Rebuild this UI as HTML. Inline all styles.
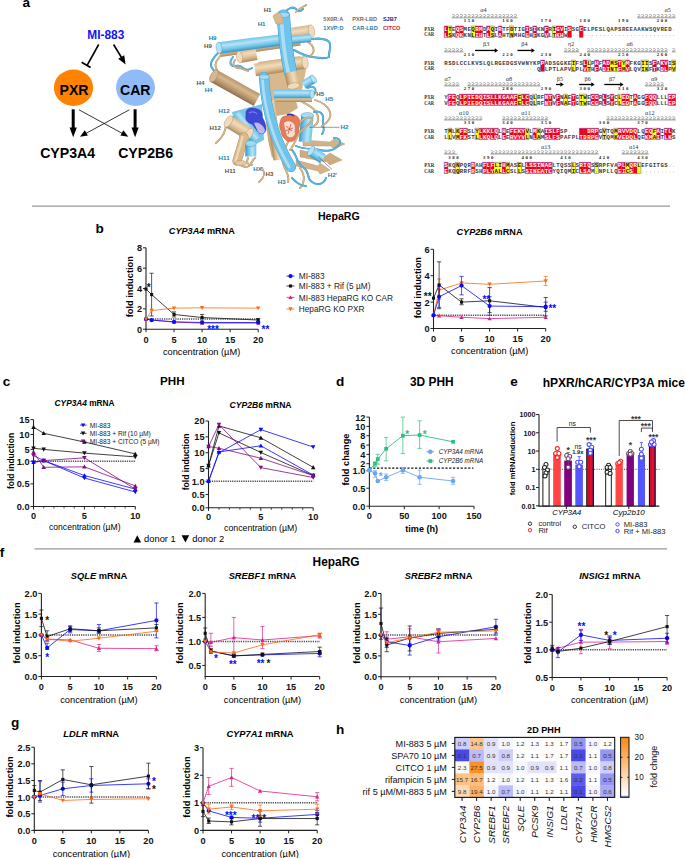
<!DOCTYPE html>
<html><head><meta charset="utf-8"><style>
html,body{margin:0;padding:0;background:#fff;}
body{width:685px;height:858px;overflow:hidden;}
svg{display:block;font-family:"Liberation Sans",sans-serif;}
</style></head><body>
<svg width="685" height="858" viewBox="0 0 685 858">
<rect width="685" height="858" fill="#fff"/>
<text x="22.60" y="7.00" font-size="13.6" font-weight="bold" text-anchor="start" fill="#000">a</text>
<text x="105.80" y="38.76" font-size="11.9" font-weight="bold" text-anchor="middle" fill="#1414f5">MI-883</text>
<ellipse cx="73.5" cy="87.7" rx="19.6" ry="18.2" fill="#ff8200"/>
<ellipse cx="135.5" cy="87.7" rx="19.5" ry="18.2" fill="#8fbcf7"/>
<text x="74.00" y="94.99" font-size="14.1" font-weight="bold" text-anchor="middle" fill="#000">PXR</text>
<text x="135.30" y="94.99" font-size="14.1" font-weight="bold" text-anchor="middle" fill="#000">CAR</text>
<line x1="98.70" y1="44.50" x2="87.20" y2="65.20" stroke="#000" stroke-width="1.6"/>
<line x1="81.60" y1="62.20" x2="90.60" y2="67.60" stroke="#000" stroke-width="1.7"/>
<line x1="113.60" y1="44.50" x2="121.50" y2="57.50" stroke="#000" stroke-width="1.6"/>
<polygon points="125.6,64.5 118.2,58.8 124.2,55.2" fill="#000"/>
<line x1="73.20" y1="109.30" x2="73.20" y2="128.50" stroke="#000" stroke-width="3.0"/>
<polygon points="73.2,137.2 69.6,127.5 76.8,127.5" fill="#000"/>
<line x1="135.10" y1="109.30" x2="135.10" y2="128.50" stroke="#000" stroke-width="3.0"/>
<polygon points="135.1,137.2 131.5,127.5 138.7,127.5" fill="#000"/>
<line x1="79.00" y1="109.80" x2="122.50" y2="133.50" stroke="#000" stroke-width="0.8"/>
<polygon points="128.3,136.8 120.4,135.6 123.4,130.3" fill="#000"/>
<line x1="129.30" y1="109.80" x2="85.80" y2="133.50" stroke="#000" stroke-width="0.8"/>
<polygon points="80.0,136.8 84.8,130.3 87.9,135.6" fill="#000"/>
<text x="67.60" y="158.19" font-size="14.1" font-weight="bold" text-anchor="middle" fill="#000">CYP3A4</text>
<text x="145.60" y="158.19" font-size="14.1" font-weight="bold" text-anchor="middle" fill="#000">CYP2B6</text>
<line x1="32.00" y1="206.20" x2="670.00" y2="206.20" stroke="#9a9a9a" stroke-width="1.2"/>
<line x1="34.50" y1="548.90" x2="667.00" y2="548.90" stroke="#9a9a9a" stroke-width="1.2"/>
<text x="338.80" y="219.97" font-size="10.6" font-weight="bold" text-anchor="middle" fill="#000">HepaRG</text>
<text x="95.60" y="233.00" font-size="13.6" font-weight="bold" text-anchor="start" fill="#000">b</text>
<text x="201.80" y="233.83" font-size="9.15" font-weight="bold" text-anchor="middle"><tspan font-style="italic">CYP3A4</tspan> mRNA</text>
<line x1="146.00" y1="247.80" x2="146.00" y2="329.70" stroke="#222" stroke-width="1.1"/>
<line x1="145.50" y1="329.20" x2="258.20" y2="329.20" stroke="#222" stroke-width="1.1"/>
<line x1="143.00" y1="329.20" x2="146.00" y2="329.20" stroke="#222" stroke-width="1"/>
<text x="142.00" y="332.65" font-size="9.2" font-weight="bold" text-anchor="end" fill="#111">0</text>
<line x1="143.00" y1="308.85" x2="146.00" y2="308.85" stroke="#222" stroke-width="1"/>
<text x="142.00" y="312.30" font-size="9.2" font-weight="bold" text-anchor="end" fill="#111">2</text>
<line x1="143.00" y1="288.50" x2="146.00" y2="288.50" stroke="#222" stroke-width="1"/>
<text x="142.00" y="291.95" font-size="9.2" font-weight="bold" text-anchor="end" fill="#111">4</text>
<line x1="143.00" y1="268.15" x2="146.00" y2="268.15" stroke="#222" stroke-width="1"/>
<text x="142.00" y="271.60" font-size="9.2" font-weight="bold" text-anchor="end" fill="#111">6</text>
<line x1="143.00" y1="247.80" x2="146.00" y2="247.80" stroke="#222" stroke-width="1"/>
<text x="142.00" y="251.25" font-size="9.2" font-weight="bold" text-anchor="end" fill="#111">8</text>
<line x1="146.00" y1="329.20" x2="146.00" y2="332.20" stroke="#222" stroke-width="1"/>
<text x="146.00" y="343.05" font-size="9.2" font-weight="bold" text-anchor="middle" fill="#111">0</text>
<line x1="174.05" y1="329.20" x2="174.05" y2="332.20" stroke="#222" stroke-width="1"/>
<text x="174.05" y="343.05" font-size="9.2" font-weight="bold" text-anchor="middle" fill="#111">5</text>
<line x1="202.10" y1="329.20" x2="202.10" y2="332.20" stroke="#222" stroke-width="1"/>
<text x="202.10" y="343.05" font-size="9.2" font-weight="bold" text-anchor="middle" fill="#111">10</text>
<line x1="230.15" y1="329.20" x2="230.15" y2="332.20" stroke="#222" stroke-width="1"/>
<text x="230.15" y="343.05" font-size="9.2" font-weight="bold" text-anchor="middle" fill="#111">15</text>
<line x1="258.20" y1="329.20" x2="258.20" y2="332.20" stroke="#222" stroke-width="1"/>
<text x="258.20" y="343.05" font-size="9.2" font-weight="bold" text-anchor="middle" fill="#111">20</text>
<text x="129.40" y="290.18" font-size="9.28" font-weight="bold" text-anchor="middle" fill="#000" transform="rotate(-90 129.40 286.70)">fold induction</text>
<text x="201.60" y="354.97" font-size="9.26" text-anchor="middle" fill="#000">concentration (µM)</text>
<line x1="146.00" y1="319.02" x2="258.20" y2="319.02" stroke="#222" stroke-width="1.5" stroke-dasharray="0.8,1.0"/>
<polyline points="146.00,319.02 151.61,320.04 174.05,322.08 202.10,323.09 258.20,323.09" fill="none" stroke="#e0208a" stroke-width="0.8"/>
<polygon points="146.00,316.88 148.15,320.75 143.85,320.75" fill="#e0208a"/>
<polygon points="151.61,317.89 153.76,321.76 149.46,321.76" fill="#e0208a"/>
<polygon points="174.05,319.93 176.20,323.80 171.90,323.80" fill="#e0208a"/>
<polygon points="202.10,320.94 204.25,324.81 199.95,324.81" fill="#e0208a"/>
<polygon points="258.20,320.94 260.35,324.81 256.05,324.81" fill="#e0208a"/>
<line x1="151.61" y1="315.97" x2="151.61" y2="273.24" stroke="#111" stroke-width="0.7"/>
<line x1="149.51" y1="273.24" x2="153.71" y2="273.24" stroke="#111" stroke-width="0.7"/>
<line x1="149.51" y1="315.97" x2="153.71" y2="315.97" stroke="#111" stroke-width="0.7"/>
<line x1="174.05" y1="316.99" x2="174.05" y2="311.90" stroke="#111" stroke-width="0.7"/>
<line x1="171.95" y1="311.90" x2="176.15" y2="311.90" stroke="#111" stroke-width="0.7"/>
<line x1="171.95" y1="316.99" x2="176.15" y2="316.99" stroke="#111" stroke-width="0.7"/>
<line x1="202.10" y1="321.06" x2="202.10" y2="314.45" stroke="#111" stroke-width="0.7"/>
<line x1="200.00" y1="314.45" x2="204.20" y2="314.45" stroke="#111" stroke-width="0.7"/>
<line x1="200.00" y1="321.06" x2="204.20" y2="321.06" stroke="#111" stroke-width="0.7"/>
<line x1="258.20" y1="321.57" x2="258.20" y2="318.52" stroke="#111" stroke-width="0.7"/>
<line x1="256.10" y1="318.52" x2="260.30" y2="318.52" stroke="#111" stroke-width="0.7"/>
<line x1="256.10" y1="321.57" x2="260.30" y2="321.57" stroke="#111" stroke-width="0.7"/>
<polyline points="146.00,289.01 151.61,294.61 174.05,314.45 202.10,317.50 258.20,320.04" fill="none" stroke="#111" stroke-width="0.8"/>
<rect x="144.45" y="287.46" width="3.10" height="3.10" fill="#111"/>
<rect x="150.06" y="293.06" width="3.10" height="3.10" fill="#111"/>
<rect x="172.50" y="312.90" width="3.10" height="3.10" fill="#111"/>
<rect x="200.55" y="315.95" width="3.10" height="3.10" fill="#111"/>
<rect x="256.65" y="318.49" width="3.10" height="3.10" fill="#111"/>
<polyline points="146.00,319.02 151.61,320.04 174.05,321.87 202.10,322.48 258.20,322.48" fill="none" stroke="#0a0aff" stroke-width="0.8"/>
<circle cx="146.00" cy="319.02" r="2.10" fill="#0a0aff"/>
<circle cx="151.61" cy="320.04" r="2.10" fill="#0a0aff"/>
<circle cx="174.05" cy="321.87" r="2.10" fill="#0a0aff"/>
<circle cx="202.10" cy="322.48" r="2.10" fill="#0a0aff"/>
<circle cx="258.20" cy="322.48" r="2.10" fill="#0a0aff"/>
<polyline points="146.00,319.02 151.61,310.58 174.05,308.14 202.10,307.83 258.20,308.14" fill="none" stroke="#ff6a10" stroke-width="0.8"/>
<polygon points="146.00,321.17 148.15,317.30 143.85,317.30" fill="#ff6a10"/>
<polygon points="151.61,312.73 153.76,308.86 149.46,308.86" fill="#ff6a10"/>
<polygon points="174.05,310.29 176.20,306.42 171.90,306.42" fill="#ff6a10"/>
<polygon points="202.10,309.98 204.25,306.11 199.95,306.11" fill="#ff6a10"/>
<polygon points="258.20,310.29 260.35,306.42 256.05,306.42" fill="#ff6a10"/>
<text x="148.70" y="290.85" font-size="10" font-weight="bold" text-anchor="middle" fill="#111">*</text>
<text x="213.00" y="332.55" font-size="10" font-weight="bold" text-anchor="middle" fill="#0a0aff">***</text>
<text x="265.50" y="332.55" font-size="10" font-weight="bold" text-anchor="middle" fill="#0a0aff">**</text>
<line x1="286.50" y1="276.10" x2="294.50" y2="276.10" stroke="#0a0aff" stroke-width="0.8"/>
<circle cx="290.50" cy="276.10" r="2.10" fill="#0a0aff"/>
<text x="298.80" y="279.20" font-size="8.27" text-anchor="start" fill="#222">MI-883</text>
<line x1="286.50" y1="286.00" x2="294.50" y2="286.00" stroke="#111" stroke-width="0.8"/>
<rect x="288.95" y="284.45" width="3.10" height="3.10" fill="#111"/>
<text x="298.80" y="289.10" font-size="8.27" text-anchor="start" fill="#222">MI-883 + Rif (5 µM)</text>
<line x1="286.50" y1="297.40" x2="294.50" y2="297.40" stroke="#e0208a" stroke-width="0.8"/>
<polygon points="290.50,295.25 292.65,299.12 288.35,299.12" fill="#e0208a"/>
<text x="298.80" y="300.50" font-size="8.27" text-anchor="start" fill="#222">MI-883 HepaRG KO CAR</text>
<line x1="286.50" y1="309.00" x2="294.50" y2="309.00" stroke="#ff6a10" stroke-width="0.8"/>
<polygon points="290.50,311.15 292.65,307.28 288.35,307.28" fill="#ff6a10"/>
<text x="298.80" y="312.10" font-size="8.27" text-anchor="start" fill="#222">HepaRG KO PXR</text>
<text x="489.50" y="234.63" font-size="9.15" font-weight="bold" text-anchor="middle"><tspan font-style="italic">CYP2B6</tspan> mRNA</text>
<line x1="433.50" y1="249.30" x2="433.50" y2="329.00" stroke="#222" stroke-width="1.1"/>
<line x1="433.00" y1="328.50" x2="545.70" y2="328.50" stroke="#222" stroke-width="1.1"/>
<line x1="430.50" y1="328.50" x2="433.50" y2="328.50" stroke="#222" stroke-width="1"/>
<text x="429.50" y="331.95" font-size="9.2" font-weight="bold" text-anchor="end" fill="#111">0</text>
<line x1="430.50" y1="302.10" x2="433.50" y2="302.10" stroke="#222" stroke-width="1"/>
<text x="429.50" y="305.55" font-size="9.2" font-weight="bold" text-anchor="end" fill="#111">2</text>
<line x1="430.50" y1="275.70" x2="433.50" y2="275.70" stroke="#222" stroke-width="1"/>
<text x="429.50" y="279.15" font-size="9.2" font-weight="bold" text-anchor="end" fill="#111">4</text>
<line x1="430.50" y1="249.30" x2="433.50" y2="249.30" stroke="#222" stroke-width="1"/>
<text x="429.50" y="252.75" font-size="9.2" font-weight="bold" text-anchor="end" fill="#111">6</text>
<line x1="433.50" y1="328.50" x2="433.50" y2="331.50" stroke="#222" stroke-width="1"/>
<text x="433.50" y="342.05" font-size="9.2" font-weight="bold" text-anchor="middle" fill="#111">0</text>
<line x1="461.55" y1="328.50" x2="461.55" y2="331.50" stroke="#222" stroke-width="1"/>
<text x="461.55" y="342.05" font-size="9.2" font-weight="bold" text-anchor="middle" fill="#111">5</text>
<line x1="489.60" y1="328.50" x2="489.60" y2="331.50" stroke="#222" stroke-width="1"/>
<text x="489.60" y="342.05" font-size="9.2" font-weight="bold" text-anchor="middle" fill="#111">10</text>
<line x1="517.65" y1="328.50" x2="517.65" y2="331.50" stroke="#222" stroke-width="1"/>
<text x="517.65" y="342.05" font-size="9.2" font-weight="bold" text-anchor="middle" fill="#111">15</text>
<line x1="545.70" y1="328.50" x2="545.70" y2="331.50" stroke="#222" stroke-width="1"/>
<text x="545.70" y="342.05" font-size="9.2" font-weight="bold" text-anchor="middle" fill="#111">20</text>
<text x="417.40" y="291.08" font-size="9.28" font-weight="bold" text-anchor="middle" fill="#000" transform="rotate(-90 417.40 287.60)">fold induction</text>
<text x="489.70" y="353.77" font-size="9.26" text-anchor="middle" fill="#000">concentration (µM)</text>
<line x1="433.50" y1="315.30" x2="545.70" y2="315.30" stroke="#222" stroke-width="1.5" stroke-dasharray="0.8,1.0"/>
<polyline points="433.50,315.30 439.11,315.70 461.55,317.28 489.60,318.60 545.70,317.28" fill="none" stroke="#e0208a" stroke-width="0.8"/>
<polygon points="433.50,313.15 435.65,317.02 431.35,317.02" fill="#e0208a"/>
<polygon points="439.11,313.55 441.26,317.42 436.96,317.42" fill="#e0208a"/>
<polygon points="461.55,315.13 463.70,319.00 459.40,319.00" fill="#e0208a"/>
<polygon points="489.60,316.45 491.75,320.32 487.45,320.32" fill="#e0208a"/>
<polygon points="545.70,315.13 547.85,319.00 543.55,319.00" fill="#e0208a"/>
<line x1="439.11" y1="299.46" x2="439.11" y2="279.00" stroke="#ff6a10" stroke-width="0.7"/>
<line x1="437.01" y1="279.00" x2="441.21" y2="279.00" stroke="#ff6a10" stroke-width="0.7"/>
<line x1="437.01" y1="299.46" x2="441.21" y2="299.46" stroke="#ff6a10" stroke-width="0.7"/>
<line x1="545.70" y1="285.60" x2="545.70" y2="276.36" stroke="#ff6a10" stroke-width="0.7"/>
<line x1="543.60" y1="276.36" x2="547.80" y2="276.36" stroke="#ff6a10" stroke-width="0.7"/>
<line x1="543.60" y1="285.60" x2="547.80" y2="285.60" stroke="#ff6a10" stroke-width="0.7"/>
<polyline points="433.50,315.30 439.11,290.22 461.55,282.96 489.60,284.28 545.70,280.98" fill="none" stroke="#ff6a10" stroke-width="0.8"/>
<polygon points="433.50,317.45 435.65,313.58 431.35,313.58" fill="#ff6a10"/>
<polygon points="439.11,292.37 441.26,288.50 436.96,288.50" fill="#ff6a10"/>
<polygon points="461.55,285.11 463.70,281.24 459.40,281.24" fill="#ff6a10"/>
<polygon points="489.60,286.43 491.75,282.56 487.45,282.56" fill="#ff6a10"/>
<polygon points="545.70,283.13 547.85,279.26 543.55,279.26" fill="#ff6a10"/>
<line x1="439.11" y1="308.70" x2="439.11" y2="261.84" stroke="#111" stroke-width="0.7"/>
<line x1="437.01" y1="261.84" x2="441.21" y2="261.84" stroke="#111" stroke-width="0.7"/>
<line x1="437.01" y1="308.70" x2="441.21" y2="308.70" stroke="#111" stroke-width="0.7"/>
<line x1="461.55" y1="304.74" x2="461.55" y2="298.80" stroke="#111" stroke-width="0.7"/>
<line x1="459.45" y1="298.80" x2="463.65" y2="298.80" stroke="#111" stroke-width="0.7"/>
<line x1="459.45" y1="304.74" x2="463.65" y2="304.74" stroke="#111" stroke-width="0.7"/>
<line x1="489.60" y1="312.66" x2="489.60" y2="287.58" stroke="#111" stroke-width="0.7"/>
<line x1="487.50" y1="287.58" x2="491.70" y2="287.58" stroke="#111" stroke-width="0.7"/>
<line x1="487.50" y1="312.66" x2="491.70" y2="312.66" stroke="#111" stroke-width="0.7"/>
<line x1="545.70" y1="315.96" x2="545.70" y2="297.48" stroke="#111" stroke-width="0.7"/>
<line x1="543.60" y1="297.48" x2="547.80" y2="297.48" stroke="#111" stroke-width="0.7"/>
<line x1="543.60" y1="315.96" x2="547.80" y2="315.96" stroke="#111" stroke-width="0.7"/>
<polyline points="433.50,298.14 439.11,284.94 461.55,302.10 489.60,300.78 545.70,307.38" fill="none" stroke="#111" stroke-width="0.8"/>
<rect x="431.95" y="296.59" width="3.10" height="3.10" fill="#111"/>
<rect x="437.56" y="283.39" width="3.10" height="3.10" fill="#111"/>
<rect x="460.00" y="300.55" width="3.10" height="3.10" fill="#111"/>
<rect x="488.05" y="299.23" width="3.10" height="3.10" fill="#111"/>
<rect x="544.15" y="305.83" width="3.10" height="3.10" fill="#111"/>
<line x1="439.11" y1="307.38" x2="439.11" y2="286.26" stroke="#0a0aff" stroke-width="0.7"/>
<line x1="437.01" y1="286.26" x2="441.21" y2="286.26" stroke="#0a0aff" stroke-width="0.7"/>
<line x1="437.01" y1="307.38" x2="441.21" y2="307.38" stroke="#0a0aff" stroke-width="0.7"/>
<line x1="461.55" y1="294.84" x2="461.55" y2="276.36" stroke="#0a0aff" stroke-width="0.7"/>
<line x1="459.45" y1="276.36" x2="463.65" y2="276.36" stroke="#0a0aff" stroke-width="0.7"/>
<line x1="459.45" y1="294.84" x2="463.65" y2="294.84" stroke="#0a0aff" stroke-width="0.7"/>
<line x1="489.60" y1="315.30" x2="489.60" y2="296.82" stroke="#0a0aff" stroke-width="0.7"/>
<line x1="487.50" y1="296.82" x2="491.70" y2="296.82" stroke="#0a0aff" stroke-width="0.7"/>
<line x1="487.50" y1="315.30" x2="491.70" y2="315.30" stroke="#0a0aff" stroke-width="0.7"/>
<line x1="545.70" y1="311.34" x2="545.70" y2="302.10" stroke="#0a0aff" stroke-width="0.7"/>
<line x1="543.60" y1="302.10" x2="547.80" y2="302.10" stroke="#0a0aff" stroke-width="0.7"/>
<line x1="543.60" y1="311.34" x2="547.80" y2="311.34" stroke="#0a0aff" stroke-width="0.7"/>
<polyline points="433.50,315.30 439.11,296.82 461.55,285.60 489.60,306.06 545.70,306.72" fill="none" stroke="#0a0aff" stroke-width="0.8"/>
<circle cx="433.50" cy="315.30" r="2.10" fill="#0a0aff"/>
<circle cx="439.11" cy="296.82" r="2.10" fill="#0a0aff"/>
<circle cx="461.55" cy="285.60" r="2.10" fill="#0a0aff"/>
<circle cx="489.60" cy="306.06" r="2.10" fill="#0a0aff"/>
<circle cx="545.70" cy="306.72" r="2.10" fill="#0a0aff"/>
<text x="427.70" y="300.35" font-size="10" font-weight="bold" text-anchor="middle" fill="#111">**</text>
<text x="486.30" y="303.35" font-size="10" font-weight="bold" text-anchor="middle" fill="#0a0aff">**</text>
<text x="552.30" y="312.35" font-size="10" font-weight="bold" text-anchor="middle" fill="#0a0aff">**</text>
<text x="2.80" y="386.10" font-size="13.6" font-weight="bold" text-anchor="start" fill="#000">c</text>
<text x="172.30" y="384.75" font-size="11.6" font-weight="bold" text-anchor="middle" fill="#000">PHH</text>
<text x="84.60" y="406.11" font-size="8.3" font-weight="bold" text-anchor="middle"><tspan font-style="italic">CYP3A4</tspan> mRNA</text>
<line x1="33.50" y1="419.60" x2="33.50" y2="507.00" stroke="#222" stroke-width="1.1"/>
<line x1="33.00" y1="506.50" x2="135.30" y2="506.50" stroke="#222" stroke-width="1.1"/>
<line x1="30.50" y1="506.50" x2="33.50" y2="506.50" stroke="#222" stroke-width="1"/>
<text x="29.50" y="509.95" font-size="9.2" font-weight="bold" text-anchor="end" fill="#111">0.0</text>
<line x1="30.50" y1="483.90" x2="33.50" y2="483.90" stroke="#222" stroke-width="1"/>
<text x="29.50" y="487.35" font-size="9.2" font-weight="bold" text-anchor="end" fill="#111">0.5</text>
<line x1="30.50" y1="461.30" x2="33.50" y2="461.30" stroke="#222" stroke-width="1"/>
<text x="29.50" y="464.75" font-size="9.2" font-weight="bold" text-anchor="end" fill="#111">1.0</text>
<line x1="30.50" y1="449.39" x2="33.50" y2="449.39" stroke="#222" stroke-width="1"/>
<text x="29.50" y="452.84" font-size="9.2" font-weight="bold" text-anchor="end" fill="#111">5</text>
<line x1="30.50" y1="434.49" x2="33.50" y2="434.49" stroke="#222" stroke-width="1"/>
<text x="29.50" y="437.94" font-size="9.2" font-weight="bold" text-anchor="end" fill="#111">10</text>
<line x1="30.50" y1="419.60" x2="33.50" y2="419.60" stroke="#222" stroke-width="1"/>
<text x="29.50" y="423.05" font-size="9.2" font-weight="bold" text-anchor="end" fill="#111">15</text>
<line x1="33.50" y1="506.50" x2="33.50" y2="509.50" stroke="#222" stroke-width="1"/>
<text x="33.50" y="518.65" font-size="9.2" font-weight="bold" text-anchor="middle" fill="#111">0</text>
<line x1="84.40" y1="506.50" x2="84.40" y2="509.50" stroke="#222" stroke-width="1"/>
<text x="84.40" y="518.65" font-size="9.2" font-weight="bold" text-anchor="middle" fill="#111">5</text>
<line x1="135.30" y1="506.50" x2="135.30" y2="509.50" stroke="#222" stroke-width="1"/>
<text x="135.30" y="518.65" font-size="9.2" font-weight="bold" text-anchor="middle" fill="#111">10</text>
<line x1="43.68" y1="506.50" x2="43.68" y2="508.50" stroke="#222" stroke-width="0.8"/>
<line x1="53.86" y1="506.50" x2="53.86" y2="508.50" stroke="#222" stroke-width="0.8"/>
<line x1="64.04" y1="506.50" x2="64.04" y2="508.50" stroke="#222" stroke-width="0.8"/>
<line x1="74.22" y1="506.50" x2="74.22" y2="508.50" stroke="#222" stroke-width="0.8"/>
<line x1="94.58" y1="506.50" x2="94.58" y2="508.50" stroke="#222" stroke-width="0.8"/>
<line x1="104.76" y1="506.50" x2="104.76" y2="508.50" stroke="#222" stroke-width="0.8"/>
<line x1="114.94" y1="506.50" x2="114.94" y2="508.50" stroke="#222" stroke-width="0.8"/>
<line x1="125.12" y1="506.50" x2="125.12" y2="508.50" stroke="#222" stroke-width="0.8"/>
<text x="11.20" y="464.19" font-size="8.5" font-weight="bold" text-anchor="middle" fill="#000" transform="rotate(-90 11.20 461.00)">fold induction</text>
<text x="84.80" y="529.61" font-size="8.55" text-anchor="middle" fill="#000">concentration (µM)</text>
<line x1="33.50" y1="461.30" x2="135.30" y2="461.30" stroke="#222" stroke-width="1.5" stroke-dasharray="0.8,1.0"/>
<polyline points="33.50,427.10 43.68,433.30 84.40,442.00 135.30,453.90" fill="none" stroke="#111" stroke-width="0.8"/>
<polygon points="33.50,424.84 35.76,428.91 31.24,428.91" fill="#111"/>
<polygon points="43.68,431.04 45.94,435.11 41.42,435.11" fill="#111"/>
<polygon points="84.40,439.74 86.66,443.81 82.14,443.81" fill="#111"/>
<polygon points="135.30,451.64 137.56,455.71 133.04,455.71" fill="#111"/>
<polyline points="33.50,448.20 43.68,449.40 84.40,453.10 135.30,456.90" fill="none" stroke="#111" stroke-width="0.8"/>
<polygon points="33.50,450.46 35.76,446.39 31.24,446.39" fill="#111"/>
<polygon points="43.68,451.66 45.94,447.59 41.42,447.59" fill="#111"/>
<polygon points="84.40,455.36 86.66,451.29 82.14,451.29" fill="#111"/>
<polygon points="135.30,459.16 137.56,455.09 133.04,455.09" fill="#111"/>
<polyline points="33.50,462.30 43.68,460.60 84.40,475.50 135.30,489.10" fill="none" stroke="#0a0aff" stroke-width="0.8"/>
<polygon points="33.50,460.04 35.76,464.11 31.24,464.11" fill="#0a0aff"/>
<polygon points="43.68,458.34 45.94,462.41 41.42,462.41" fill="#0a0aff"/>
<polygon points="84.40,473.24 86.66,477.31 82.14,477.31" fill="#0a0aff"/>
<polygon points="135.30,486.84 137.56,490.91 133.04,490.91" fill="#0a0aff"/>
<polyline points="33.50,462.30 43.68,460.60 84.40,478.00 135.30,492.00" fill="none" stroke="#0a0aff" stroke-width="0.8"/>
<polygon points="33.50,464.56 35.76,460.49 31.24,460.49" fill="#0a0aff"/>
<polygon points="43.68,462.86 45.94,458.79 41.42,458.79" fill="#0a0aff"/>
<polygon points="84.40,480.26 86.66,476.19 82.14,476.19" fill="#0a0aff"/>
<polygon points="135.30,494.26 137.56,490.19 133.04,490.19" fill="#0a0aff"/>
<polyline points="33.50,452.00 43.68,467.30 84.40,466.80 135.30,485.90" fill="none" stroke="#840a84" stroke-width="0.8"/>
<polygon points="33.50,449.74 35.76,453.81 31.24,453.81" fill="#840a84"/>
<polygon points="43.68,465.04 45.94,469.11 41.42,469.11" fill="#840a84"/>
<polygon points="84.40,464.54 86.66,468.61 82.14,468.61" fill="#840a84"/>
<polygon points="135.30,483.64 137.56,487.71 133.04,487.71" fill="#840a84"/>
<polyline points="33.50,455.60 43.68,460.60 84.40,457.80 135.30,489.10" fill="none" stroke="#840a84" stroke-width="0.8"/>
<polygon points="33.50,457.86 35.76,453.79 31.24,453.79" fill="#840a84"/>
<polygon points="43.68,462.86 45.94,458.79 41.42,458.79" fill="#840a84"/>
<polygon points="84.40,460.06 86.66,455.99 82.14,455.99" fill="#840a84"/>
<polygon points="135.30,491.36 137.56,487.29 133.04,487.29" fill="#840a84"/>
<line x1="80.00" y1="425.10" x2="86.50" y2="425.10" stroke="#0a0aff" stroke-width="0.8"/>
<polygon points="83.10,427.25 85.25,423.38 80.95,423.38" fill="#0a0aff"/>
<text x="89.80" y="427.58" font-size="6.62" text-anchor="start" fill="#222">MI-883</text>
<line x1="80.00" y1="433.30" x2="86.50" y2="433.30" stroke="#111" stroke-width="0.8"/>
<polygon points="83.10,435.45 85.25,431.58 80.95,431.58" fill="#111"/>
<text x="89.80" y="435.78" font-size="6.62" text-anchor="start" fill="#222">MI-883 + Rif (10 µM)</text>
<line x1="80.00" y1="441.20" x2="86.50" y2="441.20" stroke="#840a84" stroke-width="0.8"/>
<polygon points="83.10,443.35 85.25,439.48 80.95,439.48" fill="#840a84"/>
<text x="89.80" y="443.68" font-size="6.62" text-anchor="start" fill="#222">MI-883 + CITCO (5 µM)</text>
<text x="260.60" y="407.52" font-size="8.58" font-weight="bold" text-anchor="middle"><tspan font-style="italic">CYP2B6</tspan> mRNA</text>
<line x1="208.50" y1="421.00" x2="208.50" y2="508.30" stroke="#222" stroke-width="1.1"/>
<line x1="208.00" y1="507.80" x2="313.20" y2="507.80" stroke="#222" stroke-width="1.1"/>
<line x1="205.50" y1="507.80" x2="208.50" y2="507.80" stroke="#222" stroke-width="1"/>
<text x="204.50" y="511.25" font-size="9.2" font-weight="bold" text-anchor="end" fill="#111">0.0</text>
<line x1="205.50" y1="494.55" x2="208.50" y2="494.55" stroke="#222" stroke-width="1"/>
<text x="204.50" y="498.00" font-size="9.2" font-weight="bold" text-anchor="end" fill="#111">0.5</text>
<line x1="205.50" y1="481.30" x2="208.50" y2="481.30" stroke="#222" stroke-width="1"/>
<text x="204.50" y="484.75" font-size="9.2" font-weight="bold" text-anchor="end" fill="#111">1.0</text>
<line x1="205.50" y1="468.61" x2="208.50" y2="468.61" stroke="#222" stroke-width="1"/>
<text x="204.50" y="472.06" font-size="9.2" font-weight="bold" text-anchor="end" fill="#111">5</text>
<line x1="205.50" y1="452.74" x2="208.50" y2="452.74" stroke="#222" stroke-width="1"/>
<text x="204.50" y="456.19" font-size="9.2" font-weight="bold" text-anchor="end" fill="#111">10</text>
<line x1="205.50" y1="436.87" x2="208.50" y2="436.87" stroke="#222" stroke-width="1"/>
<text x="204.50" y="440.32" font-size="9.2" font-weight="bold" text-anchor="end" fill="#111">15</text>
<line x1="205.50" y1="421.00" x2="208.50" y2="421.00" stroke="#222" stroke-width="1"/>
<text x="204.50" y="424.45" font-size="9.2" font-weight="bold" text-anchor="end" fill="#111">20</text>
<line x1="208.50" y1="507.80" x2="208.50" y2="510.80" stroke="#222" stroke-width="1"/>
<text x="208.50" y="519.95" font-size="9.2" font-weight="bold" text-anchor="middle" fill="#111">0</text>
<line x1="260.85" y1="507.80" x2="260.85" y2="510.80" stroke="#222" stroke-width="1"/>
<text x="260.85" y="519.95" font-size="9.2" font-weight="bold" text-anchor="middle" fill="#111">5</text>
<line x1="313.20" y1="507.80" x2="313.20" y2="510.80" stroke="#222" stroke-width="1"/>
<text x="313.20" y="519.95" font-size="9.2" font-weight="bold" text-anchor="middle" fill="#111">10</text>
<line x1="218.97" y1="507.80" x2="218.97" y2="509.80" stroke="#222" stroke-width="0.8"/>
<line x1="229.44" y1="507.80" x2="229.44" y2="509.80" stroke="#222" stroke-width="0.8"/>
<line x1="239.91" y1="507.80" x2="239.91" y2="509.80" stroke="#222" stroke-width="0.8"/>
<line x1="250.38" y1="507.80" x2="250.38" y2="509.80" stroke="#222" stroke-width="0.8"/>
<line x1="271.32" y1="507.80" x2="271.32" y2="509.80" stroke="#222" stroke-width="0.8"/>
<line x1="281.79" y1="507.80" x2="281.79" y2="509.80" stroke="#222" stroke-width="0.8"/>
<line x1="292.26" y1="507.80" x2="292.26" y2="509.80" stroke="#222" stroke-width="0.8"/>
<line x1="302.73" y1="507.80" x2="302.73" y2="509.80" stroke="#222" stroke-width="0.8"/>
<text x="185.40" y="465.12" font-size="8.6" font-weight="bold" text-anchor="middle" fill="#000" transform="rotate(-90 185.40 461.90)">fold induction</text>
<text x="260.60" y="530.98" font-size="8.75" text-anchor="middle" fill="#000">concentration (µM)</text>
<line x1="208.50" y1="481.30" x2="313.20" y2="481.30" stroke="#222" stroke-width="1.5" stroke-dasharray="0.8,1.0"/>
<polyline points="208.50,465.63 218.97,425.92 260.85,437.83 313.20,467.37" fill="none" stroke="#111" stroke-width="0.8"/>
<polygon points="208.50,463.37 210.76,467.44 206.24,467.44" fill="#111"/>
<polygon points="218.97,423.66 221.23,427.72 216.71,427.72" fill="#111"/>
<polygon points="260.85,435.57 263.11,439.64 258.59,439.64" fill="#111"/>
<polygon points="313.20,465.11 315.46,469.17 310.94,469.17" fill="#111"/>
<polyline points="208.50,465.63 218.97,432.87 260.85,452.47 313.20,475.56" fill="none" stroke="#111" stroke-width="0.8"/>
<polygon points="208.50,467.89 210.76,463.82 206.24,463.82" fill="#111"/>
<polygon points="218.97,435.12 221.23,431.06 216.71,431.06" fill="#111"/>
<polygon points="260.85,454.73 263.11,450.67 258.59,450.67" fill="#111"/>
<polygon points="313.20,477.81 315.46,473.75 310.94,473.75" fill="#111"/>
<polyline points="208.50,481.27 218.97,452.72 260.85,429.64 313.20,447.01" fill="none" stroke="#0a0aff" stroke-width="0.8"/>
<polygon points="208.50,483.52 210.76,479.46 206.24,479.46" fill="#0a0aff"/>
<polygon points="218.97,454.98 221.23,450.92 216.71,450.92" fill="#0a0aff"/>
<polygon points="260.85,431.90 263.11,427.83 258.59,427.83" fill="#0a0aff"/>
<polygon points="313.20,449.27 315.46,445.21 310.94,445.21" fill="#0a0aff"/>
<polyline points="208.50,481.27 218.97,451.98 260.85,445.77 313.20,475.06" fill="none" stroke="#0a0aff" stroke-width="0.8"/>
<polygon points="208.50,479.01 210.76,483.07 206.24,483.07" fill="#0a0aff"/>
<polygon points="218.97,449.72 221.23,453.78 216.71,453.78" fill="#0a0aff"/>
<polygon points="260.85,443.52 263.11,447.58 258.59,447.58" fill="#0a0aff"/>
<polygon points="313.20,472.80 315.46,476.87 310.94,476.87" fill="#0a0aff"/>
<polyline points="208.50,446.52 218.97,424.68 260.85,467.61 313.20,477.54" fill="none" stroke="#840a84" stroke-width="0.8"/>
<polygon points="208.50,448.78 210.76,444.71 206.24,444.71" fill="#840a84"/>
<polygon points="218.97,426.93 221.23,422.87 216.71,422.87" fill="#840a84"/>
<polygon points="260.85,469.87 263.11,465.81 258.59,465.81" fill="#840a84"/>
<polygon points="313.20,479.80 315.46,475.74 310.94,475.74" fill="#840a84"/>
<polyline points="208.50,446.52 218.97,448.26 260.85,458.18 313.20,475.56" fill="none" stroke="#840a84" stroke-width="0.8"/>
<polygon points="208.50,444.26 210.76,448.32 206.24,448.32" fill="#840a84"/>
<polygon points="218.97,446.00 221.23,450.06 216.71,450.06" fill="#840a84"/>
<polygon points="260.85,455.93 263.11,459.99 258.59,459.99" fill="#840a84"/>
<polygon points="313.20,473.30 315.46,477.36 310.94,477.36" fill="#840a84"/>
<polygon points="133.5,542.4 137.3,535.2 141.1,542.4" fill="#000"/>
<text x="144.00" y="542.12" font-size="9.4" text-anchor="start" fill="#000">donor 1</text>
<polygon points="181.6,535.2 189.2,535.2 185.4,542.4" fill="#000"/>
<text x="192.30" y="542.12" font-size="9.4" text-anchor="start" fill="#000">donor 2</text>
<text x="335.90" y="385.80" font-size="13.6" font-weight="bold" text-anchor="start" fill="#000">d</text>
<text x="431.80" y="385.66" font-size="11.9" font-weight="bold" text-anchor="middle" fill="#000">3D PHH</text>
<line x1="369.40" y1="417.10" x2="369.40" y2="506.70" stroke="#222" stroke-width="1.1"/>
<line x1="368.90" y1="506.20" x2="474.00" y2="506.20" stroke="#222" stroke-width="1.1"/>
<line x1="366.40" y1="506.20" x2="369.40" y2="506.20" stroke="#222" stroke-width="1"/>
<text x="365.40" y="509.65" font-size="9.2" font-weight="bold" text-anchor="end" fill="#111">0.0</text>
<line x1="366.40" y1="488.20" x2="369.40" y2="488.20" stroke="#222" stroke-width="1"/>
<text x="365.40" y="491.65" font-size="9.2" font-weight="bold" text-anchor="end" fill="#111">0.5</text>
<line x1="366.40" y1="470.70" x2="369.40" y2="470.70" stroke="#222" stroke-width="1"/>
<text x="365.40" y="474.15" font-size="9.2" font-weight="bold" text-anchor="end" fill="#111">1.0</text>
<line x1="366.40" y1="463.70" x2="369.40" y2="463.70" stroke="#222" stroke-width="1"/>
<text x="365.40" y="467.15" font-size="9.2" font-weight="bold" text-anchor="end" fill="#111">2</text>
<line x1="366.40" y1="454.38" x2="369.40" y2="454.38" stroke="#222" stroke-width="1"/>
<text x="365.40" y="457.83" font-size="9.2" font-weight="bold" text-anchor="end" fill="#111">4</text>
<line x1="366.40" y1="445.06" x2="369.40" y2="445.06" stroke="#222" stroke-width="1"/>
<text x="365.40" y="448.51" font-size="9.2" font-weight="bold" text-anchor="end" fill="#111">6</text>
<line x1="366.40" y1="435.74" x2="369.40" y2="435.74" stroke="#222" stroke-width="1"/>
<text x="365.40" y="439.19" font-size="9.2" font-weight="bold" text-anchor="end" fill="#111">8</text>
<line x1="366.40" y1="426.42" x2="369.40" y2="426.42" stroke="#222" stroke-width="1"/>
<text x="365.40" y="429.87" font-size="9.2" font-weight="bold" text-anchor="end" fill="#111">10</text>
<line x1="366.40" y1="417.10" x2="369.40" y2="417.10" stroke="#222" stroke-width="1"/>
<text x="365.40" y="420.55" font-size="9.2" font-weight="bold" text-anchor="end" fill="#111">12</text>
<line x1="369.40" y1="506.20" x2="369.40" y2="509.20" stroke="#222" stroke-width="1"/>
<text x="369.40" y="519.25" font-size="9.2" font-weight="bold" text-anchor="middle" fill="#111">0</text>
<line x1="404.27" y1="506.20" x2="404.27" y2="509.20" stroke="#222" stroke-width="1"/>
<text x="404.27" y="519.25" font-size="9.2" font-weight="bold" text-anchor="middle" fill="#111">50</text>
<line x1="439.13" y1="506.20" x2="439.13" y2="509.20" stroke="#222" stroke-width="1"/>
<text x="439.13" y="519.25" font-size="9.2" font-weight="bold" text-anchor="middle" fill="#111">100</text>
<line x1="474.00" y1="506.20" x2="474.00" y2="509.20" stroke="#222" stroke-width="1"/>
<text x="474.00" y="519.25" font-size="9.2" font-weight="bold" text-anchor="middle" fill="#111">150</text>
<text x="345.30" y="462.98" font-size="9.27" font-weight="bold" text-anchor="middle" fill="#000" transform="rotate(-90 345.30 459.50)">fold change</text>
<text x="421.70" y="532.20" font-size="9.08" font-weight="bold" text-anchor="middle" fill="#000">time (h)</text>
<line x1="369.40" y1="468.10" x2="473.40" y2="468.10" stroke="#111" stroke-width="1.2" stroke-dasharray="2.2,1.6"/>
<line x1="374.98" y1="466.34" x2="374.98" y2="461.96" stroke="#2dbf7f" stroke-width="0.7"/>
<line x1="372.78" y1="466.34" x2="377.18" y2="466.34" stroke="#2dbf7f" stroke-width="0.7"/>
<line x1="372.78" y1="461.96" x2="377.18" y2="461.96" stroke="#2dbf7f" stroke-width="0.7"/>
<line x1="377.77" y1="464.15" x2="377.77" y2="454.30" stroke="#2dbf7f" stroke-width="0.7"/>
<line x1="375.57" y1="464.15" x2="379.97" y2="464.15" stroke="#2dbf7f" stroke-width="0.7"/>
<line x1="375.57" y1="454.30" x2="379.97" y2="454.30" stroke="#2dbf7f" stroke-width="0.7"/>
<line x1="386.14" y1="460.87" x2="386.14" y2="437.44" stroke="#2dbf7f" stroke-width="0.7"/>
<line x1="383.94" y1="460.87" x2="388.34" y2="460.87" stroke="#2dbf7f" stroke-width="0.7"/>
<line x1="383.94" y1="437.44" x2="388.34" y2="437.44" stroke="#2dbf7f" stroke-width="0.7"/>
<line x1="402.87" y1="453.64" x2="402.87" y2="417.08" stroke="#2dbf7f" stroke-width="0.7"/>
<line x1="400.67" y1="453.64" x2="405.07" y2="453.64" stroke="#2dbf7f" stroke-width="0.7"/>
<line x1="400.67" y1="417.08" x2="405.07" y2="417.08" stroke="#2dbf7f" stroke-width="0.7"/>
<line x1="419.61" y1="448.39" x2="419.61" y2="420.80" stroke="#2dbf7f" stroke-width="0.7"/>
<line x1="417.41" y1="448.39" x2="421.81" y2="448.39" stroke="#2dbf7f" stroke-width="0.7"/>
<line x1="417.41" y1="420.80" x2="421.81" y2="420.80" stroke="#2dbf7f" stroke-width="0.7"/>
<polyline points="369.40,470.28 374.98,463.72 377.77,459.12 386.14,448.83 402.87,435.69 419.61,435.03 453.08,441.82" fill="none" stroke="#2dbf7f" stroke-width="0.9"/>
<rect x="367.54" y="468.42" width="3.72" height="3.72" fill="#2dbf7f"/>
<rect x="373.12" y="461.86" width="3.72" height="3.72" fill="#2dbf7f"/>
<rect x="375.91" y="457.26" width="3.72" height="3.72" fill="#2dbf7f"/>
<rect x="384.28" y="446.97" width="3.72" height="3.72" fill="#2dbf7f"/>
<rect x="401.01" y="433.83" width="3.72" height="3.72" fill="#2dbf7f"/>
<rect x="417.75" y="433.17" width="3.72" height="3.72" fill="#2dbf7f"/>
<rect x="451.22" y="439.96" width="3.72" height="3.72" fill="#2dbf7f"/>
<line x1="374.98" y1="477.29" x2="374.98" y2="470.72" stroke="#69a7f0" stroke-width="0.7"/>
<line x1="372.78" y1="477.29" x2="377.18" y2="477.29" stroke="#69a7f0" stroke-width="0.7"/>
<line x1="372.78" y1="470.72" x2="377.18" y2="470.72" stroke="#69a7f0" stroke-width="0.7"/>
<line x1="386.14" y1="480.58" x2="386.14" y2="474.01" stroke="#69a7f0" stroke-width="0.7"/>
<line x1="383.94" y1="480.58" x2="388.34" y2="480.58" stroke="#69a7f0" stroke-width="0.7"/>
<line x1="383.94" y1="474.01" x2="388.34" y2="474.01" stroke="#69a7f0" stroke-width="0.7"/>
<line x1="402.87" y1="473.35" x2="402.87" y2="467.44" stroke="#69a7f0" stroke-width="0.7"/>
<line x1="400.67" y1="473.35" x2="405.07" y2="473.35" stroke="#69a7f0" stroke-width="0.7"/>
<line x1="400.67" y1="467.44" x2="405.07" y2="467.44" stroke="#69a7f0" stroke-width="0.7"/>
<line x1="419.61" y1="484.30" x2="419.61" y2="470.28" stroke="#69a7f0" stroke-width="0.7"/>
<line x1="417.41" y1="484.30" x2="421.81" y2="484.30" stroke="#69a7f0" stroke-width="0.7"/>
<line x1="417.41" y1="470.28" x2="421.81" y2="470.28" stroke="#69a7f0" stroke-width="0.7"/>
<line x1="453.08" y1="484.30" x2="453.08" y2="477.29" stroke="#69a7f0" stroke-width="0.7"/>
<line x1="450.88" y1="484.30" x2="455.28" y2="484.30" stroke="#69a7f0" stroke-width="0.7"/>
<line x1="450.88" y1="477.29" x2="455.28" y2="477.29" stroke="#69a7f0" stroke-width="0.7"/>
<polyline points="369.40,470.28 374.98,473.35 377.77,481.01 386.14,477.29 402.87,470.28 419.61,477.29 453.08,481.01" fill="none" stroke="#69a7f0" stroke-width="0.9"/>
<circle cx="369.40" cy="470.28" r="2.31" fill="#69a7f0"/>
<circle cx="374.98" cy="473.35" r="2.31" fill="#69a7f0"/>
<circle cx="377.77" cy="481.01" r="2.31" fill="#69a7f0"/>
<circle cx="386.14" cy="477.29" r="2.31" fill="#69a7f0"/>
<circle cx="402.87" cy="470.28" r="2.31" fill="#69a7f0"/>
<circle cx="419.61" cy="477.29" r="2.31" fill="#69a7f0"/>
<circle cx="453.08" cy="481.01" r="2.31" fill="#69a7f0"/>
<text x="407.10" y="438.35" font-size="10" font-weight="bold" text-anchor="middle" fill="#2dbf7f">*</text>
<text x="424.80" y="438.35" font-size="10" font-weight="bold" text-anchor="middle" fill="#2dbf7f">*</text>
<text x="380.80" y="479.95" font-size="10" font-weight="bold" text-anchor="middle" fill="#69a7f0">*</text>
<line x1="426.40" y1="451.70" x2="434.00" y2="451.70" stroke="#69a7f0" stroke-width="0.9"/>
<circle cx="430.30" cy="451.70" r="2.31" fill="#69a7f0"/>
<line x1="426.40" y1="461.00" x2="434.00" y2="461.00" stroke="#2dbf7f" stroke-width="0.9"/>
<rect x="428.44" y="459.14" width="3.72" height="3.72" fill="#2dbf7f"/>
<text x="438.70" y="454.06" font-size="6.3" font-style="italic" text-anchor="start" fill="#222">CYP3A4 mRNA</text>
<text x="438.70" y="463.36" font-size="6.3" font-style="italic" text-anchor="start" fill="#222">CYP2B6 mRNA</text>
<text x="510.30" y="385.70" font-size="13.6" font-weight="bold" text-anchor="start" fill="#000">e</text>
<text x="542.70" y="387.00" font-size="12" font-weight="bold" text-anchor="start" fill="#000">hPXR/hCAR/CYP3A mice</text>
<line x1="536.00" y1="414.55" x2="539.00" y2="414.55" stroke="#222" stroke-width="1"/>
<text x="535.40" y="417.25" font-size="7.2" font-weight="bold" text-anchor="end" fill="#111">1000</text>
<line x1="536.00" y1="432.80" x2="539.00" y2="432.80" stroke="#222" stroke-width="1"/>
<text x="535.40" y="435.50" font-size="7.2" font-weight="bold" text-anchor="end" fill="#111">100</text>
<line x1="536.00" y1="451.05" x2="539.00" y2="451.05" stroke="#222" stroke-width="1"/>
<text x="535.40" y="453.75" font-size="7.2" font-weight="bold" text-anchor="end" fill="#111">10</text>
<line x1="536.00" y1="469.30" x2="539.00" y2="469.30" stroke="#222" stroke-width="1"/>
<text x="535.40" y="472.00" font-size="7.2" font-weight="bold" text-anchor="end" fill="#111">1</text>
<line x1="536.00" y1="487.55" x2="539.00" y2="487.55" stroke="#222" stroke-width="1"/>
<text x="535.40" y="490.25" font-size="7.2" font-weight="bold" text-anchor="end" fill="#111">0.1</text>
<line x1="536.00" y1="505.80" x2="539.00" y2="505.80" stroke="#222" stroke-width="1"/>
<text x="535.40" y="508.50" font-size="7.2" font-weight="bold" text-anchor="end" fill="#111">0.01</text>
<text x="512.30" y="461.36" font-size="7.63" font-weight="bold" text-anchor="middle" fill="#000" transform="rotate(-90 512.30 458.50)">fold mRNAinduction</text>
<line x1="539.00" y1="469.30" x2="659.40" y2="469.30" stroke="#222" stroke-width="0.9" stroke-dasharray="0.9,1.4"/>
<rect x="542.90" y="468.91" width="6.20" height="37.19" fill="#fff" stroke="#000" stroke-width="0.9"/>
<rect x="553.20" y="452.53" width="7.60" height="53.57" fill="#ff4444"/>
<rect x="564.20" y="460.59" width="7.70" height="45.51" fill="#800080"/>
<rect x="575.30" y="464.82" width="7.60" height="41.28" fill="#5555ff"/>
<rect x="586.80" y="449.03" width="6.60" height="57.07" fill="#a0145a" stroke="#000" stroke-width="1"/>
<rect x="589.90" y="449.53" width="1.8" height="56.07" fill="#ee1020"/>
<rect x="587.50" y="449.53" width="1.4" height="56.07" fill="#d01030"/>
<rect x="605.70" y="468.91" width="5.60" height="37.19" fill="#fff" stroke="#000" stroke-width="0.9"/>
<rect x="615.50" y="463.05" width="7.30" height="43.05" fill="#ff4444"/>
<rect x="626.60" y="453.12" width="7.30" height="52.98" fill="#800080"/>
<rect x="637.90" y="454.97" width="7.10" height="51.13" fill="#5555ff"/>
<rect x="649.40" y="445.48" width="5.80" height="60.62" fill="#a0145a" stroke="#000" stroke-width="1"/>
<rect x="652.10" y="445.98" width="1.8" height="59.62" fill="#ee1020"/>
<rect x="650.10" y="445.98" width="1.4" height="59.62" fill="#d01030"/>
<line x1="539.00" y1="414.55" x2="539.00" y2="506.60" stroke="#222" stroke-width="1.1"/>
<line x1="538.50" y1="506.10" x2="659.40" y2="506.10" stroke="#222" stroke-width="1.1"/>
<line x1="566.40" y1="506.10" x2="566.40" y2="509.10" stroke="#222" stroke-width="1"/>
<line x1="628.80" y1="506.10" x2="628.80" y2="509.10" stroke="#222" stroke-width="1"/>
<circle cx="546.00" cy="464.50" r="2.0" fill="#fff" stroke="#222" stroke-width="1.05"/>
<circle cx="544.50" cy="467.50" r="2.0" fill="#fff" stroke="#222" stroke-width="1.05"/>
<circle cx="547.50" cy="470.00" r="2.0" fill="#fff" stroke="#222" stroke-width="1.05"/>
<circle cx="546.00" cy="473.00" r="2.0" fill="#fff" stroke="#222" stroke-width="1.05"/>
<circle cx="545.00" cy="476.00" r="2.0" fill="#fff" stroke="#222" stroke-width="1.05"/>
<circle cx="557.30" cy="448.60" r="2.0" fill="#fff" stroke="#ff2020" stroke-width="1.05"/>
<circle cx="555.70" cy="453.40" r="2.0" fill="#fff" stroke="#ff2020" stroke-width="1.05"/>
<circle cx="558.90" cy="453.40" r="2.0" fill="#fff" stroke="#ff2020" stroke-width="1.05"/>
<circle cx="557.30" cy="457.60" r="2.0" fill="#fff" stroke="#ff2020" stroke-width="1.05"/>
<line x1="568.20" y1="452.50" x2="568.20" y2="467.30" stroke="#6a4a6a" stroke-width="0.8"/>
<line x1="566.60" y1="452.50" x2="569.80" y2="452.50" stroke="#6a4a6a" stroke-width="0.8"/>
<circle cx="566.70" cy="455.50" r="2.0" fill="#fff" stroke="#6a4a6a" stroke-width="1.05"/>
<circle cx="569.70" cy="456.50" r="2.0" fill="#fff" stroke="#6a4a6a" stroke-width="1.05"/>
<circle cx="568.20" cy="458.80" r="2.0" fill="#fff" stroke="#6a4a6a" stroke-width="1.05"/>
<circle cx="568.20" cy="467.30" r="2.0" fill="#fff" stroke="#6a4a6a" stroke-width="1.05"/>
<line x1="579.20" y1="456.60" x2="579.20" y2="466.80" stroke="#4a4aff" stroke-width="0.8"/>
<line x1="577.60" y1="456.60" x2="580.80" y2="456.60" stroke="#4a4aff" stroke-width="0.8"/>
<circle cx="577.70" cy="462.30" r="2.0" fill="#fff" stroke="#4a4aff" stroke-width="1.05"/>
<circle cx="580.70" cy="462.30" r="2.0" fill="#fff" stroke="#4a4aff" stroke-width="1.05"/>
<circle cx="579.20" cy="466.80" r="2.0" fill="#fff" stroke="#4a4aff" stroke-width="1.05"/>
<line x1="590.30" y1="443.50" x2="590.30" y2="453.30" stroke="#4a4aff" stroke-width="0.8"/>
<line x1="588.70" y1="443.50" x2="591.90" y2="443.50" stroke="#4a4aff" stroke-width="0.8"/>
<circle cx="589.10" cy="444.60" r="2.0" fill="#fff" stroke="#4a4aff" stroke-width="1.05"/>
<circle cx="591.70" cy="447.20" r="2.0" fill="#fff" stroke="#4a4aff" stroke-width="1.05"/>
<circle cx="590.30" cy="450.20" r="2.0" fill="#fff" stroke="#4a4aff" stroke-width="1.05"/>
<circle cx="590.30" cy="453.30" r="2.0" fill="#fff" stroke="#4a4aff" stroke-width="1.05"/>
<circle cx="608.60" cy="465.30" r="2.0" fill="#fff" stroke="#222" stroke-width="1.05"/>
<circle cx="607.10" cy="467.50" r="2.0" fill="#fff" stroke="#222" stroke-width="1.05"/>
<circle cx="610.10" cy="467.50" r="2.0" fill="#fff" stroke="#222" stroke-width="1.05"/>
<circle cx="607.10" cy="472.30" r="2.0" fill="#fff" stroke="#222" stroke-width="1.05"/>
<circle cx="610.10" cy="473.50" r="2.0" fill="#fff" stroke="#222" stroke-width="1.05"/>
<circle cx="617.80" cy="463.40" r="2.0" fill="#fff" stroke="#ff2020" stroke-width="1.05"/>
<circle cx="620.60" cy="461.20" r="2.0" fill="#fff" stroke="#ff2020" stroke-width="1.05"/>
<circle cx="619.20" cy="462.60" r="2.0" fill="#fff" stroke="#ff2020" stroke-width="1.05"/>
<circle cx="628.70" cy="453.40" r="2.0" fill="#fff" stroke="#6a4a6a" stroke-width="1.05"/>
<circle cx="630.30" cy="451.40" r="2.0" fill="#fff" stroke="#6a4a6a" stroke-width="1.05"/>
<circle cx="631.90" cy="453.40" r="2.0" fill="#fff" stroke="#6a4a6a" stroke-width="1.05"/>
<circle cx="630.30" cy="454.20" r="2.0" fill="#fff" stroke="#6a4a6a" stroke-width="1.05"/>
<line x1="641.40" y1="442.60" x2="641.40" y2="458.30" stroke="#4a4aff" stroke-width="0.8"/>
<line x1="639.80" y1="442.60" x2="643.00" y2="442.60" stroke="#4a4aff" stroke-width="0.8"/>
<circle cx="641.40" cy="449.30" r="2.0" fill="#fff" stroke="#4a4aff" stroke-width="1.05"/>
<circle cx="641.40" cy="454.30" r="2.0" fill="#fff" stroke="#4a4aff" stroke-width="1.05"/>
<circle cx="641.40" cy="458.30" r="2.0" fill="#fff" stroke="#4a4aff" stroke-width="1.05"/>
<circle cx="650.50" cy="444.40" r="2.0" fill="#fff" stroke="#4a4aff" stroke-width="1.05"/>
<circle cx="652.50" cy="443.20" r="2.0" fill="#fff" stroke="#4a4aff" stroke-width="1.05"/>
<circle cx="654.10" cy="444.40" r="2.0" fill="#fff" stroke="#4a4aff" stroke-width="1.05"/>
<circle cx="653.50" cy="440.60" r="2.0" fill="#fff" stroke="#4a4aff" stroke-width="1.05"/>
<circle cx="651.50" cy="442.00" r="2.0" fill="#fff" stroke="#4a4aff" stroke-width="1.05"/>
<polyline points="557.1,441.5 557.1,427.5 590.4,427.5 590.4,432.7" fill="none" stroke="#222" stroke-width="0.8"/>
<text x="572.30" y="425.75" font-size="6.8" text-anchor="middle" fill="#222">ns</text>
<polyline points="619.2,456 619.2,420.5 652.5,420.5 652.5,429.2" fill="none" stroke="#222" stroke-width="0.8"/>
<polyline points="641.4,432.1 641.4,428.1 652.5,428.1 652.5,432.1" fill="none" stroke="#222" stroke-width="0.8"/>
<text x="635.90" y="422.42" font-size="8.6" font-weight="bold" text-anchor="middle" fill="#3a3a3a">***</text>
<text x="645.80" y="429.42" font-size="8.6" font-weight="bold" text-anchor="middle" fill="#3a3a3a">***</text>
<text x="591.00" y="442.52" font-size="8.6" font-weight="bold" text-anchor="middle" fill="#3a3a3a">***</text>
<text x="653.40" y="439.82" font-size="8.6" font-weight="bold" text-anchor="middle" fill="#3a3a3a">***</text>
<text x="568.20" y="452.72" font-size="8.6" font-weight="bold" text-anchor="middle" fill="#3a3a3a">*</text>
<text x="630.40" y="448.42" font-size="8.6" font-weight="bold" text-anchor="middle" fill="#3a3a3a">*</text>
<text x="578.10" y="448.65" font-size="6.8" text-anchor="middle" fill="#222">ns</text>
<text x="577.80" y="453.88" font-size="5.8" font-weight="bold" text-anchor="middle" fill="#222">1.9x</text>
<text x="566.80" y="515.15" font-size="7.6" font-style="italic" text-anchor="middle" fill="#000">CYP3A4</text>
<text x="628.80" y="515.30" font-size="8.0" font-style="italic" text-anchor="middle" fill="#000">Cyp2b10</text>
<circle cx="530" cy="523.7" r="1.7" fill="none" stroke="#333" stroke-width="1"/>
<text x="538.40" y="526.05" font-size="7.6" text-anchor="start" fill="#222">control</text>
<circle cx="530" cy="530.2" r="1.7" fill="none" stroke="#ff2020" stroke-width="1"/>
<text x="538.40" y="533.15" font-size="7.6" text-anchor="start" fill="#222">Rif</text>
<circle cx="574.8" cy="526.8" r="1.7" fill="none" stroke="#333" stroke-width="1"/>
<text x="581.70" y="529.45" font-size="7.6" text-anchor="start" fill="#222">CITCO</text>
<circle cx="617.5" cy="524.4" r="1.7" fill="none" stroke="#4a4aff" stroke-width="1"/>
<text x="623.80" y="527.05" font-size="7.6" text-anchor="start" fill="#222">MI-883</text>
<circle cx="617.5" cy="531" r="1.7" fill="none" stroke="#4a4aff" stroke-width="1"/>
<text x="623.80" y="533.65" font-size="7.6" text-anchor="start" fill="#222">Rif + MI-883</text>
<text x="-0.30" y="556.90" font-size="13.6" font-weight="bold" text-anchor="start" fill="#000">f</text>
<text x="312.60" y="566.10" font-size="11.9" font-weight="bold" text-anchor="start" fill="#000">HepaRG</text>
<text x="99.00" y="578.99" font-size="9.3" font-weight="bold" text-anchor="middle"><tspan font-style="italic">SQLE</tspan> mRNA</text>
<line x1="41.40" y1="593.40" x2="41.40" y2="677.00" stroke="#222" stroke-width="1.1"/>
<line x1="40.90" y1="676.50" x2="156.40" y2="676.50" stroke="#222" stroke-width="1.1"/>
<line x1="38.40" y1="676.50" x2="41.40" y2="676.50" stroke="#222" stroke-width="1"/>
<text x="37.40" y="679.95" font-size="9.2" font-weight="bold" text-anchor="end" fill="#111">0.0</text>
<line x1="38.40" y1="655.73" x2="41.40" y2="655.73" stroke="#222" stroke-width="1"/>
<text x="37.40" y="659.18" font-size="9.2" font-weight="bold" text-anchor="end" fill="#111">0.5</text>
<line x1="38.40" y1="634.95" x2="41.40" y2="634.95" stroke="#222" stroke-width="1"/>
<text x="37.40" y="638.40" font-size="9.2" font-weight="bold" text-anchor="end" fill="#111">1.0</text>
<line x1="38.40" y1="614.17" x2="41.40" y2="614.17" stroke="#222" stroke-width="1"/>
<text x="37.40" y="617.62" font-size="9.2" font-weight="bold" text-anchor="end" fill="#111">1.5</text>
<line x1="38.40" y1="593.40" x2="41.40" y2="593.40" stroke="#222" stroke-width="1"/>
<text x="37.40" y="596.85" font-size="9.2" font-weight="bold" text-anchor="end" fill="#111">2.0</text>
<line x1="41.40" y1="676.50" x2="41.40" y2="679.50" stroke="#222" stroke-width="1"/>
<text x="41.40" y="690.35" font-size="9.2" font-weight="bold" text-anchor="middle" fill="#111">0</text>
<line x1="70.15" y1="676.50" x2="70.15" y2="679.50" stroke="#222" stroke-width="1"/>
<text x="70.15" y="690.35" font-size="9.2" font-weight="bold" text-anchor="middle" fill="#111">5</text>
<line x1="98.90" y1="676.50" x2="98.90" y2="679.50" stroke="#222" stroke-width="1"/>
<text x="98.90" y="690.35" font-size="9.2" font-weight="bold" text-anchor="middle" fill="#111">10</text>
<line x1="127.65" y1="676.50" x2="127.65" y2="679.50" stroke="#222" stroke-width="1"/>
<text x="127.65" y="690.35" font-size="9.2" font-weight="bold" text-anchor="middle" fill="#111">15</text>
<line x1="156.40" y1="676.50" x2="156.40" y2="679.50" stroke="#222" stroke-width="1"/>
<text x="156.40" y="690.35" font-size="9.2" font-weight="bold" text-anchor="middle" fill="#111">20</text>
<text x="16.90" y="636.48" font-size="9.28" font-weight="bold" text-anchor="middle" fill="#000" transform="rotate(-90 16.90 633.00)">fold induction</text>
<text x="98.90" y="703.07" font-size="9.26" text-anchor="middle" fill="#000">concentration (µM)</text>
<line x1="41.40" y1="634.95" x2="156.40" y2="634.95" stroke="#222" stroke-width="1.5" stroke-dasharray="0.8,1.0"/>
<line x1="98.90" y1="651.57" x2="98.90" y2="644.51" stroke="#e0208a" stroke-width="0.7"/>
<line x1="96.80" y1="644.51" x2="101.00" y2="644.51" stroke="#e0208a" stroke-width="0.7"/>
<line x1="96.80" y1="651.57" x2="101.00" y2="651.57" stroke="#e0208a" stroke-width="0.7"/>
<line x1="156.40" y1="650.74" x2="156.40" y2="645.75" stroke="#e0208a" stroke-width="0.7"/>
<line x1="154.30" y1="645.75" x2="158.50" y2="645.75" stroke="#e0208a" stroke-width="0.7"/>
<line x1="154.30" y1="650.74" x2="158.50" y2="650.74" stroke="#e0208a" stroke-width="0.7"/>
<polyline points="41.40,634.95 47.15,639.11 70.15,639.94 98.90,648.25 156.40,648.66" fill="none" stroke="#e0208a" stroke-width="0.8"/>
<polygon points="41.40,632.80 43.55,636.67 39.25,636.67" fill="#e0208a"/>
<polygon points="47.15,636.96 49.30,640.83 45.00,640.83" fill="#e0208a"/>
<polygon points="70.15,637.79 72.30,641.66 68.00,641.66" fill="#e0208a"/>
<polygon points="98.90,646.10 101.05,649.97 96.75,649.97" fill="#e0208a"/>
<polygon points="156.40,646.51 158.55,650.38 154.25,650.38" fill="#e0208a"/>
<line x1="47.15" y1="649.49" x2="47.15" y2="643.26" stroke="#0a0aff" stroke-width="0.7"/>
<line x1="45.05" y1="643.26" x2="49.25" y2="643.26" stroke="#0a0aff" stroke-width="0.7"/>
<line x1="45.05" y1="649.49" x2="49.25" y2="649.49" stroke="#0a0aff" stroke-width="0.7"/>
<line x1="70.15" y1="632.87" x2="70.15" y2="626.64" stroke="#0a0aff" stroke-width="0.7"/>
<line x1="68.05" y1="626.64" x2="72.25" y2="626.64" stroke="#0a0aff" stroke-width="0.7"/>
<line x1="68.05" y1="632.87" x2="72.25" y2="632.87" stroke="#0a0aff" stroke-width="0.7"/>
<line x1="98.90" y1="632.87" x2="98.90" y2="624.56" stroke="#0a0aff" stroke-width="0.7"/>
<line x1="96.80" y1="624.56" x2="101.00" y2="624.56" stroke="#0a0aff" stroke-width="0.7"/>
<line x1="96.80" y1="632.87" x2="101.00" y2="632.87" stroke="#0a0aff" stroke-width="0.7"/>
<line x1="156.40" y1="637.86" x2="156.40" y2="602.96" stroke="#0a0aff" stroke-width="0.7"/>
<line x1="154.30" y1="602.96" x2="158.50" y2="602.96" stroke="#0a0aff" stroke-width="0.7"/>
<line x1="154.30" y1="637.86" x2="158.50" y2="637.86" stroke="#0a0aff" stroke-width="0.7"/>
<polyline points="41.40,634.95 47.15,647.83 70.15,629.55 98.90,630.79 156.40,620.41" fill="none" stroke="#0a0aff" stroke-width="0.8"/>
<circle cx="41.40" cy="634.95" r="2.10" fill="#0a0aff"/>
<circle cx="47.15" cy="647.83" r="2.10" fill="#0a0aff"/>
<circle cx="70.15" cy="629.55" r="2.10" fill="#0a0aff"/>
<circle cx="98.90" cy="630.79" r="2.10" fill="#0a0aff"/>
<circle cx="156.40" cy="620.41" r="2.10" fill="#0a0aff"/>
<line x1="41.40" y1="626.64" x2="41.40" y2="610.02" stroke="#111" stroke-width="0.7"/>
<line x1="39.30" y1="610.02" x2="43.50" y2="610.02" stroke="#111" stroke-width="0.7"/>
<line x1="39.30" y1="626.64" x2="43.50" y2="626.64" stroke="#111" stroke-width="0.7"/>
<line x1="47.15" y1="641.18" x2="47.15" y2="630.79" stroke="#111" stroke-width="0.7"/>
<line x1="45.05" y1="630.79" x2="49.25" y2="630.79" stroke="#111" stroke-width="0.7"/>
<line x1="45.05" y1="641.18" x2="49.25" y2="641.18" stroke="#111" stroke-width="0.7"/>
<line x1="70.15" y1="631.63" x2="70.15" y2="625.81" stroke="#111" stroke-width="0.7"/>
<line x1="68.05" y1="625.81" x2="72.25" y2="625.81" stroke="#111" stroke-width="0.7"/>
<line x1="68.05" y1="631.63" x2="72.25" y2="631.63" stroke="#111" stroke-width="0.7"/>
<line x1="98.90" y1="633.29" x2="98.90" y2="627.89" stroke="#111" stroke-width="0.7"/>
<line x1="96.80" y1="627.89" x2="101.00" y2="627.89" stroke="#111" stroke-width="0.7"/>
<line x1="96.80" y1="633.29" x2="101.00" y2="633.29" stroke="#111" stroke-width="0.7"/>
<line x1="156.40" y1="631.21" x2="156.40" y2="624.56" stroke="#111" stroke-width="0.7"/>
<line x1="154.30" y1="624.56" x2="158.50" y2="624.56" stroke="#111" stroke-width="0.7"/>
<line x1="154.30" y1="631.21" x2="158.50" y2="631.21" stroke="#111" stroke-width="0.7"/>
<polyline points="41.40,618.33 47.15,636.61 70.15,628.72 98.90,630.79 156.40,627.89" fill="none" stroke="#111" stroke-width="0.8"/>
<rect x="39.85" y="616.78" width="3.10" height="3.10" fill="#111"/>
<rect x="45.60" y="635.06" width="3.10" height="3.10" fill="#111"/>
<rect x="68.60" y="627.17" width="3.10" height="3.10" fill="#111"/>
<rect x="97.35" y="629.25" width="3.10" height="3.10" fill="#111"/>
<rect x="154.85" y="626.34" width="3.10" height="3.10" fill="#111"/>
<polyline points="41.40,634.95 47.15,639.11 70.15,641.18 98.90,638.27 156.40,631.21" fill="none" stroke="#ff6a10" stroke-width="0.8"/>
<polygon points="41.40,637.10 43.55,633.23 39.25,633.23" fill="#ff6a10"/>
<polygon points="47.15,641.25 49.30,637.38 45.00,637.38" fill="#ff6a10"/>
<polygon points="70.15,643.33 72.30,639.46 68.00,639.46" fill="#ff6a10"/>
<polygon points="98.90,640.42 101.05,636.55 96.75,636.55" fill="#ff6a10"/>
<polygon points="156.40,633.36 158.55,629.49 154.25,629.49" fill="#ff6a10"/>
<text x="47.20" y="623.75" font-size="10" font-weight="bold" text-anchor="middle" fill="#111">*</text>
<text x="47.20" y="660.55" font-size="10" font-weight="bold" text-anchor="middle" fill="#0a0aff">*</text>
<text x="262.50" y="578.99" font-size="9.3" font-weight="bold" text-anchor="middle"><tspan font-style="italic">SREBF1</tspan> mRNA</text>
<line x1="205.20" y1="593.40" x2="205.20" y2="677.00" stroke="#222" stroke-width="1.1"/>
<line x1="204.70" y1="676.50" x2="319.70" y2="676.50" stroke="#222" stroke-width="1.1"/>
<line x1="202.20" y1="665.45" x2="205.20" y2="665.45" stroke="#222" stroke-width="1"/>
<text x="201.20" y="668.90" font-size="9.2" font-weight="bold" text-anchor="end" fill="#111">0.5</text>
<line x1="202.20" y1="641.43" x2="205.20" y2="641.43" stroke="#222" stroke-width="1"/>
<text x="201.20" y="644.88" font-size="9.2" font-weight="bold" text-anchor="end" fill="#111">1.0</text>
<line x1="202.20" y1="617.42" x2="205.20" y2="617.42" stroke="#222" stroke-width="1"/>
<text x="201.20" y="620.87" font-size="9.2" font-weight="bold" text-anchor="end" fill="#111">1.5</text>
<line x1="202.20" y1="593.40" x2="205.20" y2="593.40" stroke="#222" stroke-width="1"/>
<text x="201.20" y="596.85" font-size="9.2" font-weight="bold" text-anchor="end" fill="#111">2.0</text>
<line x1="205.20" y1="676.50" x2="205.20" y2="679.50" stroke="#222" stroke-width="1"/>
<text x="205.20" y="690.35" font-size="9.2" font-weight="bold" text-anchor="middle" fill="#111">0</text>
<line x1="233.82" y1="676.50" x2="233.82" y2="679.50" stroke="#222" stroke-width="1"/>
<text x="233.82" y="690.35" font-size="9.2" font-weight="bold" text-anchor="middle" fill="#111">5</text>
<line x1="262.45" y1="676.50" x2="262.45" y2="679.50" stroke="#222" stroke-width="1"/>
<text x="262.45" y="690.35" font-size="9.2" font-weight="bold" text-anchor="middle" fill="#111">10</text>
<line x1="291.07" y1="676.50" x2="291.07" y2="679.50" stroke="#222" stroke-width="1"/>
<text x="291.07" y="690.35" font-size="9.2" font-weight="bold" text-anchor="middle" fill="#111">15</text>
<line x1="319.70" y1="676.50" x2="319.70" y2="679.50" stroke="#222" stroke-width="1"/>
<text x="319.70" y="690.35" font-size="9.2" font-weight="bold" text-anchor="middle" fill="#111">20</text>
<text x="179.90" y="636.48" font-size="9.28" font-weight="bold" text-anchor="middle" fill="#000" transform="rotate(-90 179.90 633.00)">fold induction</text>
<text x="262.45" y="703.07" font-size="9.26" text-anchor="middle" fill="#000">concentration (µM)</text>
<line x1="205.20" y1="641.43" x2="319.70" y2="641.43" stroke="#222" stroke-width="1.5" stroke-dasharray="0.8,1.0"/>
<line x1="210.92" y1="646.24" x2="210.92" y2="633.27" stroke="#e0208a" stroke-width="0.7"/>
<line x1="208.82" y1="633.27" x2="213.02" y2="633.27" stroke="#e0208a" stroke-width="0.7"/>
<line x1="208.82" y1="646.24" x2="213.02" y2="646.24" stroke="#e0208a" stroke-width="0.7"/>
<line x1="233.82" y1="653.44" x2="233.82" y2="617.42" stroke="#e0208a" stroke-width="0.7"/>
<line x1="231.72" y1="617.42" x2="235.92" y2="617.42" stroke="#e0208a" stroke-width="0.7"/>
<line x1="231.72" y1="653.44" x2="235.92" y2="653.44" stroke="#e0208a" stroke-width="0.7"/>
<line x1="262.45" y1="648.64" x2="262.45" y2="626.54" stroke="#e0208a" stroke-width="0.7"/>
<line x1="260.35" y1="626.54" x2="264.55" y2="626.54" stroke="#e0208a" stroke-width="0.7"/>
<line x1="260.35" y1="648.64" x2="264.55" y2="648.64" stroke="#e0208a" stroke-width="0.7"/>
<line x1="319.70" y1="638.07" x2="319.70" y2="633.27" stroke="#e0208a" stroke-width="0.7"/>
<line x1="317.60" y1="633.27" x2="321.80" y2="633.27" stroke="#e0208a" stroke-width="0.7"/>
<line x1="317.60" y1="638.07" x2="321.80" y2="638.07" stroke="#e0208a" stroke-width="0.7"/>
<polyline points="205.20,641.43 210.92,642.40 233.82,637.59 262.45,639.99 319.70,635.67" fill="none" stroke="#e0208a" stroke-width="0.8"/>
<polygon points="205.20,639.28 207.35,643.15 203.05,643.15" fill="#e0208a"/>
<polygon points="210.92,640.25 213.07,644.12 208.77,644.12" fill="#e0208a"/>
<polygon points="233.82,635.44 235.97,639.31 231.67,639.31" fill="#e0208a"/>
<polygon points="262.45,637.84 264.60,641.71 260.30,641.71" fill="#e0208a"/>
<polygon points="319.70,633.52 321.85,637.39 317.55,637.39" fill="#e0208a"/>
<line x1="319.70" y1="656.81" x2="319.70" y2="651.04" stroke="#0a0aff" stroke-width="0.7"/>
<line x1="317.60" y1="651.04" x2="321.80" y2="651.04" stroke="#0a0aff" stroke-width="0.7"/>
<line x1="317.60" y1="656.81" x2="321.80" y2="656.81" stroke="#0a0aff" stroke-width="0.7"/>
<polyline points="205.20,641.43 210.92,651.04 233.82,655.85 262.45,654.88 319.70,653.44" fill="none" stroke="#0a0aff" stroke-width="0.8"/>
<circle cx="205.20" cy="641.43" r="2.10" fill="#0a0aff"/>
<circle cx="210.92" cy="651.04" r="2.10" fill="#0a0aff"/>
<circle cx="233.82" cy="655.85" r="2.10" fill="#0a0aff"/>
<circle cx="262.45" cy="654.88" r="2.10" fill="#0a0aff"/>
<circle cx="319.70" cy="653.44" r="2.10" fill="#0a0aff"/>
<line x1="205.20" y1="639.03" x2="205.20" y2="627.98" stroke="#111" stroke-width="0.7"/>
<line x1="203.10" y1="627.98" x2="207.30" y2="627.98" stroke="#111" stroke-width="0.7"/>
<line x1="203.10" y1="639.03" x2="207.30" y2="639.03" stroke="#111" stroke-width="0.7"/>
<line x1="210.92" y1="653.44" x2="210.92" y2="648.64" stroke="#111" stroke-width="0.7"/>
<line x1="208.82" y1="648.64" x2="213.02" y2="648.64" stroke="#111" stroke-width="0.7"/>
<line x1="208.82" y1="653.44" x2="213.02" y2="653.44" stroke="#111" stroke-width="0.7"/>
<line x1="233.82" y1="657.29" x2="233.82" y2="654.40" stroke="#111" stroke-width="0.7"/>
<line x1="231.72" y1="654.40" x2="235.92" y2="654.40" stroke="#111" stroke-width="0.7"/>
<line x1="231.72" y1="657.29" x2="235.92" y2="657.29" stroke="#111" stroke-width="0.7"/>
<line x1="262.45" y1="655.85" x2="262.45" y2="652.96" stroke="#111" stroke-width="0.7"/>
<line x1="260.35" y1="652.96" x2="264.55" y2="652.96" stroke="#111" stroke-width="0.7"/>
<line x1="260.35" y1="655.85" x2="264.55" y2="655.85" stroke="#111" stroke-width="0.7"/>
<line x1="319.70" y1="653.92" x2="319.70" y2="647.20" stroke="#111" stroke-width="0.7"/>
<line x1="317.60" y1="647.20" x2="321.80" y2="647.20" stroke="#111" stroke-width="0.7"/>
<line x1="317.60" y1="653.92" x2="321.80" y2="653.92" stroke="#111" stroke-width="0.7"/>
<polyline points="205.20,633.27 210.92,651.04 233.82,655.85 262.45,654.40 319.70,651.52" fill="none" stroke="#111" stroke-width="0.8"/>
<rect x="203.65" y="631.72" width="3.10" height="3.10" fill="#111"/>
<rect x="209.37" y="649.49" width="3.10" height="3.10" fill="#111"/>
<rect x="232.27" y="654.30" width="3.10" height="3.10" fill="#111"/>
<rect x="260.90" y="652.85" width="3.10" height="3.10" fill="#111"/>
<rect x="318.15" y="649.97" width="3.10" height="3.10" fill="#111"/>
<line x1="319.70" y1="636.63" x2="319.70" y2="633.27" stroke="#ff6a10" stroke-width="0.7"/>
<line x1="317.60" y1="633.27" x2="321.80" y2="633.27" stroke="#ff6a10" stroke-width="0.7"/>
<line x1="317.60" y1="636.63" x2="321.80" y2="636.63" stroke="#ff6a10" stroke-width="0.7"/>
<polyline points="205.20,641.43 210.92,652.00 233.82,652.96 262.45,644.80 319.70,634.71" fill="none" stroke="#ff6a10" stroke-width="0.8"/>
<polygon points="205.20,643.58 207.35,639.71 203.05,639.71" fill="#ff6a10"/>
<polygon points="210.92,654.15 213.07,650.28 208.77,650.28" fill="#ff6a10"/>
<polygon points="233.82,655.11 235.97,651.24 231.67,651.24" fill="#ff6a10"/>
<polygon points="262.45,646.95 264.60,643.08 260.30,643.08" fill="#ff6a10"/>
<polygon points="319.70,636.86 321.85,632.99 317.55,632.99" fill="#ff6a10"/>
<text x="215.90" y="661.75" font-size="10" font-weight="bold" text-anchor="middle" fill="#0a0aff">*</text>
<text x="232.80" y="667.95" font-size="10" font-weight="bold" text-anchor="middle" fill="#0a0aff">**</text>
<text x="260.60" y="667.45" font-size="10" font-weight="bold" text-anchor="middle" fill="#0a0aff">**</text>
<text x="268.50" y="667.45" font-size="10" font-weight="bold" text-anchor="middle" fill="#111">*</text>
<text x="438.60" y="578.99" font-size="9.3" font-weight="bold" text-anchor="middle"><tspan font-style="italic">SREBF2</tspan> mRNA</text>
<line x1="381.00" y1="593.50" x2="381.00" y2="677.20" stroke="#222" stroke-width="1.1"/>
<line x1="380.50" y1="676.70" x2="495.90" y2="676.70" stroke="#222" stroke-width="1.1"/>
<line x1="378.00" y1="676.70" x2="381.00" y2="676.70" stroke="#222" stroke-width="1"/>
<text x="377.00" y="680.15" font-size="9.2" font-weight="bold" text-anchor="end" fill="#111">0.0</text>
<line x1="378.00" y1="655.90" x2="381.00" y2="655.90" stroke="#222" stroke-width="1"/>
<text x="377.00" y="659.35" font-size="9.2" font-weight="bold" text-anchor="end" fill="#111">0.5</text>
<line x1="378.00" y1="635.10" x2="381.00" y2="635.10" stroke="#222" stroke-width="1"/>
<text x="377.00" y="638.55" font-size="9.2" font-weight="bold" text-anchor="end" fill="#111">1.0</text>
<line x1="378.00" y1="614.30" x2="381.00" y2="614.30" stroke="#222" stroke-width="1"/>
<text x="377.00" y="617.75" font-size="9.2" font-weight="bold" text-anchor="end" fill="#111">1.5</text>
<line x1="378.00" y1="593.50" x2="381.00" y2="593.50" stroke="#222" stroke-width="1"/>
<text x="377.00" y="596.95" font-size="9.2" font-weight="bold" text-anchor="end" fill="#111">2.0</text>
<line x1="381.00" y1="676.70" x2="381.00" y2="679.70" stroke="#222" stroke-width="1"/>
<text x="381.00" y="690.05" font-size="9.2" font-weight="bold" text-anchor="middle" fill="#111">0</text>
<line x1="409.73" y1="676.70" x2="409.73" y2="679.70" stroke="#222" stroke-width="1"/>
<text x="409.73" y="690.05" font-size="9.2" font-weight="bold" text-anchor="middle" fill="#111">5</text>
<line x1="438.45" y1="676.70" x2="438.45" y2="679.70" stroke="#222" stroke-width="1"/>
<text x="438.45" y="690.05" font-size="9.2" font-weight="bold" text-anchor="middle" fill="#111">10</text>
<line x1="467.17" y1="676.70" x2="467.17" y2="679.70" stroke="#222" stroke-width="1"/>
<text x="467.17" y="690.05" font-size="9.2" font-weight="bold" text-anchor="middle" fill="#111">15</text>
<line x1="495.90" y1="676.70" x2="495.90" y2="679.70" stroke="#222" stroke-width="1"/>
<text x="495.90" y="690.05" font-size="9.2" font-weight="bold" text-anchor="middle" fill="#111">20</text>
<text x="356.10" y="636.48" font-size="9.28" font-weight="bold" text-anchor="middle" fill="#000" transform="rotate(-90 356.10 633.00)">fold induction</text>
<text x="438.45" y="703.07" font-size="9.26" text-anchor="middle" fill="#000">concentration (µM)</text>
<line x1="381.00" y1="635.10" x2="495.90" y2="635.10" stroke="#222" stroke-width="1.5" stroke-dasharray="0.8,1.0"/>
<line x1="386.75" y1="644.25" x2="386.75" y2="631.77" stroke="#e0208a" stroke-width="0.7"/>
<line x1="384.64" y1="631.77" x2="388.85" y2="631.77" stroke="#e0208a" stroke-width="0.7"/>
<line x1="384.64" y1="644.25" x2="388.85" y2="644.25" stroke="#e0208a" stroke-width="0.7"/>
<line x1="409.73" y1="643.42" x2="409.73" y2="628.86" stroke="#e0208a" stroke-width="0.7"/>
<line x1="407.62" y1="628.86" x2="411.83" y2="628.86" stroke="#e0208a" stroke-width="0.7"/>
<line x1="407.62" y1="643.42" x2="411.83" y2="643.42" stroke="#e0208a" stroke-width="0.7"/>
<line x1="438.45" y1="652.99" x2="438.45" y2="630.52" stroke="#e0208a" stroke-width="0.7"/>
<line x1="436.35" y1="630.52" x2="440.55" y2="630.52" stroke="#e0208a" stroke-width="0.7"/>
<line x1="436.35" y1="652.99" x2="440.55" y2="652.99" stroke="#e0208a" stroke-width="0.7"/>
<polyline points="381.00,635.10 386.75,639.26 409.73,636.76 438.45,641.76 495.90,638.43" fill="none" stroke="#e0208a" stroke-width="0.8"/>
<polygon points="381.00,632.95 383.15,636.82 378.85,636.82" fill="#e0208a"/>
<polygon points="386.75,637.11 388.89,640.98 384.60,640.98" fill="#e0208a"/>
<polygon points="409.73,634.61 411.88,638.48 407.58,638.48" fill="#e0208a"/>
<polygon points="438.45,639.61 440.60,643.48 436.30,643.48" fill="#e0208a"/>
<polygon points="495.90,636.28 498.05,640.15 493.75,640.15" fill="#e0208a"/>
<line x1="386.75" y1="647.58" x2="386.75" y2="637.18" stroke="#0a0aff" stroke-width="0.7"/>
<line x1="384.64" y1="637.18" x2="388.85" y2="637.18" stroke="#0a0aff" stroke-width="0.7"/>
<line x1="384.64" y1="647.58" x2="388.85" y2="647.58" stroke="#0a0aff" stroke-width="0.7"/>
<line x1="409.73" y1="655.07" x2="409.73" y2="635.93" stroke="#0a0aff" stroke-width="0.7"/>
<line x1="407.62" y1="635.93" x2="411.83" y2="635.93" stroke="#0a0aff" stroke-width="0.7"/>
<line x1="407.62" y1="655.07" x2="411.83" y2="655.07" stroke="#0a0aff" stroke-width="0.7"/>
<line x1="438.45" y1="640.09" x2="438.45" y2="628.86" stroke="#0a0aff" stroke-width="0.7"/>
<line x1="436.35" y1="628.86" x2="440.55" y2="628.86" stroke="#0a0aff" stroke-width="0.7"/>
<line x1="436.35" y1="640.09" x2="440.55" y2="640.09" stroke="#0a0aff" stroke-width="0.7"/>
<line x1="495.90" y1="635.10" x2="495.90" y2="619.29" stroke="#0a0aff" stroke-width="0.7"/>
<line x1="493.80" y1="619.29" x2="498.00" y2="619.29" stroke="#0a0aff" stroke-width="0.7"/>
<line x1="493.80" y1="635.10" x2="498.00" y2="635.10" stroke="#0a0aff" stroke-width="0.7"/>
<polyline points="381.00,635.10 386.75,641.76 409.73,645.50 438.45,636.76 495.90,626.78" fill="none" stroke="#0a0aff" stroke-width="0.8"/>
<circle cx="381.00" cy="635.10" r="2.10" fill="#0a0aff"/>
<circle cx="386.75" cy="641.76" r="2.10" fill="#0a0aff"/>
<circle cx="409.73" cy="645.50" r="2.10" fill="#0a0aff"/>
<circle cx="438.45" cy="636.76" r="2.10" fill="#0a0aff"/>
<circle cx="495.90" cy="626.78" r="2.10" fill="#0a0aff"/>
<line x1="381.00" y1="639.26" x2="381.00" y2="608.06" stroke="#111" stroke-width="0.7"/>
<line x1="378.90" y1="608.06" x2="383.10" y2="608.06" stroke="#111" stroke-width="0.7"/>
<line x1="378.90" y1="639.26" x2="383.10" y2="639.26" stroke="#111" stroke-width="0.7"/>
<line x1="386.75" y1="651.74" x2="386.75" y2="638.43" stroke="#111" stroke-width="0.7"/>
<line x1="384.64" y1="638.43" x2="388.85" y2="638.43" stroke="#111" stroke-width="0.7"/>
<line x1="384.64" y1="651.74" x2="388.85" y2="651.74" stroke="#111" stroke-width="0.7"/>
<line x1="409.73" y1="650.91" x2="409.73" y2="625.95" stroke="#111" stroke-width="0.7"/>
<line x1="407.62" y1="625.95" x2="411.83" y2="625.95" stroke="#111" stroke-width="0.7"/>
<line x1="407.62" y1="650.91" x2="411.83" y2="650.91" stroke="#111" stroke-width="0.7"/>
<line x1="438.45" y1="637.18" x2="438.45" y2="629.28" stroke="#111" stroke-width="0.7"/>
<line x1="436.35" y1="629.28" x2="440.55" y2="629.28" stroke="#111" stroke-width="0.7"/>
<line x1="436.35" y1="637.18" x2="440.55" y2="637.18" stroke="#111" stroke-width="0.7"/>
<line x1="495.90" y1="633.02" x2="495.90" y2="626.78" stroke="#111" stroke-width="0.7"/>
<line x1="493.80" y1="626.78" x2="498.00" y2="626.78" stroke="#111" stroke-width="0.7"/>
<line x1="493.80" y1="633.02" x2="498.00" y2="633.02" stroke="#111" stroke-width="0.7"/>
<polyline points="381.00,623.45 386.75,645.08 409.73,638.01 438.45,633.44 495.90,629.28" fill="none" stroke="#111" stroke-width="0.8"/>
<rect x="379.45" y="621.90" width="3.10" height="3.10" fill="#111"/>
<rect x="385.19" y="643.53" width="3.10" height="3.10" fill="#111"/>
<rect x="408.18" y="636.46" width="3.10" height="3.10" fill="#111"/>
<rect x="436.90" y="631.89" width="3.10" height="3.10" fill="#111"/>
<rect x="494.35" y="627.73" width="3.10" height="3.10" fill="#111"/>
<line x1="438.45" y1="635.10" x2="438.45" y2="629.28" stroke="#ff6a10" stroke-width="0.7"/>
<line x1="436.35" y1="629.28" x2="440.55" y2="629.28" stroke="#ff6a10" stroke-width="0.7"/>
<line x1="436.35" y1="635.10" x2="440.55" y2="635.10" stroke="#ff6a10" stroke-width="0.7"/>
<polyline points="381.00,634.68 386.75,642.59 409.73,638.01 438.45,632.19 495.90,630.94" fill="none" stroke="#ff6a10" stroke-width="0.8"/>
<polygon points="381.00,636.83 383.15,632.96 378.85,632.96" fill="#ff6a10"/>
<polygon points="386.75,644.74 388.89,640.87 384.60,640.87" fill="#ff6a10"/>
<polygon points="409.73,640.16 411.88,636.29 407.58,636.29" fill="#ff6a10"/>
<polygon points="438.45,634.34 440.60,630.47 436.30,630.47" fill="#ff6a10"/>
<polygon points="495.90,633.09 498.05,629.22 493.75,629.22" fill="#ff6a10"/>
<text x="609.90" y="578.99" font-size="9.3" font-weight="bold" text-anchor="middle"><tspan font-style="italic">INSIG1</tspan> mRNA</text>
<line x1="552.20" y1="594.50" x2="552.20" y2="678.00" stroke="#222" stroke-width="1.1"/>
<line x1="551.70" y1="677.50" x2="667.10" y2="677.50" stroke="#222" stroke-width="1.1"/>
<line x1="549.20" y1="677.50" x2="552.20" y2="677.50" stroke="#222" stroke-width="1"/>
<text x="548.20" y="680.95" font-size="9.2" font-weight="bold" text-anchor="end" fill="#111">0.5</text>
<line x1="549.20" y1="649.83" x2="552.20" y2="649.83" stroke="#222" stroke-width="1"/>
<text x="548.20" y="653.28" font-size="9.2" font-weight="bold" text-anchor="end" fill="#111">1.0</text>
<line x1="549.20" y1="622.17" x2="552.20" y2="622.17" stroke="#222" stroke-width="1"/>
<text x="548.20" y="625.62" font-size="9.2" font-weight="bold" text-anchor="end" fill="#111">1.5</text>
<line x1="549.20" y1="594.50" x2="552.20" y2="594.50" stroke="#222" stroke-width="1"/>
<text x="548.20" y="597.95" font-size="9.2" font-weight="bold" text-anchor="end" fill="#111">2.0</text>
<line x1="552.20" y1="677.50" x2="552.20" y2="680.50" stroke="#222" stroke-width="1"/>
<text x="552.20" y="690.65" font-size="9.2" font-weight="bold" text-anchor="middle" fill="#111">0</text>
<line x1="580.93" y1="677.50" x2="580.93" y2="680.50" stroke="#222" stroke-width="1"/>
<text x="580.93" y="690.65" font-size="9.2" font-weight="bold" text-anchor="middle" fill="#111">5</text>
<line x1="609.65" y1="677.50" x2="609.65" y2="680.50" stroke="#222" stroke-width="1"/>
<text x="609.65" y="690.65" font-size="9.2" font-weight="bold" text-anchor="middle" fill="#111">10</text>
<line x1="638.38" y1="677.50" x2="638.38" y2="680.50" stroke="#222" stroke-width="1"/>
<text x="638.38" y="690.65" font-size="9.2" font-weight="bold" text-anchor="middle" fill="#111">15</text>
<line x1="667.10" y1="677.50" x2="667.10" y2="680.50" stroke="#222" stroke-width="1"/>
<text x="667.10" y="690.65" font-size="9.2" font-weight="bold" text-anchor="middle" fill="#111">20</text>
<text x="527.40" y="636.48" font-size="9.28" font-weight="bold" text-anchor="middle" fill="#000" transform="rotate(-90 527.40 633.00)">fold induction</text>
<text x="609.65" y="703.07" font-size="9.26" text-anchor="middle" fill="#000">concentration (µM)</text>
<line x1="552.20" y1="649.83" x2="667.10" y2="649.83" stroke="#222" stroke-width="1.5" stroke-dasharray="0.8,1.0"/>
<line x1="580.93" y1="653.71" x2="580.93" y2="630.47" stroke="#e0208a" stroke-width="0.7"/>
<line x1="578.83" y1="630.47" x2="583.03" y2="630.47" stroke="#e0208a" stroke-width="0.7"/>
<line x1="578.83" y1="653.71" x2="583.03" y2="653.71" stroke="#e0208a" stroke-width="0.7"/>
<line x1="609.65" y1="648.73" x2="609.65" y2="636.00" stroke="#e0208a" stroke-width="0.7"/>
<line x1="607.55" y1="636.00" x2="611.75" y2="636.00" stroke="#e0208a" stroke-width="0.7"/>
<line x1="607.55" y1="648.73" x2="611.75" y2="648.73" stroke="#e0208a" stroke-width="0.7"/>
<line x1="667.10" y1="644.30" x2="667.10" y2="638.77" stroke="#e0208a" stroke-width="0.7"/>
<line x1="665.00" y1="638.77" x2="669.20" y2="638.77" stroke="#e0208a" stroke-width="0.7"/>
<line x1="665.00" y1="644.30" x2="669.20" y2="644.30" stroke="#e0208a" stroke-width="0.7"/>
<polyline points="552.20,649.83 557.95,648.17 580.93,642.09 609.65,642.09 667.10,641.53" fill="none" stroke="#e0208a" stroke-width="0.8"/>
<polygon points="552.20,647.68 554.35,651.55 550.05,651.55" fill="#e0208a"/>
<polygon points="557.95,646.02 560.10,649.89 555.80,649.89" fill="#e0208a"/>
<polygon points="580.93,639.94 583.08,643.81 578.78,643.81" fill="#e0208a"/>
<polygon points="609.65,639.94 611.80,643.81 607.50,643.81" fill="#e0208a"/>
<polygon points="667.10,639.38 669.25,643.25 664.95,643.25" fill="#e0208a"/>
<line x1="557.95" y1="657.58" x2="557.95" y2="647.62" stroke="#0a0aff" stroke-width="0.7"/>
<line x1="555.85" y1="647.62" x2="560.05" y2="647.62" stroke="#0a0aff" stroke-width="0.7"/>
<line x1="555.85" y1="657.58" x2="560.05" y2="657.58" stroke="#0a0aff" stroke-width="0.7"/>
<line x1="580.93" y1="640.43" x2="580.93" y2="629.36" stroke="#0a0aff" stroke-width="0.7"/>
<line x1="578.83" y1="629.36" x2="583.03" y2="629.36" stroke="#0a0aff" stroke-width="0.7"/>
<line x1="578.83" y1="640.43" x2="583.03" y2="640.43" stroke="#0a0aff" stroke-width="0.7"/>
<line x1="609.65" y1="644.30" x2="609.65" y2="636.00" stroke="#0a0aff" stroke-width="0.7"/>
<line x1="607.55" y1="636.00" x2="611.75" y2="636.00" stroke="#0a0aff" stroke-width="0.7"/>
<line x1="607.55" y1="644.30" x2="611.75" y2="644.30" stroke="#0a0aff" stroke-width="0.7"/>
<line x1="667.10" y1="643.19" x2="667.10" y2="633.23" stroke="#0a0aff" stroke-width="0.7"/>
<line x1="665.00" y1="633.23" x2="669.20" y2="633.23" stroke="#0a0aff" stroke-width="0.7"/>
<line x1="665.00" y1="643.19" x2="669.20" y2="643.19" stroke="#0a0aff" stroke-width="0.7"/>
<polyline points="552.20,649.83 557.95,652.05 580.93,634.89 609.65,640.43 667.10,638.21" fill="none" stroke="#0a0aff" stroke-width="0.8"/>
<circle cx="552.20" cy="649.83" r="2.10" fill="#0a0aff"/>
<circle cx="557.95" cy="652.05" r="2.10" fill="#0a0aff"/>
<circle cx="580.93" cy="634.89" r="2.10" fill="#0a0aff"/>
<circle cx="609.65" cy="640.43" r="2.10" fill="#0a0aff"/>
<circle cx="667.10" cy="638.21" r="2.10" fill="#0a0aff"/>
<line x1="552.20" y1="650.94" x2="552.20" y2="645.41" stroke="#111" stroke-width="0.7"/>
<line x1="550.10" y1="645.41" x2="554.30" y2="645.41" stroke="#111" stroke-width="0.7"/>
<line x1="550.10" y1="650.94" x2="554.30" y2="650.94" stroke="#111" stroke-width="0.7"/>
<line x1="609.65" y1="644.30" x2="609.65" y2="637.66" stroke="#111" stroke-width="0.7"/>
<line x1="607.55" y1="637.66" x2="611.75" y2="637.66" stroke="#111" stroke-width="0.7"/>
<line x1="607.55" y1="644.30" x2="611.75" y2="644.30" stroke="#111" stroke-width="0.7"/>
<line x1="667.10" y1="637.66" x2="667.10" y2="615.53" stroke="#111" stroke-width="0.7"/>
<line x1="665.00" y1="615.53" x2="669.20" y2="615.53" stroke="#111" stroke-width="0.7"/>
<line x1="665.00" y1="637.66" x2="669.20" y2="637.66" stroke="#111" stroke-width="0.7"/>
<polyline points="552.20,648.17 557.95,651.49 580.93,648.17 609.65,641.53 667.10,626.59" fill="none" stroke="#111" stroke-width="0.8"/>
<rect x="550.65" y="646.62" width="3.10" height="3.10" fill="#111"/>
<rect x="556.40" y="649.94" width="3.10" height="3.10" fill="#111"/>
<rect x="579.38" y="646.62" width="3.10" height="3.10" fill="#111"/>
<rect x="608.10" y="639.98" width="3.10" height="3.10" fill="#111"/>
<rect x="665.55" y="625.04" width="3.10" height="3.10" fill="#111"/>
<text x="581.50" y="630.25" font-size="10" font-weight="bold" text-anchor="middle" fill="#0a0aff">**</text>
<text x="606.30" y="639.15" font-size="10" font-weight="bold" text-anchor="middle" fill="#111">*</text>
<text x="614.80" y="639.15" font-size="10" font-weight="bold" text-anchor="middle" fill="#0a0aff">*</text>
<text x="11.00" y="727.20" font-size="13.6" font-weight="bold" text-anchor="start" fill="#000">g</text>
<text x="91.20" y="736.69" font-size="9.3" font-weight="bold" text-anchor="middle"><tspan font-style="italic">LDLR</tspan> mRNA</text>
<line x1="34.30" y1="747.20" x2="34.30" y2="830.90" stroke="#222" stroke-width="1.1"/>
<line x1="33.80" y1="830.40" x2="148.40" y2="830.40" stroke="#222" stroke-width="1.1"/>
<line x1="31.30" y1="830.40" x2="34.30" y2="830.40" stroke="#222" stroke-width="1"/>
<text x="30.30" y="833.85" font-size="9.2" font-weight="bold" text-anchor="end" fill="#111">0.0</text>
<line x1="31.30" y1="813.76" x2="34.30" y2="813.76" stroke="#222" stroke-width="1"/>
<text x="30.30" y="817.21" font-size="9.2" font-weight="bold" text-anchor="end" fill="#111">0.5</text>
<line x1="31.30" y1="797.12" x2="34.30" y2="797.12" stroke="#222" stroke-width="1"/>
<text x="30.30" y="800.57" font-size="9.2" font-weight="bold" text-anchor="end" fill="#111">1.0</text>
<line x1="31.30" y1="780.48" x2="34.30" y2="780.48" stroke="#222" stroke-width="1"/>
<text x="30.30" y="783.93" font-size="9.2" font-weight="bold" text-anchor="end" fill="#111">1.5</text>
<line x1="31.30" y1="763.84" x2="34.30" y2="763.84" stroke="#222" stroke-width="1"/>
<text x="30.30" y="767.29" font-size="9.2" font-weight="bold" text-anchor="end" fill="#111">2.0</text>
<line x1="31.30" y1="747.20" x2="34.30" y2="747.20" stroke="#222" stroke-width="1"/>
<text x="30.30" y="750.65" font-size="9.2" font-weight="bold" text-anchor="end" fill="#111">2.5</text>
<line x1="34.30" y1="830.40" x2="34.30" y2="833.40" stroke="#222" stroke-width="1"/>
<text x="34.30" y="843.75" font-size="9.2" font-weight="bold" text-anchor="middle" fill="#111">0</text>
<line x1="62.82" y1="830.40" x2="62.82" y2="833.40" stroke="#222" stroke-width="1"/>
<text x="62.82" y="843.75" font-size="9.2" font-weight="bold" text-anchor="middle" fill="#111">5</text>
<line x1="91.35" y1="830.40" x2="91.35" y2="833.40" stroke="#222" stroke-width="1"/>
<text x="91.35" y="843.75" font-size="9.2" font-weight="bold" text-anchor="middle" fill="#111">10</text>
<line x1="119.88" y1="830.40" x2="119.88" y2="833.40" stroke="#222" stroke-width="1"/>
<text x="119.88" y="843.75" font-size="9.2" font-weight="bold" text-anchor="middle" fill="#111">15</text>
<line x1="148.40" y1="830.40" x2="148.40" y2="833.40" stroke="#222" stroke-width="1"/>
<text x="148.40" y="843.75" font-size="9.2" font-weight="bold" text-anchor="middle" fill="#111">20</text>
<text x="9.90" y="790.48" font-size="9.28" font-weight="bold" text-anchor="middle" fill="#000" transform="rotate(-90 9.90 787.00)">fold induction</text>
<text x="91.35" y="856.67" font-size="9.26" text-anchor="middle" fill="#000">concentration (µM)</text>
<line x1="34.30" y1="797.12" x2="148.40" y2="797.12" stroke="#222" stroke-width="1.5" stroke-dasharray="0.8,1.0"/>
<line x1="40.00" y1="802.11" x2="40.00" y2="780.48" stroke="#0a0aff" stroke-width="0.7"/>
<line x1="37.90" y1="780.48" x2="42.10" y2="780.48" stroke="#0a0aff" stroke-width="0.7"/>
<line x1="37.90" y1="802.11" x2="42.10" y2="802.11" stroke="#0a0aff" stroke-width="0.7"/>
<line x1="62.82" y1="795.46" x2="62.82" y2="782.14" stroke="#0a0aff" stroke-width="0.7"/>
<line x1="60.72" y1="782.14" x2="64.92" y2="782.14" stroke="#0a0aff" stroke-width="0.7"/>
<line x1="60.72" y1="795.46" x2="64.92" y2="795.46" stroke="#0a0aff" stroke-width="0.7"/>
<line x1="91.35" y1="792.13" x2="91.35" y2="778.82" stroke="#0a0aff" stroke-width="0.7"/>
<line x1="89.25" y1="778.82" x2="93.45" y2="778.82" stroke="#0a0aff" stroke-width="0.7"/>
<line x1="89.25" y1="792.13" x2="93.45" y2="792.13" stroke="#0a0aff" stroke-width="0.7"/>
<line x1="148.40" y1="788.80" x2="148.40" y2="778.82" stroke="#0a0aff" stroke-width="0.7"/>
<line x1="146.30" y1="778.82" x2="150.50" y2="778.82" stroke="#0a0aff" stroke-width="0.7"/>
<line x1="146.30" y1="788.80" x2="150.50" y2="788.80" stroke="#0a0aff" stroke-width="0.7"/>
<polyline points="34.30,797.12 40.00,795.46 62.82,788.80 91.35,785.47 148.40,783.81" fill="none" stroke="#0a0aff" stroke-width="0.8"/>
<circle cx="34.30" cy="797.12" r="2.10" fill="#0a0aff"/>
<circle cx="40.00" cy="795.46" r="2.10" fill="#0a0aff"/>
<circle cx="62.82" cy="788.80" r="2.10" fill="#0a0aff"/>
<circle cx="91.35" cy="785.47" r="2.10" fill="#0a0aff"/>
<circle cx="148.40" cy="783.81" r="2.10" fill="#0a0aff"/>
<line x1="34.30" y1="795.46" x2="34.30" y2="785.47" stroke="#111" stroke-width="0.7"/>
<line x1="32.20" y1="785.47" x2="36.40" y2="785.47" stroke="#111" stroke-width="0.7"/>
<line x1="32.20" y1="795.46" x2="36.40" y2="795.46" stroke="#111" stroke-width="0.7"/>
<line x1="40.00" y1="800.45" x2="40.00" y2="781.15" stroke="#111" stroke-width="0.7"/>
<line x1="37.90" y1="781.15" x2="42.10" y2="781.15" stroke="#111" stroke-width="0.7"/>
<line x1="37.90" y1="800.45" x2="42.10" y2="800.45" stroke="#111" stroke-width="0.7"/>
<line x1="62.82" y1="788.80" x2="62.82" y2="769.83" stroke="#111" stroke-width="0.7"/>
<line x1="60.72" y1="769.83" x2="64.92" y2="769.83" stroke="#111" stroke-width="0.7"/>
<line x1="60.72" y1="788.80" x2="64.92" y2="788.80" stroke="#111" stroke-width="0.7"/>
<line x1="91.35" y1="803.11" x2="91.35" y2="766.50" stroke="#111" stroke-width="0.7"/>
<line x1="89.25" y1="766.50" x2="93.45" y2="766.50" stroke="#111" stroke-width="0.7"/>
<line x1="89.25" y1="803.11" x2="93.45" y2="803.11" stroke="#111" stroke-width="0.7"/>
<line x1="148.40" y1="788.80" x2="148.40" y2="763.17" stroke="#111" stroke-width="0.7"/>
<line x1="146.30" y1="763.17" x2="150.50" y2="763.17" stroke="#111" stroke-width="0.7"/>
<line x1="146.30" y1="788.80" x2="150.50" y2="788.80" stroke="#111" stroke-width="0.7"/>
<polyline points="34.30,790.46 40.00,792.13 62.82,779.48 91.35,784.81 148.40,776.15" fill="none" stroke="#111" stroke-width="0.8"/>
<rect x="32.75" y="788.91" width="3.10" height="3.10" fill="#111"/>
<rect x="38.45" y="790.58" width="3.10" height="3.10" fill="#111"/>
<rect x="61.27" y="777.93" width="3.10" height="3.10" fill="#111"/>
<rect x="89.80" y="783.26" width="3.10" height="3.10" fill="#111"/>
<rect x="146.85" y="774.60" width="3.10" height="3.10" fill="#111"/>
<polyline points="34.30,797.12 40.00,793.79 62.82,800.45 91.35,799.45 148.40,798.78" fill="none" stroke="#ff6a10" stroke-width="0.8"/>
<polygon points="34.30,799.27 36.45,795.40 32.15,795.40" fill="#ff6a10"/>
<polygon points="40.00,795.94 42.15,792.07 37.85,792.07" fill="#ff6a10"/>
<polygon points="62.82,802.60 64.97,798.73 60.67,798.73" fill="#ff6a10"/>
<polygon points="91.35,801.60 93.50,797.73 89.20,797.73" fill="#ff6a10"/>
<polygon points="148.40,800.93 150.55,797.06 146.25,797.06" fill="#ff6a10"/>
<text x="153.90" y="784.65" font-size="10" font-weight="bold" text-anchor="middle" fill="#0a0aff">*</text>
<text x="153.90" y="792.55" font-size="10" font-weight="bold" text-anchor="middle" fill="#111">*</text>
<text x="260.00" y="736.69" font-size="9.3" font-weight="bold" text-anchor="middle"><tspan font-style="italic">CYP7A1</tspan> mRNA</text>
<line x1="203.00" y1="747.70" x2="203.00" y2="830.90" stroke="#222" stroke-width="1.1"/>
<line x1="202.50" y1="830.40" x2="317.20" y2="830.40" stroke="#222" stroke-width="1.1"/>
<line x1="200.00" y1="830.40" x2="203.00" y2="830.40" stroke="#222" stroke-width="1"/>
<text x="199.00" y="833.85" font-size="9.2" font-weight="bold" text-anchor="end" fill="#111">0</text>
<line x1="200.00" y1="802.83" x2="203.00" y2="802.83" stroke="#222" stroke-width="1"/>
<text x="199.00" y="806.28" font-size="9.2" font-weight="bold" text-anchor="end" fill="#111">1</text>
<line x1="200.00" y1="775.27" x2="203.00" y2="775.27" stroke="#222" stroke-width="1"/>
<text x="199.00" y="778.72" font-size="9.2" font-weight="bold" text-anchor="end" fill="#111">2</text>
<line x1="200.00" y1="747.70" x2="203.00" y2="747.70" stroke="#222" stroke-width="1"/>
<text x="199.00" y="751.15" font-size="9.2" font-weight="bold" text-anchor="end" fill="#111">3</text>
<line x1="203.00" y1="830.40" x2="203.00" y2="833.40" stroke="#222" stroke-width="1"/>
<text x="203.00" y="843.75" font-size="9.2" font-weight="bold" text-anchor="middle" fill="#111">0</text>
<line x1="231.55" y1="830.40" x2="231.55" y2="833.40" stroke="#222" stroke-width="1"/>
<text x="231.55" y="843.75" font-size="9.2" font-weight="bold" text-anchor="middle" fill="#111">5</text>
<line x1="260.10" y1="830.40" x2="260.10" y2="833.40" stroke="#222" stroke-width="1"/>
<text x="260.10" y="843.75" font-size="9.2" font-weight="bold" text-anchor="middle" fill="#111">10</text>
<line x1="288.65" y1="830.40" x2="288.65" y2="833.40" stroke="#222" stroke-width="1"/>
<text x="288.65" y="843.75" font-size="9.2" font-weight="bold" text-anchor="middle" fill="#111">15</text>
<line x1="317.20" y1="830.40" x2="317.20" y2="833.40" stroke="#222" stroke-width="1"/>
<text x="317.20" y="843.75" font-size="9.2" font-weight="bold" text-anchor="middle" fill="#111">20</text>
<text x="186.90" y="790.48" font-size="9.28" font-weight="bold" text-anchor="middle" fill="#000" transform="rotate(-90 186.90 787.00)">fold induction</text>
<text x="260.10" y="856.67" font-size="9.26" text-anchor="middle" fill="#000">concentration (µM)</text>
<line x1="203.00" y1="802.83" x2="317.20" y2="802.83" stroke="#222" stroke-width="1.5" stroke-dasharray="0.8,1.0"/>
<line x1="208.71" y1="794.56" x2="208.71" y2="777.47" stroke="#e0208a" stroke-width="0.7"/>
<line x1="206.61" y1="777.47" x2="210.81" y2="777.47" stroke="#e0208a" stroke-width="0.7"/>
<line x1="206.61" y1="794.56" x2="210.81" y2="794.56" stroke="#e0208a" stroke-width="0.7"/>
<line x1="231.55" y1="786.29" x2="231.55" y2="768.38" stroke="#e0208a" stroke-width="0.7"/>
<line x1="229.45" y1="768.38" x2="233.65" y2="768.38" stroke="#e0208a" stroke-width="0.7"/>
<line x1="229.45" y1="786.29" x2="233.65" y2="786.29" stroke="#e0208a" stroke-width="0.7"/>
<line x1="317.20" y1="800.90" x2="317.20" y2="792.63" stroke="#e0208a" stroke-width="0.7"/>
<line x1="315.10" y1="792.63" x2="319.30" y2="792.63" stroke="#e0208a" stroke-width="0.7"/>
<line x1="315.10" y1="800.90" x2="319.30" y2="800.90" stroke="#e0208a" stroke-width="0.7"/>
<polyline points="203.00,802.83 208.71,786.29 231.55,777.47 260.10,790.98 317.20,796.77" fill="none" stroke="#e0208a" stroke-width="0.8"/>
<polygon points="203.00,800.68 205.15,804.55 200.85,804.55" fill="#e0208a"/>
<polygon points="208.71,784.14 210.86,788.01 206.56,788.01" fill="#e0208a"/>
<polygon points="231.55,775.32 233.70,779.19 229.40,779.19" fill="#e0208a"/>
<polygon points="260.10,788.83 262.25,792.70 257.95,792.70" fill="#e0208a"/>
<polygon points="317.20,794.62 319.35,798.49 315.05,798.49" fill="#e0208a"/>
<line x1="260.10" y1="822.13" x2="260.10" y2="815.24" stroke="#0a0aff" stroke-width="0.7"/>
<line x1="258.00" y1="815.24" x2="262.20" y2="815.24" stroke="#0a0aff" stroke-width="0.7"/>
<line x1="258.00" y1="822.13" x2="262.20" y2="822.13" stroke="#0a0aff" stroke-width="0.7"/>
<line x1="317.20" y1="818.00" x2="317.20" y2="810.55" stroke="#0a0aff" stroke-width="0.7"/>
<line x1="315.10" y1="810.55" x2="319.30" y2="810.55" stroke="#0a0aff" stroke-width="0.7"/>
<line x1="315.10" y1="818.00" x2="319.30" y2="818.00" stroke="#0a0aff" stroke-width="0.7"/>
<polyline points="203.00,802.83 208.71,810.83 231.55,817.44 260.10,818.27 317.20,814.41" fill="none" stroke="#0a0aff" stroke-width="0.8"/>
<circle cx="203.00" cy="802.83" r="2.10" fill="#0a0aff"/>
<circle cx="208.71" cy="810.83" r="2.10" fill="#0a0aff"/>
<circle cx="231.55" cy="817.44" r="2.10" fill="#0a0aff"/>
<circle cx="260.10" cy="818.27" r="2.10" fill="#0a0aff"/>
<circle cx="317.20" cy="814.41" r="2.10" fill="#0a0aff"/>
<line x1="203.00" y1="816.62" x2="203.00" y2="805.59" stroke="#111" stroke-width="0.7"/>
<line x1="200.90" y1="805.59" x2="205.10" y2="805.59" stroke="#111" stroke-width="0.7"/>
<line x1="200.90" y1="816.62" x2="205.10" y2="816.62" stroke="#111" stroke-width="0.7"/>
<line x1="208.71" y1="823.51" x2="208.71" y2="818.00" stroke="#111" stroke-width="0.7"/>
<line x1="206.61" y1="818.00" x2="210.81" y2="818.00" stroke="#111" stroke-width="0.7"/>
<line x1="206.61" y1="823.51" x2="210.81" y2="823.51" stroke="#111" stroke-width="0.7"/>
<line x1="231.55" y1="824.89" x2="231.55" y2="818.82" stroke="#111" stroke-width="0.7"/>
<line x1="229.45" y1="818.82" x2="233.65" y2="818.82" stroke="#111" stroke-width="0.7"/>
<line x1="229.45" y1="824.89" x2="233.65" y2="824.89" stroke="#111" stroke-width="0.7"/>
<line x1="260.10" y1="826.26" x2="260.10" y2="811.10" stroke="#111" stroke-width="0.7"/>
<line x1="258.00" y1="811.10" x2="262.20" y2="811.10" stroke="#111" stroke-width="0.7"/>
<line x1="258.00" y1="826.26" x2="262.20" y2="826.26" stroke="#111" stroke-width="0.7"/>
<line x1="317.20" y1="824.89" x2="317.20" y2="812.48" stroke="#111" stroke-width="0.7"/>
<line x1="315.10" y1="812.48" x2="319.30" y2="812.48" stroke="#111" stroke-width="0.7"/>
<line x1="315.10" y1="824.89" x2="319.30" y2="824.89" stroke="#111" stroke-width="0.7"/>
<polyline points="203.00,811.38 208.71,821.03 231.55,821.85 260.10,818.55 317.20,818.55" fill="none" stroke="#111" stroke-width="0.8"/>
<rect x="201.45" y="809.83" width="3.10" height="3.10" fill="#111"/>
<rect x="207.16" y="819.48" width="3.10" height="3.10" fill="#111"/>
<rect x="230.00" y="820.30" width="3.10" height="3.10" fill="#111"/>
<rect x="258.55" y="817.00" width="3.10" height="3.10" fill="#111"/>
<rect x="315.65" y="817.00" width="3.10" height="3.10" fill="#111"/>
<line x1="208.71" y1="813.86" x2="208.71" y2="804.21" stroke="#ff6a10" stroke-width="0.7"/>
<line x1="206.61" y1="804.21" x2="210.81" y2="804.21" stroke="#ff6a10" stroke-width="0.7"/>
<line x1="206.61" y1="813.86" x2="210.81" y2="813.86" stroke="#ff6a10" stroke-width="0.7"/>
<line x1="231.55" y1="809.73" x2="231.55" y2="804.21" stroke="#ff6a10" stroke-width="0.7"/>
<line x1="229.45" y1="804.21" x2="233.65" y2="804.21" stroke="#ff6a10" stroke-width="0.7"/>
<line x1="229.45" y1="809.73" x2="233.65" y2="809.73" stroke="#ff6a10" stroke-width="0.7"/>
<line x1="260.10" y1="816.62" x2="260.10" y2="805.04" stroke="#ff6a10" stroke-width="0.7"/>
<line x1="258.00" y1="805.04" x2="262.20" y2="805.04" stroke="#ff6a10" stroke-width="0.7"/>
<line x1="258.00" y1="816.62" x2="262.20" y2="816.62" stroke="#ff6a10" stroke-width="0.7"/>
<line x1="317.20" y1="813.86" x2="317.20" y2="804.21" stroke="#ff6a10" stroke-width="0.7"/>
<line x1="315.10" y1="804.21" x2="319.30" y2="804.21" stroke="#ff6a10" stroke-width="0.7"/>
<line x1="315.10" y1="813.86" x2="319.30" y2="813.86" stroke="#ff6a10" stroke-width="0.7"/>
<polyline points="203.00,802.83 208.71,809.17 231.55,806.97 260.10,810.83 317.20,809.17" fill="none" stroke="#ff6a10" stroke-width="0.8"/>
<polygon points="203.00,804.98 205.15,801.11 200.85,801.11" fill="#ff6a10"/>
<polygon points="208.71,811.32 210.86,807.45 206.56,807.45" fill="#ff6a10"/>
<polygon points="231.55,809.12 233.70,805.25 229.40,805.25" fill="#ff6a10"/>
<polygon points="260.10,812.98 262.25,809.11 257.95,809.11" fill="#ff6a10"/>
<polygon points="317.20,811.32 319.35,807.45 315.05,807.45" fill="#ff6a10"/>
<text x="230.80" y="818.65" font-size="10" font-weight="bold" text-anchor="middle" fill="#0a0aff">***</text>
<text x="255.40" y="821.85" font-size="10" font-weight="bold" text-anchor="middle" fill="#0a0aff">**</text>
<text x="264.20" y="821.85" font-size="10" font-weight="bold" text-anchor="middle" fill="#111">*</text>
<text x="335.90" y="733.60" font-size="13.6" font-weight="bold" text-anchor="start" fill="#000">h</text>
<text x="543.80" y="733.01" font-size="9.1" font-weight="bold" text-anchor="middle" fill="#000">2D PHH</text>
<rect x="454.80" y="737.40" width="14.84" height="12.30" fill="#cecef9"/>
<text x="462.07" y="745.73" font-size="6.2" text-anchor="middle" fill="#333">0.8</text>
<rect x="469.34" y="737.40" width="14.84" height="12.30" fill="#fcc58e"/>
<text x="476.60" y="745.73" font-size="6.2" text-anchor="middle" fill="#333">14.8</text>
<rect x="483.87" y="737.40" width="14.84" height="12.30" fill="#e2e2fb"/>
<text x="491.14" y="745.73" font-size="6.2" text-anchor="middle" fill="#333">0.9</text>
<rect x="498.41" y="737.40" width="14.84" height="12.30" fill="#f5f5fd"/>
<text x="505.68" y="745.73" font-size="6.2" text-anchor="middle" fill="#333">1.0</text>
<rect x="512.95" y="737.40" width="14.84" height="12.30" fill="#fefefd"/>
<text x="520.21" y="745.73" font-size="6.2" text-anchor="middle" fill="#333">1.2</text>
<rect x="527.48" y="737.40" width="14.84" height="12.30" fill="#fefdfc"/>
<text x="534.75" y="745.73" font-size="6.2" text-anchor="middle" fill="#333">1.3</text>
<rect x="542.02" y="737.40" width="14.84" height="12.30" fill="#fefdfc"/>
<text x="549.29" y="745.73" font-size="6.2" text-anchor="middle" fill="#333">1.3</text>
<rect x="556.55" y="737.40" width="14.84" height="12.30" fill="#fefcf9"/>
<text x="563.82" y="745.73" font-size="6.2" text-anchor="middle" fill="#333">1.7</text>
<rect x="571.09" y="737.40" width="14.84" height="12.30" fill="#9595f3"/>
<text x="578.36" y="745.73" font-size="6.2" text-anchor="middle" fill="#333">0.5</text>
<rect x="585.63" y="737.40" width="14.84" height="12.30" fill="#f5f5fd"/>
<text x="592.90" y="745.73" font-size="6.2" text-anchor="middle" fill="#333">1.0</text>
<rect x="600.16" y="737.40" width="14.84" height="12.30" fill="#fefefd"/>
<text x="607.43" y="745.73" font-size="6.2" text-anchor="middle" fill="#333">1.2</text>
<rect x="454.80" y="749.40" width="14.84" height="12.30" fill="#4848eb"/>
<text x="462.07" y="757.73" font-size="6.2" text-anchor="middle" fill="#333">0.1</text>
<rect x="469.34" y="749.40" width="14.84" height="12.30" fill="#bbbbf7"/>
<text x="476.60" y="757.73" font-size="6.2" text-anchor="middle" fill="#333">0.7</text>
<rect x="483.87" y="749.40" width="14.84" height="12.30" fill="#e2e2fb"/>
<text x="491.14" y="757.73" font-size="6.2" text-anchor="middle" fill="#333">0.9</text>
<rect x="498.41" y="749.40" width="14.84" height="12.30" fill="#cecef9"/>
<text x="505.68" y="757.73" font-size="6.2" text-anchor="middle" fill="#333">0.8</text>
<rect x="512.95" y="749.40" width="14.84" height="12.30" fill="#fefefd"/>
<text x="520.21" y="757.73" font-size="6.2" text-anchor="middle" fill="#333">1.2</text>
<rect x="527.48" y="749.40" width="14.84" height="12.30" fill="#fefefe"/>
<text x="534.75" y="757.73" font-size="6.2" text-anchor="middle" fill="#333">1.1</text>
<rect x="542.02" y="749.40" width="14.84" height="12.30" fill="#fefcf9"/>
<text x="549.29" y="757.73" font-size="6.2" text-anchor="middle" fill="#333">1.7</text>
<rect x="556.55" y="749.40" width="14.84" height="12.30" fill="#fefcf9"/>
<text x="563.82" y="757.73" font-size="6.2" text-anchor="middle" fill="#333">1.7</text>
<rect x="571.09" y="749.40" width="14.84" height="12.30" fill="#4848eb"/>
<text x="578.36" y="757.73" font-size="6.2" text-anchor="middle" fill="#333">0.1</text>
<rect x="585.63" y="749.40" width="14.84" height="12.30" fill="#fefefe"/>
<text x="592.90" y="757.73" font-size="6.2" text-anchor="middle" fill="#333">1.1</text>
<rect x="600.16" y="749.40" width="14.84" height="12.30" fill="#9595f3"/>
<text x="607.43" y="757.73" font-size="6.2" text-anchor="middle" fill="#333">0.5</text>
<rect x="454.80" y="761.40" width="14.84" height="12.30" fill="#fef9f4"/>
<text x="462.07" y="769.73" font-size="6.2" text-anchor="middle" fill="#333">2.3</text>
<rect x="469.34" y="761.40" width="14.84" height="12.30" fill="#fa9126"/>
<text x="476.60" y="769.73" font-size="6.2" text-anchor="middle" fill="#333">27.5</text>
<rect x="483.87" y="761.40" width="14.84" height="12.30" fill="#e2e2fb"/>
<text x="491.14" y="769.73" font-size="6.2" text-anchor="middle" fill="#333">0.9</text>
<rect x="498.41" y="761.40" width="14.84" height="12.30" fill="#e2e2fb"/>
<text x="505.68" y="769.73" font-size="6.2" text-anchor="middle" fill="#333">0.9</text>
<rect x="512.95" y="761.40" width="14.84" height="12.30" fill="#f5f5fd"/>
<text x="520.21" y="769.73" font-size="6.2" text-anchor="middle" fill="#333">1.0</text>
<rect x="527.48" y="761.40" width="14.84" height="12.30" fill="#e2e2fb"/>
<text x="534.75" y="769.73" font-size="6.2" text-anchor="middle" fill="#333">0.9</text>
<rect x="542.02" y="761.40" width="14.84" height="12.30" fill="#e2e2fb"/>
<text x="549.29" y="769.73" font-size="6.2" text-anchor="middle" fill="#333">0.9</text>
<rect x="556.55" y="761.40" width="14.84" height="12.30" fill="#fefefe"/>
<text x="563.82" y="769.73" font-size="6.2" text-anchor="middle" fill="#333">1.1</text>
<rect x="571.09" y="761.40" width="14.84" height="12.30" fill="#bbbbf7"/>
<text x="578.36" y="769.73" font-size="6.2" text-anchor="middle" fill="#333">0.7</text>
<rect x="585.63" y="761.40" width="14.84" height="12.30" fill="#f5f5fd"/>
<text x="592.90" y="769.73" font-size="6.2" text-anchor="middle" fill="#333">1.0</text>
<rect x="600.16" y="761.40" width="14.84" height="12.30" fill="#cecef9"/>
<text x="607.43" y="769.73" font-size="6.2" text-anchor="middle" fill="#333">0.8</text>
<rect x="454.80" y="773.40" width="14.84" height="12.30" fill="#fcc286"/>
<text x="462.07" y="781.73" font-size="6.2" text-anchor="middle" fill="#333">15.7</text>
<rect x="469.34" y="773.40" width="14.84" height="12.30" fill="#fcbe7e"/>
<text x="476.60" y="781.73" font-size="6.2" text-anchor="middle" fill="#333">16.7</text>
<rect x="483.87" y="773.40" width="14.84" height="12.30" fill="#fefefd"/>
<text x="491.14" y="781.73" font-size="6.2" text-anchor="middle" fill="#333">1.2</text>
<rect x="498.41" y="773.40" width="14.84" height="12.30" fill="#f5f5fd"/>
<text x="505.68" y="781.73" font-size="6.2" text-anchor="middle" fill="#333">1.0</text>
<rect x="512.95" y="773.40" width="14.84" height="12.30" fill="#fefefd"/>
<text x="520.21" y="781.73" font-size="6.2" text-anchor="middle" fill="#333">1.2</text>
<rect x="527.48" y="773.40" width="14.84" height="12.30" fill="#fefefe"/>
<text x="534.75" y="781.73" font-size="6.2" text-anchor="middle" fill="#333">1.1</text>
<rect x="542.02" y="773.40" width="14.84" height="12.30" fill="#fefdfc"/>
<text x="549.29" y="781.73" font-size="6.2" text-anchor="middle" fill="#333">1.3</text>
<rect x="556.55" y="773.40" width="14.84" height="12.30" fill="#fefcfa"/>
<text x="563.82" y="781.73" font-size="6.2" text-anchor="middle" fill="#333">1.6</text>
<rect x="571.09" y="773.40" width="14.84" height="12.30" fill="#5b5bed"/>
<text x="578.36" y="781.73" font-size="6.2" text-anchor="middle" fill="#333">0.2</text>
<rect x="585.63" y="773.40" width="14.84" height="12.30" fill="#fefefe"/>
<text x="592.90" y="781.73" font-size="6.2" text-anchor="middle" fill="#333">1.1</text>
<rect x="600.16" y="773.40" width="14.84" height="12.30" fill="#9595f3"/>
<text x="607.43" y="781.73" font-size="6.2" text-anchor="middle" fill="#333">0.5</text>
<rect x="454.80" y="785.40" width="14.84" height="12.30" fill="#fddab7"/>
<text x="462.07" y="793.73" font-size="6.2" text-anchor="middle" fill="#333">9.8</text>
<rect x="469.34" y="785.40" width="14.84" height="12.30" fill="#fbb268"/>
<text x="476.60" y="793.73" font-size="6.2" text-anchor="middle" fill="#333">19.4</text>
<rect x="483.87" y="785.40" width="14.84" height="12.30" fill="#f5f5fd"/>
<text x="491.14" y="793.73" font-size="6.2" text-anchor="middle" fill="#333">1.0</text>
<rect x="498.41" y="785.40" width="14.84" height="12.30" fill="#bbbbf7"/>
<text x="505.68" y="793.73" font-size="6.2" text-anchor="middle" fill="#333">0.7</text>
<rect x="512.95" y="785.40" width="14.84" height="12.30" fill="#f5f5fd"/>
<text x="520.21" y="793.73" font-size="6.2" text-anchor="middle" fill="#333">1.0</text>
<rect x="527.48" y="785.40" width="14.84" height="12.30" fill="#fefefe"/>
<text x="534.75" y="793.73" font-size="6.2" text-anchor="middle" fill="#333">1.1</text>
<rect x="542.02" y="785.40" width="14.84" height="12.30" fill="#fefefd"/>
<text x="549.29" y="793.73" font-size="6.2" text-anchor="middle" fill="#333">1.2</text>
<rect x="556.55" y="785.40" width="14.84" height="12.30" fill="#fefefe"/>
<text x="563.82" y="793.73" font-size="6.2" text-anchor="middle" fill="#333">1.1</text>
<rect x="571.09" y="785.40" width="14.84" height="12.30" fill="#4848eb"/>
<text x="578.36" y="793.73" font-size="6.2" text-anchor="middle" fill="#333">0.1</text>
<rect x="585.63" y="785.40" width="14.84" height="12.30" fill="#f5f5fd"/>
<text x="592.90" y="793.73" font-size="6.2" text-anchor="middle" fill="#333">1.0</text>
<rect x="600.16" y="785.40" width="14.84" height="12.30" fill="#a8a8f5"/>
<text x="607.43" y="793.73" font-size="6.2" text-anchor="middle" fill="#333">0.6</text>
<rect x="454.80" y="737.40" width="159.90" height="60.00" fill="none" stroke="#111" stroke-width="1.1"/>
<line x1="451.80" y1="743.40" x2="454.80" y2="743.40" stroke="#111" stroke-width="1"/>
<text x="446.80" y="746.81" font-size="9.1" text-anchor="end" fill="#111">MI-883 5 µM</text>
<line x1="451.80" y1="755.40" x2="454.80" y2="755.40" stroke="#111" stroke-width="1"/>
<text x="446.80" y="758.81" font-size="9.1" text-anchor="end" fill="#111">SPA70 10 µM</text>
<line x1="451.80" y1="767.40" x2="454.80" y2="767.40" stroke="#111" stroke-width="1"/>
<text x="446.80" y="770.81" font-size="9.1" text-anchor="end" fill="#111">CITCO 1 µM</text>
<line x1="451.80" y1="779.40" x2="454.80" y2="779.40" stroke="#111" stroke-width="1"/>
<text x="446.80" y="782.81" font-size="9.1" text-anchor="end" fill="#111">rifampicin 5 µM</text>
<line x1="451.80" y1="791.40" x2="454.80" y2="791.40" stroke="#111" stroke-width="1"/>
<text x="446.80" y="794.81" font-size="9.1" text-anchor="end" fill="#111">rif 5 µM/MI-883 5 µM</text>
<line x1="462.07" y1="797.40" x2="462.07" y2="800.90" stroke="#111" stroke-width="1"/>
<text x="462.07" y="809.17" font-size="9.8" font-style="italic" text-anchor="end" fill="#111" transform="rotate(-90 462.07 805.50)">CYP3A4</text>
<line x1="476.60" y1="797.40" x2="476.60" y2="800.90" stroke="#111" stroke-width="1"/>
<text x="476.60" y="809.17" font-size="9.8" font-style="italic" text-anchor="end" fill="#111" transform="rotate(-90 476.60 805.50)">CYP2B6</text>
<line x1="491.14" y1="797.40" x2="491.14" y2="800.90" stroke="#111" stroke-width="1"/>
<text x="491.14" y="809.17" font-size="9.8" font-style="italic" text-anchor="end" fill="#111" transform="rotate(-90 491.14 805.50)">SREBF1</text>
<line x1="505.68" y1="797.40" x2="505.68" y2="800.90" stroke="#111" stroke-width="1"/>
<text x="505.68" y="809.17" font-size="9.8" font-style="italic" text-anchor="end" fill="#111" transform="rotate(-90 505.68 805.50)">SREBF2</text>
<line x1="520.21" y1="797.40" x2="520.21" y2="800.90" stroke="#111" stroke-width="1"/>
<text x="520.21" y="809.17" font-size="9.8" font-style="italic" text-anchor="end" fill="#111" transform="rotate(-90 520.21 805.50)">SQLE</text>
<line x1="534.75" y1="797.40" x2="534.75" y2="800.90" stroke="#111" stroke-width="1"/>
<text x="534.75" y="809.17" font-size="9.8" font-style="italic" text-anchor="end" fill="#111" transform="rotate(-90 534.75 805.50)">PCSK9</text>
<line x1="549.29" y1="797.40" x2="549.29" y2="800.90" stroke="#111" stroke-width="1"/>
<text x="549.29" y="809.17" font-size="9.8" font-style="italic" text-anchor="end" fill="#111" transform="rotate(-90 549.29 805.50)">INSIG1</text>
<line x1="563.82" y1="797.40" x2="563.82" y2="800.90" stroke="#111" stroke-width="1"/>
<text x="563.82" y="809.17" font-size="9.8" font-style="italic" text-anchor="end" fill="#111" transform="rotate(-90 563.82 805.50)">LDLR</text>
<line x1="578.36" y1="797.40" x2="578.36" y2="800.90" stroke="#111" stroke-width="1"/>
<text x="578.36" y="809.17" font-size="9.8" font-style="italic" text-anchor="end" fill="#111" transform="rotate(-90 578.36 805.50)">CYP7A1</text>
<line x1="592.90" y1="797.40" x2="592.90" y2="800.90" stroke="#111" stroke-width="1"/>
<text x="592.90" y="809.17" font-size="9.8" font-style="italic" text-anchor="end" fill="#111" transform="rotate(-90 592.90 805.50)">HMGCR</text>
<line x1="607.43" y1="797.40" x2="607.43" y2="800.90" stroke="#111" stroke-width="1"/>
<text x="607.43" y="809.17" font-size="9.8" font-style="italic" text-anchor="end" fill="#111" transform="rotate(-90 607.43 805.50)">HMGCS2</text>
<defs><linearGradient id="cb" x1="0" y1="1" x2="0" y2="0"><stop offset="0" stop-color="#4848e0"/><stop offset="0.035" stop-color="#ffffff"/><stop offset="1" stop-color="#fa8712"/></linearGradient></defs>
<rect x="620.6" y="737.3" width="8.4" height="60" fill="url(#cb)" stroke="#111" stroke-width="1"/>
<text x="634.60" y="740.28" font-size="8.2" text-anchor="start" fill="#111">30</text>
<line x1="620.60" y1="757.30" x2="622.40" y2="757.30" stroke="#111" stroke-width="0.9"/>
<line x1="627.20" y1="757.30" x2="629.00" y2="757.30" stroke="#111" stroke-width="0.9"/>
<text x="634.60" y="760.38" font-size="8.2" text-anchor="start" fill="#111">20</text>
<line x1="620.60" y1="777.30" x2="622.40" y2="777.30" stroke="#111" stroke-width="0.9"/>
<line x1="627.20" y1="777.30" x2="629.00" y2="777.30" stroke="#111" stroke-width="0.9"/>
<text x="634.60" y="780.38" font-size="8.2" text-anchor="start" fill="#111">10</text>
<text x="653.30" y="769.98" font-size="9.0" text-anchor="middle" fill="#111" transform="rotate(-90 653.30 766.60)">fold chnge</text>
<text x="424.2" y="30.80" font-family="Liberation Serif" font-size="5.6" font-weight="bold" fill="#333" textLength="10" lengthAdjust="spacingAndGlyphs">PXR</text>
<text x="424.2" y="36.40" font-family="Liberation Serif" font-size="5.6" font-weight="bold" fill="#333" textLength="10" lengthAdjust="spacingAndGlyphs">CAR</text>
<rect x="444.10" y="26.00" width="3.91" height="11.3" fill="#f00018"/>
<rect x="447.96" y="26.00" width="3.91" height="11.3" fill="#ffff1a"/>
<rect x="444.10" y="26.00" width="7.72" height="11.3" fill="none" stroke="#7b62d8" stroke-width="0.55"/>
<rect x="455.68" y="26.00" width="3.91" height="11.3" fill="#f00018"/>
<rect x="459.54" y="26.00" width="3.91" height="11.3" fill="#f00018"/>
<rect x="455.68" y="26.00" width="7.72" height="11.3" fill="none" stroke="#7b62d8" stroke-width="0.55"/>
<rect x="471.12" y="26.00" width="3.91" height="11.3" fill="#ffff1a"/>
<rect x="474.98" y="26.00" width="3.91" height="11.3" fill="#f00018"/>
<rect x="478.84" y="26.00" width="3.91" height="11.3" fill="#f00018"/>
<rect x="471.12" y="26.00" width="11.58" height="11.3" fill="none" stroke="#7b62d8" stroke-width="0.55"/>
<rect x="486.56" y="26.00" width="3.91" height="11.3" fill="#f00018"/>
<rect x="490.42" y="26.00" width="3.91" height="11.3" fill="#ffff1a"/>
<rect x="486.56" y="26.00" width="7.72" height="11.3" fill="none" stroke="#7b62d8" stroke-width="0.55"/>
<rect x="498.14" y="26.00" width="3.91" height="11.3" fill="#f00018"/>
<rect x="498.14" y="26.00" width="3.86" height="11.3" fill="none" stroke="#7b62d8" stroke-width="0.55"/>
<rect x="509.72" y="26.00" width="3.91" height="11.3" fill="#ffff1a"/>
<rect x="509.72" y="26.00" width="3.86" height="11.3" fill="none" stroke="#7b62d8" stroke-width="0.55"/>
<rect x="525.16" y="26.00" width="3.91" height="11.3" fill="#f00018"/>
<rect x="525.16" y="26.00" width="3.86" height="11.3" fill="none" stroke="#7b62d8" stroke-width="0.55"/>
<rect x="532.88" y="26.00" width="3.91" height="11.3" fill="#f00018"/>
<rect x="532.88" y="26.00" width="3.86" height="11.3" fill="none" stroke="#7b62d8" stroke-width="0.55"/>
<rect x="544.46" y="26.00" width="3.91" height="11.3" fill="#f00018"/>
<rect x="544.46" y="26.00" width="3.86" height="11.3" fill="none" stroke="#7b62d8" stroke-width="0.55"/>
<rect x="552.18" y="26.00" width="3.91" height="11.3" fill="#ffff1a"/>
<rect x="556.04" y="26.00" width="3.91" height="11.3" fill="#f00018"/>
<rect x="559.90" y="26.00" width="3.91" height="11.3" fill="#f00018"/>
<rect x="552.18" y="26.00" width="11.58" height="11.3" fill="none" stroke="#7b62d8" stroke-width="0.55"/>
<rect x="567.62" y="26.00" width="3.91" height="11.3" fill="#f00018"/>
<rect x="567.62" y="26.00" width="3.86" height="11.3" fill="none" stroke="#7b62d8" stroke-width="0.55"/>
<rect x="579.20" y="26.00" width="3.91" height="11.3" fill="#f00018"/>
<rect x="579.20" y="26.00" width="3.86" height="11.3" fill="none" stroke="#7b62d8" stroke-width="0.55"/>
<text x="446.03" y="30.90" font-family="Liberation Mono" font-size="5.7" font-weight="bold" text-anchor="middle" fill="#fff">L</text>
<text x="449.89" y="30.90" font-family="Liberation Mono" font-size="5.7" font-weight="bold" text-anchor="middle" fill="#111">T</text>
<text x="453.75" y="30.90" font-family="Liberation Mono" font-size="5.7" font-weight="bold" text-anchor="middle" fill="#3a3a3a">E</text>
<text x="457.61" y="30.90" font-family="Liberation Mono" font-size="5.7" font-weight="bold" text-anchor="middle" fill="#fff">Q</text>
<text x="461.47" y="30.90" font-family="Liberation Mono" font-size="5.7" font-weight="bold" text-anchor="middle" fill="#fff">S</text>
<text x="465.33" y="30.90" font-family="Liberation Mono" font-size="5.7" font-weight="bold" text-anchor="middle" fill="#3a3a3a">M</text>
<text x="469.19" y="30.90" font-family="Liberation Mono" font-size="5.7" font-weight="bold" text-anchor="middle" fill="#3a3a3a">E</text>
<text x="473.05" y="30.90" font-family="Liberation Mono" font-size="5.7" font-weight="bold" text-anchor="middle" fill="#111">Q</text>
<text x="476.91" y="30.90" font-family="Liberation Mono" font-size="5.7" font-weight="bold" text-anchor="middle" fill="#fff">R</text>
<text x="480.77" y="30.90" font-family="Liberation Mono" font-size="5.7" font-weight="bold" text-anchor="middle" fill="#fff">M</text>
<text x="484.63" y="30.90" font-family="Liberation Mono" font-size="5.7" font-weight="bold" text-anchor="middle" fill="#3a3a3a">D</text>
<text x="488.49" y="30.90" font-family="Liberation Mono" font-size="5.7" font-weight="bold" text-anchor="middle" fill="#fff">A</text>
<text x="492.35" y="30.90" font-family="Liberation Mono" font-size="5.7" font-weight="bold" text-anchor="middle" fill="#111">Q</text>
<text x="496.21" y="30.90" font-family="Liberation Mono" font-size="5.7" font-weight="bold" text-anchor="middle" fill="#3a3a3a">I</text>
<text x="500.07" y="30.90" font-family="Liberation Mono" font-size="5.7" font-weight="bold" text-anchor="middle" fill="#fff">R</text>
<text x="503.93" y="30.90" font-family="Liberation Mono" font-size="5.7" font-weight="bold" text-anchor="middle" fill="#3a3a3a">T</text>
<text x="507.79" y="30.90" font-family="Liberation Mono" font-size="5.7" font-weight="bold" text-anchor="middle" fill="#3a3a3a">F</text>
<text x="511.65" y="30.90" font-family="Liberation Mono" font-size="5.7" font-weight="bold" text-anchor="middle" fill="#111">D</text>
<text x="515.51" y="30.90" font-family="Liberation Mono" font-size="5.7" font-weight="bold" text-anchor="middle" fill="#3a3a3a">T</text>
<text x="519.37" y="30.90" font-family="Liberation Mono" font-size="5.7" font-weight="bold" text-anchor="middle" fill="#3a3a3a">I</text>
<text x="523.23" y="30.90" font-family="Liberation Mono" font-size="5.7" font-weight="bold" text-anchor="middle" fill="#3a3a3a">G</text>
<text x="527.09" y="30.90" font-family="Liberation Mono" font-size="5.7" font-weight="bold" text-anchor="middle" fill="#fff">I</text>
<text x="530.95" y="30.90" font-family="Liberation Mono" font-size="5.7" font-weight="bold" text-anchor="middle" fill="#3a3a3a">S</text>
<text x="534.81" y="30.90" font-family="Liberation Mono" font-size="5.7" font-weight="bold" text-anchor="middle" fill="#fff">I</text>
<text x="538.67" y="30.90" font-family="Liberation Mono" font-size="5.7" font-weight="bold" text-anchor="middle" fill="#3a3a3a">K</text>
<text x="542.53" y="30.90" font-family="Liberation Mono" font-size="5.7" font-weight="bold" text-anchor="middle" fill="#3a3a3a">N</text>
<text x="546.39" y="30.90" font-family="Liberation Mono" font-size="5.7" font-weight="bold" text-anchor="middle" fill="#fff">F</text>
<text x="550.25" y="30.90" font-family="Liberation Mono" font-size="5.7" font-weight="bold" text-anchor="middle" fill="#3a3a3a">R</text>
<text x="554.11" y="30.90" font-family="Liberation Mono" font-size="5.7" font-weight="bold" text-anchor="middle" fill="#111">I</text>
<text x="557.97" y="30.90" font-family="Liberation Mono" font-size="5.7" font-weight="bold" text-anchor="middle" fill="#fff">G</text>
<text x="561.83" y="30.90" font-family="Liberation Mono" font-size="5.7" font-weight="bold" text-anchor="middle" fill="#fff">V</text>
<text x="565.69" y="30.90" font-family="Liberation Mono" font-size="5.7" font-weight="bold" text-anchor="middle" fill="#3a3a3a">I</text>
<text x="569.55" y="30.90" font-family="Liberation Mono" font-size="5.7" font-weight="bold" text-anchor="middle" fill="#fff">S</text>
<text x="573.41" y="30.90" font-family="Liberation Mono" font-size="5.7" font-weight="bold" text-anchor="middle" fill="#3a3a3a">S</text>
<text x="577.27" y="30.90" font-family="Liberation Mono" font-size="5.7" font-weight="bold" text-anchor="middle" fill="#3a3a3a">G</text>
<text x="581.13" y="30.90" font-family="Liberation Mono" font-size="5.7" font-weight="bold" text-anchor="middle" fill="#fff">C</text>
<text x="584.99" y="30.90" font-family="Liberation Mono" font-size="5.7" font-weight="bold" text-anchor="middle" fill="#3a3a3a">E</text>
<text x="588.85" y="30.90" font-family="Liberation Mono" font-size="5.7" font-weight="bold" text-anchor="middle" fill="#3a3a3a">L</text>
<text x="592.71" y="30.90" font-family="Liberation Mono" font-size="5.7" font-weight="bold" text-anchor="middle" fill="#3a3a3a">P</text>
<text x="596.57" y="30.90" font-family="Liberation Mono" font-size="5.7" font-weight="bold" text-anchor="middle" fill="#3a3a3a">E</text>
<text x="600.43" y="30.90" font-family="Liberation Mono" font-size="5.7" font-weight="bold" text-anchor="middle" fill="#3a3a3a">S</text>
<text x="604.29" y="30.90" font-family="Liberation Mono" font-size="5.7" font-weight="bold" text-anchor="middle" fill="#3a3a3a">L</text>
<text x="608.15" y="30.90" font-family="Liberation Mono" font-size="5.7" font-weight="bold" text-anchor="middle" fill="#3a3a3a">Q</text>
<text x="612.01" y="30.90" font-family="Liberation Mono" font-size="5.7" font-weight="bold" text-anchor="middle" fill="#3a3a3a">A</text>
<text x="615.87" y="30.90" font-family="Liberation Mono" font-size="5.7" font-weight="bold" text-anchor="middle" fill="#3a3a3a">P</text>
<text x="619.73" y="30.90" font-family="Liberation Mono" font-size="5.7" font-weight="bold" text-anchor="middle" fill="#3a3a3a">S</text>
<text x="623.59" y="30.90" font-family="Liberation Mono" font-size="5.7" font-weight="bold" text-anchor="middle" fill="#3a3a3a">R</text>
<text x="627.45" y="30.90" font-family="Liberation Mono" font-size="5.7" font-weight="bold" text-anchor="middle" fill="#3a3a3a">E</text>
<text x="631.31" y="30.90" font-family="Liberation Mono" font-size="5.7" font-weight="bold" text-anchor="middle" fill="#3a3a3a">E</text>
<text x="635.17" y="30.90" font-family="Liberation Mono" font-size="5.7" font-weight="bold" text-anchor="middle" fill="#3a3a3a">A</text>
<text x="639.03" y="30.90" font-family="Liberation Mono" font-size="5.7" font-weight="bold" text-anchor="middle" fill="#3a3a3a">A</text>
<text x="642.89" y="30.90" font-family="Liberation Mono" font-size="5.7" font-weight="bold" text-anchor="middle" fill="#3a3a3a">K</text>
<text x="646.75" y="30.90" font-family="Liberation Mono" font-size="5.7" font-weight="bold" text-anchor="middle" fill="#3a3a3a">W</text>
<text x="650.61" y="30.90" font-family="Liberation Mono" font-size="5.7" font-weight="bold" text-anchor="middle" fill="#3a3a3a">S</text>
<text x="654.47" y="30.90" font-family="Liberation Mono" font-size="5.7" font-weight="bold" text-anchor="middle" fill="#3a3a3a">Q</text>
<text x="658.33" y="30.90" font-family="Liberation Mono" font-size="5.7" font-weight="bold" text-anchor="middle" fill="#3a3a3a">V</text>
<text x="662.19" y="30.90" font-family="Liberation Mono" font-size="5.7" font-weight="bold" text-anchor="middle" fill="#3a3a3a">R</text>
<text x="666.05" y="30.90" font-family="Liberation Mono" font-size="5.7" font-weight="bold" text-anchor="middle" fill="#3a3a3a">E</text>
<text x="669.91" y="30.90" font-family="Liberation Mono" font-size="5.7" font-weight="bold" text-anchor="middle" fill="#3a3a3a">D</text>
<circle cx="673.77" cy="30.10" r="0.35" fill="#666"/>
<text x="446.03" y="36.50" font-family="Liberation Mono" font-size="5.7" font-weight="bold" text-anchor="middle" fill="#fff">L</text>
<text x="449.89" y="36.50" font-family="Liberation Mono" font-size="5.7" font-weight="bold" text-anchor="middle" fill="#111">S</text>
<text x="453.75" y="36.50" font-family="Liberation Mono" font-size="5.7" font-weight="bold" text-anchor="middle" fill="#3a3a3a">K</text>
<text x="457.61" y="36.50" font-family="Liberation Mono" font-size="5.7" font-weight="bold" text-anchor="middle" fill="#fff">Q</text>
<text x="461.47" y="36.50" font-family="Liberation Mono" font-size="5.7" font-weight="bold" text-anchor="middle" fill="#fff">K</text>
<text x="465.33" y="36.50" font-family="Liberation Mono" font-size="5.7" font-weight="bold" text-anchor="middle" fill="#3a3a3a">K</text>
<text x="469.19" y="36.50" font-family="Liberation Mono" font-size="5.7" font-weight="bold" text-anchor="middle" fill="#3a3a3a">N</text>
<text x="473.05" y="36.50" font-family="Liberation Mono" font-size="5.7" font-weight="bold" text-anchor="middle" fill="#111">L</text>
<text x="476.91" y="36.50" font-family="Liberation Mono" font-size="5.7" font-weight="bold" text-anchor="middle" fill="#fff">I</text>
<text x="480.77" y="36.50" font-family="Liberation Mono" font-size="5.7" font-weight="bold" text-anchor="middle" fill="#fff">H</text>
<text x="484.63" y="36.50" font-family="Liberation Mono" font-size="5.7" font-weight="bold" text-anchor="middle" fill="#3a3a3a">T</text>
<text x="488.49" y="36.50" font-family="Liberation Mono" font-size="5.7" font-weight="bold" text-anchor="middle" fill="#fff">L</text>
<text x="492.35" y="36.50" font-family="Liberation Mono" font-size="5.7" font-weight="bold" text-anchor="middle" fill="#111">S</text>
<text x="496.21" y="36.50" font-family="Liberation Mono" font-size="5.7" font-weight="bold" text-anchor="middle" fill="#3a3a3a">L</text>
<text x="500.07" y="36.50" font-family="Liberation Mono" font-size="5.7" font-weight="bold" text-anchor="middle" fill="#fff">A</text>
<text x="503.93" y="36.50" font-family="Liberation Mono" font-size="5.7" font-weight="bold" text-anchor="middle" fill="#3a3a3a">H</text>
<text x="507.79" y="36.50" font-family="Liberation Mono" font-size="5.7" font-weight="bold" text-anchor="middle" fill="#3a3a3a">T</text>
<text x="511.65" y="36.50" font-family="Liberation Mono" font-size="5.7" font-weight="bold" text-anchor="middle" fill="#111">N</text>
<text x="515.51" y="36.50" font-family="Liberation Mono" font-size="5.7" font-weight="bold" text-anchor="middle" fill="#3a3a3a">M</text>
<text x="519.37" y="36.50" font-family="Liberation Mono" font-size="5.7" font-weight="bold" text-anchor="middle" fill="#3a3a3a">H</text>
<text x="523.23" y="36.50" font-family="Liberation Mono" font-size="5.7" font-weight="bold" text-anchor="middle" fill="#3a3a3a">G</text>
<text x="527.09" y="36.50" font-family="Liberation Mono" font-size="5.7" font-weight="bold" text-anchor="middle" fill="#fff">G</text>
<text x="530.95" y="36.50" font-family="Liberation Mono" font-size="5.7" font-weight="bold" text-anchor="middle" fill="#3a3a3a">H</text>
<text x="534.81" y="36.50" font-family="Liberation Mono" font-size="5.7" font-weight="bold" text-anchor="middle" fill="#fff">F</text>
<text x="538.67" y="36.50" font-family="Liberation Mono" font-size="5.7" font-weight="bold" text-anchor="middle" fill="#3a3a3a">K</text>
<text x="542.53" y="36.50" font-family="Liberation Mono" font-size="5.7" font-weight="bold" text-anchor="middle" fill="#3a3a3a">G</text>
<text x="546.39" y="36.50" font-family="Liberation Mono" font-size="5.7" font-weight="bold" text-anchor="middle" fill="#fff">V</text>
<text x="550.25" y="36.50" font-family="Liberation Mono" font-size="5.7" font-weight="bold" text-anchor="middle" fill="#3a3a3a">L</text>
<text x="554.11" y="36.50" font-family="Liberation Mono" font-size="5.7" font-weight="bold" text-anchor="middle" fill="#111">T</text>
<text x="557.97" y="36.50" font-family="Liberation Mono" font-size="5.7" font-weight="bold" text-anchor="middle" fill="#fff">K</text>
<text x="561.83" y="36.50" font-family="Liberation Mono" font-size="5.7" font-weight="bold" text-anchor="middle" fill="#fff">H</text>
<text x="565.69" y="36.50" font-family="Liberation Mono" font-size="5.7" font-weight="bold" text-anchor="middle" fill="#3a3a3a">W</text>
<circle cx="569.55" cy="35.70" r="0.35" fill="#666"/>
<circle cx="573.41" cy="35.70" r="0.35" fill="#666"/>
<circle cx="577.27" cy="35.70" r="0.35" fill="#666"/>
<circle cx="581.13" cy="35.70" r="0.35" fill="#666"/>
<circle cx="584.99" cy="35.70" r="0.35" fill="#666"/>
<circle cx="588.85" cy="35.70" r="0.35" fill="#666"/>
<circle cx="592.71" cy="35.70" r="0.35" fill="#666"/>
<circle cx="596.57" cy="35.70" r="0.35" fill="#666"/>
<circle cx="600.43" cy="35.70" r="0.35" fill="#666"/>
<circle cx="604.29" cy="35.70" r="0.35" fill="#666"/>
<circle cx="608.15" cy="35.70" r="0.35" fill="#666"/>
<circle cx="612.01" cy="35.70" r="0.35" fill="#666"/>
<circle cx="615.87" cy="35.70" r="0.35" fill="#666"/>
<circle cx="619.73" cy="35.70" r="0.35" fill="#666"/>
<circle cx="623.59" cy="35.70" r="0.35" fill="#666"/>
<circle cx="627.45" cy="35.70" r="0.35" fill="#666"/>
<circle cx="631.31" cy="35.70" r="0.35" fill="#666"/>
<circle cx="635.17" cy="35.70" r="0.35" fill="#666"/>
<circle cx="639.03" cy="35.70" r="0.35" fill="#666"/>
<circle cx="642.89" cy="35.70" r="0.35" fill="#666"/>
<circle cx="646.75" cy="35.70" r="0.35" fill="#666"/>
<circle cx="650.61" cy="35.70" r="0.35" fill="#666"/>
<circle cx="654.47" cy="35.70" r="0.35" fill="#666"/>
<circle cx="658.33" cy="35.70" r="0.35" fill="#666"/>
<circle cx="662.19" cy="35.70" r="0.35" fill="#666"/>
<circle cx="666.05" cy="35.70" r="0.35" fill="#666"/>
<circle cx="669.91" cy="35.70" r="0.35" fill="#666"/>
<circle cx="673.77" cy="35.70" r="0.35" fill="#666"/>
<text x="475.65" y="22.30" font-family="Liberation Serif" font-size="4.8" font-weight="bold" text-anchor="end" fill="#222" letter-spacing="1.6">150</text>
<circle cx="473.05" cy="24.00" r="0.35" fill="#888"/>
<text x="514.25" y="22.30" font-family="Liberation Serif" font-size="4.8" font-weight="bold" text-anchor="end" fill="#222" letter-spacing="1.6">160</text>
<circle cx="511.65" cy="24.00" r="0.35" fill="#888"/>
<text x="552.85" y="22.30" font-family="Liberation Serif" font-size="4.8" font-weight="bold" text-anchor="end" fill="#222" letter-spacing="1.6">170</text>
<circle cx="550.25" cy="24.00" r="0.35" fill="#888"/>
<text x="591.45" y="22.30" font-family="Liberation Serif" font-size="4.8" font-weight="bold" text-anchor="end" fill="#222" letter-spacing="1.6">180</text>
<circle cx="588.85" cy="24.00" r="0.35" fill="#888"/>
<text x="630.05" y="22.30" font-family="Liberation Serif" font-size="4.8" font-weight="bold" text-anchor="end" fill="#222" letter-spacing="1.6">190</text>
<circle cx="627.45" cy="24.00" r="0.35" fill="#888"/>
<text x="668.65" y="22.30" font-family="Liberation Serif" font-size="4.8" font-weight="bold" text-anchor="end" fill="#222" letter-spacing="1.6">200</text>
<circle cx="666.05" cy="24.00" r="0.35" fill="#888"/>
<path d=" M452.22,14.80 C454.82,13.60 455.52,16.00 453.72,16.40 L452.42,17.10 L455.42,17.10 M456.08,14.80 C458.68,13.60 459.38,16.00 457.58,16.40 L456.28,17.10 L459.28,17.10 M459.94,14.80 C462.54,13.60 463.24,16.00 461.44,16.40 L460.14,17.10 L463.14,17.10 M463.80,14.80 C466.40,13.60 467.10,16.00 465.30,16.40 L464.00,17.10 L467.00,17.10 M467.66,14.80 C470.26,13.60 470.96,16.00 469.16,16.40 L467.86,17.10 L470.86,17.10 M471.52,14.80 C474.12,13.60 474.82,16.00 473.02,16.40 L471.72,17.10 L474.72,17.10 M475.38,14.80 C477.98,13.60 478.68,16.00 476.88,16.40 L475.58,17.10 L478.58,17.10 M479.24,14.80 C481.84,13.60 482.54,16.00 480.74,16.40 L479.44,17.10 L482.44,17.10 M483.10,14.80 C485.70,13.60 486.40,16.00 484.60,16.40 L483.30,17.10 L486.30,17.10 M486.96,14.80 C489.56,13.60 490.26,16.00 488.46,16.40 L487.16,17.10 L490.16,17.10 M490.82,14.80 C493.42,13.60 494.12,16.00 492.32,16.40 L491.02,17.10 L494.02,17.10 M494.68,14.80 C497.28,13.60 497.98,16.00 496.18,16.40 L494.88,17.10 L497.88,17.10 M498.54,14.80 C501.14,13.60 501.84,16.00 500.04,16.40 L498.74,17.10 L501.74,17.10 M502.40,14.80 C505.00,13.60 505.70,16.00 503.90,16.40 L502.60,17.10 L505.60,17.10 M506.26,14.80 C508.86,13.60 509.56,16.00 507.76,16.40 L506.46,17.10 L509.46,17.10 M510.12,14.80 C512.72,13.60 513.42,16.00 511.62,16.40 L510.32,17.10 L513.32,17.10 M513.98,14.80 C516.58,13.60 517.28,16.00 515.48,16.40 L514.18,17.10 L517.18,17.10" fill="none" stroke="#666" stroke-width="0.5"/>
<line x1="451.82" y1="17.90" x2="517.44" y2="17.90" stroke="#666" stroke-width="0.55"/>
<text x="483.47" y="12.40" font-family="Liberation Serif" font-size="6.2" text-anchor="middle" fill="#333">α4</text>
<path d=" M637.50,14.80 C640.10,13.60 640.80,16.00 639.00,16.40 L637.70,17.10 L640.70,17.10 M641.36,14.80 C643.96,13.60 644.66,16.00 642.86,16.40 L641.56,17.10 L644.56,17.10 M645.22,14.80 C647.82,13.60 648.52,16.00 646.72,16.40 L645.42,17.10 L648.42,17.10 M649.08,14.80 C651.68,13.60 652.38,16.00 650.58,16.40 L649.28,17.10 L652.28,17.10 M652.94,14.80 C655.54,13.60 656.24,16.00 654.44,16.40 L653.14,17.10 L656.14,17.10 M656.80,14.80 C659.40,13.60 660.10,16.00 658.30,16.40 L657.00,17.10 L660.00,17.10 M660.66,14.80 C663.26,13.60 663.96,16.00 662.16,16.40 L660.86,17.10 L663.86,17.10 M664.52,14.80 C667.12,13.60 667.82,16.00 666.02,16.40 L664.72,17.10 L667.72,17.10 M668.38,14.80 C670.98,13.60 671.68,16.00 669.88,16.40 L668.58,17.10 L671.58,17.10 M672.24,14.80 C674.84,13.60 675.54,16.00 673.74,16.40 L672.44,17.10 L675.44,17.10" fill="none" stroke="#666" stroke-width="0.5"/>
<line x1="637.10" y1="17.90" x2="675.70" y2="17.90" stroke="#666" stroke-width="0.55"/>
<text x="667.59" y="12.40" font-family="Liberation Serif" font-size="6.2" text-anchor="middle" fill="#333">α5</text>
<text x="424.2" y="64.85" font-family="Liberation Serif" font-size="5.6" font-weight="bold" fill="#333" textLength="10" lengthAdjust="spacingAndGlyphs">PXR</text>
<text x="424.2" y="70.45" font-family="Liberation Serif" font-size="5.6" font-weight="bold" fill="#333" textLength="10" lengthAdjust="spacingAndGlyphs">CAR</text>
<rect x="540.60" y="60.05" width="3.91" height="11.3" fill="#f00018"/>
<rect x="540.60" y="60.05" width="3.86" height="11.3" fill="none" stroke="#7b62d8" stroke-width="0.55"/>
<rect x="571.48" y="60.05" width="3.91" height="11.3" fill="#ffff1a"/>
<rect x="571.48" y="60.05" width="3.86" height="11.3" fill="none" stroke="#7b62d8" stroke-width="0.55"/>
<rect x="583.06" y="60.05" width="3.91" height="11.3" fill="#f00018"/>
<rect x="586.92" y="60.05" width="3.91" height="11.3" fill="#ffff1a"/>
<rect x="583.06" y="60.05" width="7.72" height="11.3" fill="none" stroke="#7b62d8" stroke-width="0.55"/>
<rect x="594.64" y="60.05" width="3.91" height="11.3" fill="#f00018"/>
<rect x="594.64" y="60.05" width="3.86" height="11.3" fill="none" stroke="#7b62d8" stroke-width="0.55"/>
<rect x="602.36" y="60.05" width="3.91" height="11.3" fill="#f00018"/>
<rect x="606.22" y="60.05" width="3.91" height="11.3" fill="#f00018"/>
<rect x="610.08" y="60.05" width="3.91" height="11.3" fill="#ffff1a"/>
<rect x="613.94" y="60.05" width="3.91" height="11.3" fill="#ffff1a"/>
<rect x="617.80" y="60.05" width="3.91" height="11.3" fill="#f00018"/>
<rect x="621.66" y="60.05" width="3.91" height="11.3" fill="#ffff1a"/>
<rect x="625.52" y="60.05" width="3.91" height="11.3" fill="#f00018"/>
<rect x="602.36" y="60.05" width="27.02" height="11.3" fill="none" stroke="#7b62d8" stroke-width="0.55"/>
<rect x="640.96" y="60.05" width="3.91" height="11.3" fill="#ffff1a"/>
<rect x="644.82" y="60.05" width="3.91" height="11.3" fill="#ffff1a"/>
<rect x="640.96" y="60.05" width="7.72" height="11.3" fill="none" stroke="#7b62d8" stroke-width="0.55"/>
<rect x="652.54" y="60.05" width="3.91" height="11.3" fill="#f00018"/>
<rect x="652.54" y="60.05" width="3.86" height="11.3" fill="none" stroke="#7b62d8" stroke-width="0.55"/>
<rect x="660.26" y="60.05" width="3.91" height="11.3" fill="#f00018"/>
<rect x="664.12" y="60.05" width="3.91" height="11.3" fill="#f00018"/>
<rect x="660.26" y="60.05" width="7.72" height="11.3" fill="none" stroke="#7b62d8" stroke-width="0.55"/>
<rect x="671.84" y="60.05" width="3.91" height="11.3" fill="#ffff1a"/>
<rect x="671.84" y="60.05" width="3.86" height="11.3" fill="none" stroke="#7b62d8" stroke-width="0.55"/>
<text x="446.03" y="64.95" font-family="Liberation Mono" font-size="5.7" font-weight="bold" text-anchor="middle" fill="#3a3a3a">R</text>
<text x="449.89" y="64.95" font-family="Liberation Mono" font-size="5.7" font-weight="bold" text-anchor="middle" fill="#3a3a3a">S</text>
<text x="453.75" y="64.95" font-family="Liberation Mono" font-size="5.7" font-weight="bold" text-anchor="middle" fill="#3a3a3a">D</text>
<text x="457.61" y="64.95" font-family="Liberation Mono" font-size="5.7" font-weight="bold" text-anchor="middle" fill="#3a3a3a">L</text>
<text x="461.47" y="64.95" font-family="Liberation Mono" font-size="5.7" font-weight="bold" text-anchor="middle" fill="#3a3a3a">C</text>
<text x="465.33" y="64.95" font-family="Liberation Mono" font-size="5.7" font-weight="bold" text-anchor="middle" fill="#3a3a3a">C</text>
<text x="469.19" y="64.95" font-family="Liberation Mono" font-size="5.7" font-weight="bold" text-anchor="middle" fill="#3a3a3a">L</text>
<text x="473.05" y="64.95" font-family="Liberation Mono" font-size="5.7" font-weight="bold" text-anchor="middle" fill="#3a3a3a">K</text>
<text x="476.91" y="64.95" font-family="Liberation Mono" font-size="5.7" font-weight="bold" text-anchor="middle" fill="#3a3a3a">V</text>
<text x="480.77" y="64.95" font-family="Liberation Mono" font-size="5.7" font-weight="bold" text-anchor="middle" fill="#3a3a3a">S</text>
<text x="484.63" y="64.95" font-family="Liberation Mono" font-size="5.7" font-weight="bold" text-anchor="middle" fill="#3a3a3a">L</text>
<text x="488.49" y="64.95" font-family="Liberation Mono" font-size="5.7" font-weight="bold" text-anchor="middle" fill="#3a3a3a">Q</text>
<text x="492.35" y="64.95" font-family="Liberation Mono" font-size="5.7" font-weight="bold" text-anchor="middle" fill="#3a3a3a">L</text>
<text x="496.21" y="64.95" font-family="Liberation Mono" font-size="5.7" font-weight="bold" text-anchor="middle" fill="#3a3a3a">R</text>
<text x="500.07" y="64.95" font-family="Liberation Mono" font-size="5.7" font-weight="bold" text-anchor="middle" fill="#3a3a3a">G</text>
<text x="503.93" y="64.95" font-family="Liberation Mono" font-size="5.7" font-weight="bold" text-anchor="middle" fill="#3a3a3a">E</text>
<text x="507.79" y="64.95" font-family="Liberation Mono" font-size="5.7" font-weight="bold" text-anchor="middle" fill="#3a3a3a">D</text>
<text x="511.65" y="64.95" font-family="Liberation Mono" font-size="5.7" font-weight="bold" text-anchor="middle" fill="#3a3a3a">G</text>
<text x="515.51" y="64.95" font-family="Liberation Mono" font-size="5.7" font-weight="bold" text-anchor="middle" fill="#3a3a3a">S</text>
<text x="519.37" y="64.95" font-family="Liberation Mono" font-size="5.7" font-weight="bold" text-anchor="middle" fill="#3a3a3a">V</text>
<text x="523.23" y="64.95" font-family="Liberation Mono" font-size="5.7" font-weight="bold" text-anchor="middle" fill="#3a3a3a">W</text>
<text x="527.09" y="64.95" font-family="Liberation Mono" font-size="5.7" font-weight="bold" text-anchor="middle" fill="#3a3a3a">N</text>
<text x="530.95" y="64.95" font-family="Liberation Mono" font-size="5.7" font-weight="bold" text-anchor="middle" fill="#3a3a3a">Y</text>
<text x="534.81" y="64.95" font-family="Liberation Mono" font-size="5.7" font-weight="bold" text-anchor="middle" fill="#3a3a3a">K</text>
<text x="538.67" y="64.95" font-family="Liberation Mono" font-size="5.7" font-weight="bold" text-anchor="middle" fill="#3a3a3a">P</text>
<text x="542.53" y="64.95" font-family="Liberation Mono" font-size="5.7" font-weight="bold" text-anchor="middle" fill="#fff">P</text>
<text x="546.39" y="64.95" font-family="Liberation Mono" font-size="5.7" font-weight="bold" text-anchor="middle" fill="#3a3a3a">A</text>
<text x="550.25" y="64.95" font-family="Liberation Mono" font-size="5.7" font-weight="bold" text-anchor="middle" fill="#3a3a3a">D</text>
<text x="554.11" y="64.95" font-family="Liberation Mono" font-size="5.7" font-weight="bold" text-anchor="middle" fill="#3a3a3a">S</text>
<text x="557.97" y="64.95" font-family="Liberation Mono" font-size="5.7" font-weight="bold" text-anchor="middle" fill="#3a3a3a">G</text>
<text x="561.83" y="64.95" font-family="Liberation Mono" font-size="5.7" font-weight="bold" text-anchor="middle" fill="#3a3a3a">G</text>
<text x="565.69" y="64.95" font-family="Liberation Mono" font-size="5.7" font-weight="bold" text-anchor="middle" fill="#3a3a3a">K</text>
<text x="569.55" y="64.95" font-family="Liberation Mono" font-size="5.7" font-weight="bold" text-anchor="middle" fill="#3a3a3a">E</text>
<text x="573.41" y="64.95" font-family="Liberation Mono" font-size="5.7" font-weight="bold" text-anchor="middle" fill="#111">I</text>
<text x="577.27" y="64.95" font-family="Liberation Mono" font-size="5.7" font-weight="bold" text-anchor="middle" fill="#3a3a3a">F</text>
<text x="581.13" y="64.95" font-family="Liberation Mono" font-size="5.7" font-weight="bold" text-anchor="middle" fill="#3a3a3a">S</text>
<text x="584.99" y="64.95" font-family="Liberation Mono" font-size="5.7" font-weight="bold" text-anchor="middle" fill="#fff">L</text>
<text x="588.85" y="64.95" font-family="Liberation Mono" font-size="5.7" font-weight="bold" text-anchor="middle" fill="#111">L</text>
<text x="592.71" y="64.95" font-family="Liberation Mono" font-size="5.7" font-weight="bold" text-anchor="middle" fill="#3a3a3a">P</text>
<text x="596.57" y="64.95" font-family="Liberation Mono" font-size="5.7" font-weight="bold" text-anchor="middle" fill="#fff">H</text>
<text x="600.43" y="64.95" font-family="Liberation Mono" font-size="5.7" font-weight="bold" text-anchor="middle" fill="#3a3a3a">F</text>
<text x="604.29" y="64.95" font-family="Liberation Mono" font-size="5.7" font-weight="bold" text-anchor="middle" fill="#fff">A</text>
<text x="608.15" y="64.95" font-family="Liberation Mono" font-size="5.7" font-weight="bold" text-anchor="middle" fill="#fff">D</text>
<text x="612.01" y="64.95" font-family="Liberation Mono" font-size="5.7" font-weight="bold" text-anchor="middle" fill="#111">M</text>
<text x="615.87" y="64.95" font-family="Liberation Mono" font-size="5.7" font-weight="bold" text-anchor="middle" fill="#111">S</text>
<text x="619.73" y="64.95" font-family="Liberation Mono" font-size="5.7" font-weight="bold" text-anchor="middle" fill="#fff">T</text>
<text x="623.59" y="64.95" font-family="Liberation Mono" font-size="5.7" font-weight="bold" text-anchor="middle" fill="#111">Y</text>
<text x="627.45" y="64.95" font-family="Liberation Mono" font-size="5.7" font-weight="bold" text-anchor="middle" fill="#fff">M</text>
<text x="631.31" y="64.95" font-family="Liberation Mono" font-size="5.7" font-weight="bold" text-anchor="middle" fill="#3a3a3a">F</text>
<text x="635.17" y="64.95" font-family="Liberation Mono" font-size="5.7" font-weight="bold" text-anchor="middle" fill="#3a3a3a">K</text>
<text x="639.03" y="64.95" font-family="Liberation Mono" font-size="5.7" font-weight="bold" text-anchor="middle" fill="#3a3a3a">G</text>
<text x="642.89" y="64.95" font-family="Liberation Mono" font-size="5.7" font-weight="bold" text-anchor="middle" fill="#111">I</text>
<text x="646.75" y="64.95" font-family="Liberation Mono" font-size="5.7" font-weight="bold" text-anchor="middle" fill="#111">I</text>
<text x="650.61" y="64.95" font-family="Liberation Mono" font-size="5.7" font-weight="bold" text-anchor="middle" fill="#3a3a3a">S</text>
<text x="654.47" y="64.95" font-family="Liberation Mono" font-size="5.7" font-weight="bold" text-anchor="middle" fill="#fff">F</text>
<text x="658.33" y="64.95" font-family="Liberation Mono" font-size="5.7" font-weight="bold" text-anchor="middle" fill="#3a3a3a">A</text>
<text x="662.19" y="64.95" font-family="Liberation Mono" font-size="5.7" font-weight="bold" text-anchor="middle" fill="#fff">K</text>
<text x="666.05" y="64.95" font-family="Liberation Mono" font-size="5.7" font-weight="bold" text-anchor="middle" fill="#fff">V</text>
<text x="669.91" y="64.95" font-family="Liberation Mono" font-size="5.7" font-weight="bold" text-anchor="middle" fill="#3a3a3a">I</text>
<text x="673.77" y="64.95" font-family="Liberation Mono" font-size="5.7" font-weight="bold" text-anchor="middle" fill="#111">S</text>
<circle cx="446.03" cy="69.75" r="0.35" fill="#666"/>
<circle cx="449.89" cy="69.75" r="0.35" fill="#666"/>
<circle cx="453.75" cy="69.75" r="0.35" fill="#666"/>
<circle cx="457.61" cy="69.75" r="0.35" fill="#666"/>
<circle cx="461.47" cy="69.75" r="0.35" fill="#666"/>
<circle cx="465.33" cy="69.75" r="0.35" fill="#666"/>
<circle cx="469.19" cy="69.75" r="0.35" fill="#666"/>
<circle cx="473.05" cy="69.75" r="0.35" fill="#666"/>
<circle cx="476.91" cy="69.75" r="0.35" fill="#666"/>
<circle cx="480.77" cy="69.75" r="0.35" fill="#666"/>
<circle cx="484.63" cy="69.75" r="0.35" fill="#666"/>
<circle cx="488.49" cy="69.75" r="0.35" fill="#666"/>
<circle cx="492.35" cy="69.75" r="0.35" fill="#666"/>
<circle cx="496.21" cy="69.75" r="0.35" fill="#666"/>
<circle cx="500.07" cy="69.75" r="0.35" fill="#666"/>
<circle cx="503.93" cy="69.75" r="0.35" fill="#666"/>
<circle cx="507.79" cy="69.75" r="0.35" fill="#666"/>
<circle cx="511.65" cy="69.75" r="0.35" fill="#666"/>
<circle cx="515.51" cy="69.75" r="0.35" fill="#666"/>
<circle cx="519.37" cy="69.75" r="0.35" fill="#666"/>
<circle cx="523.23" cy="69.75" r="0.35" fill="#666"/>
<circle cx="527.09" cy="69.75" r="0.35" fill="#666"/>
<circle cx="530.95" cy="69.75" r="0.35" fill="#666"/>
<circle cx="534.81" cy="69.75" r="0.35" fill="#666"/>
<text x="538.67" y="70.55" font-family="Liberation Mono" font-size="5.7" font-weight="bold" text-anchor="middle" fill="#3a3a3a">Q</text>
<circle cx="542.53" cy="69.75" r="0.35" fill="#666"/>
<text x="546.39" y="70.55" font-family="Liberation Mono" font-size="5.7" font-weight="bold" text-anchor="middle" fill="#3a3a3a">L</text>
<text x="550.25" y="70.55" font-family="Liberation Mono" font-size="5.7" font-weight="bold" text-anchor="middle" fill="#3a3a3a">P</text>
<text x="554.11" y="70.55" font-family="Liberation Mono" font-size="5.7" font-weight="bold" text-anchor="middle" fill="#3a3a3a">T</text>
<text x="557.97" y="70.55" font-family="Liberation Mono" font-size="5.7" font-weight="bold" text-anchor="middle" fill="#3a3a3a">L</text>
<text x="561.83" y="70.55" font-family="Liberation Mono" font-size="5.7" font-weight="bold" text-anchor="middle" fill="#3a3a3a">A</text>
<text x="565.69" y="70.55" font-family="Liberation Mono" font-size="5.7" font-weight="bold" text-anchor="middle" fill="#3a3a3a">P</text>
<text x="569.55" y="70.55" font-family="Liberation Mono" font-size="5.7" font-weight="bold" text-anchor="middle" fill="#3a3a3a">V</text>
<text x="573.41" y="70.55" font-family="Liberation Mono" font-size="5.7" font-weight="bold" text-anchor="middle" fill="#111">L</text>
<text x="577.27" y="70.55" font-family="Liberation Mono" font-size="5.7" font-weight="bold" text-anchor="middle" fill="#3a3a3a">P</text>
<text x="581.13" y="70.55" font-family="Liberation Mono" font-size="5.7" font-weight="bold" text-anchor="middle" fill="#3a3a3a">L</text>
<text x="584.99" y="70.55" font-family="Liberation Mono" font-size="5.7" font-weight="bold" text-anchor="middle" fill="#fff">V</text>
<text x="588.85" y="70.55" font-family="Liberation Mono" font-size="5.7" font-weight="bold" text-anchor="middle" fill="#111">T</text>
<text x="592.71" y="70.55" font-family="Liberation Mono" font-size="5.7" font-weight="bold" text-anchor="middle" fill="#3a3a3a">H</text>
<text x="596.57" y="70.55" font-family="Liberation Mono" font-size="5.7" font-weight="bold" text-anchor="middle" fill="#fff">F</text>
<text x="600.43" y="70.55" font-family="Liberation Mono" font-size="5.7" font-weight="bold" text-anchor="middle" fill="#3a3a3a">A</text>
<text x="604.29" y="70.55" font-family="Liberation Mono" font-size="5.7" font-weight="bold" text-anchor="middle" fill="#fff">D</text>
<text x="608.15" y="70.55" font-family="Liberation Mono" font-size="5.7" font-weight="bold" text-anchor="middle" fill="#fff">I</text>
<text x="612.01" y="70.55" font-family="Liberation Mono" font-size="5.7" font-weight="bold" text-anchor="middle" fill="#111">N</text>
<text x="615.87" y="70.55" font-family="Liberation Mono" font-size="5.7" font-weight="bold" text-anchor="middle" fill="#111">T</text>
<text x="619.73" y="70.55" font-family="Liberation Mono" font-size="5.7" font-weight="bold" text-anchor="middle" fill="#fff">F</text>
<text x="623.59" y="70.55" font-family="Liberation Mono" font-size="5.7" font-weight="bold" text-anchor="middle" fill="#111">M</text>
<text x="627.45" y="70.55" font-family="Liberation Mono" font-size="5.7" font-weight="bold" text-anchor="middle" fill="#fff">V</text>
<text x="631.31" y="70.55" font-family="Liberation Mono" font-size="5.7" font-weight="bold" text-anchor="middle" fill="#3a3a3a">L</text>
<text x="635.17" y="70.55" font-family="Liberation Mono" font-size="5.7" font-weight="bold" text-anchor="middle" fill="#3a3a3a">Q</text>
<text x="639.03" y="70.55" font-family="Liberation Mono" font-size="5.7" font-weight="bold" text-anchor="middle" fill="#3a3a3a">V</text>
<text x="642.89" y="70.55" font-family="Liberation Mono" font-size="5.7" font-weight="bold" text-anchor="middle" fill="#111">I</text>
<text x="646.75" y="70.55" font-family="Liberation Mono" font-size="5.7" font-weight="bold" text-anchor="middle" fill="#111">K</text>
<text x="650.61" y="70.55" font-family="Liberation Mono" font-size="5.7" font-weight="bold" text-anchor="middle" fill="#3a3a3a">F</text>
<text x="654.47" y="70.55" font-family="Liberation Mono" font-size="5.7" font-weight="bold" text-anchor="middle" fill="#fff">T</text>
<text x="658.33" y="70.55" font-family="Liberation Mono" font-size="5.7" font-weight="bold" text-anchor="middle" fill="#3a3a3a">K</text>
<text x="662.19" y="70.55" font-family="Liberation Mono" font-size="5.7" font-weight="bold" text-anchor="middle" fill="#fff">D</text>
<text x="666.05" y="70.55" font-family="Liberation Mono" font-size="5.7" font-weight="bold" text-anchor="middle" fill="#fff">L</text>
<text x="669.91" y="70.55" font-family="Liberation Mono" font-size="5.7" font-weight="bold" text-anchor="middle" fill="#3a3a3a">P</text>
<text x="673.77" y="70.55" font-family="Liberation Mono" font-size="5.7" font-weight="bold" text-anchor="middle" fill="#111">V</text>
<text x="475.65" y="56.35" font-family="Liberation Serif" font-size="4.8" font-weight="bold" text-anchor="end" fill="#222" letter-spacing="1.6">210</text>
<circle cx="473.05" cy="58.05" r="0.35" fill="#888"/>
<text x="514.25" y="56.35" font-family="Liberation Serif" font-size="4.8" font-weight="bold" text-anchor="end" fill="#222" letter-spacing="1.6">220</text>
<circle cx="511.65" cy="58.05" r="0.35" fill="#888"/>
<text x="552.85" y="56.35" font-family="Liberation Serif" font-size="4.8" font-weight="bold" text-anchor="end" fill="#222" letter-spacing="1.6">230</text>
<circle cx="550.25" cy="58.05" r="0.35" fill="#888"/>
<text x="591.45" y="56.35" font-family="Liberation Serif" font-size="4.8" font-weight="bold" text-anchor="end" fill="#222" letter-spacing="1.6">240</text>
<circle cx="588.85" cy="58.05" r="0.35" fill="#888"/>
<text x="630.05" y="56.35" font-family="Liberation Serif" font-size="4.8" font-weight="bold" text-anchor="end" fill="#222" letter-spacing="1.6">250</text>
<circle cx="627.45" cy="58.05" r="0.35" fill="#888"/>
<text x="668.65" y="56.35" font-family="Liberation Serif" font-size="4.8" font-weight="bold" text-anchor="end" fill="#222" letter-spacing="1.6">260</text>
<circle cx="666.05" cy="58.05" r="0.35" fill="#888"/>
<path d=" M444.50,48.85 C447.10,47.65 447.80,50.05 446.00,50.45 L444.70,51.15 L447.70,51.15 M448.36,48.85 C450.96,47.65 451.66,50.05 449.86,50.45 L448.56,51.15 L451.56,51.15 M452.22,48.85 C454.82,47.65 455.52,50.05 453.72,50.45 L452.42,51.15 L455.42,51.15 M456.08,48.85 C458.68,47.65 459.38,50.05 457.58,50.45 L456.28,51.15 L459.28,51.15 M459.94,48.85 C462.54,47.65 463.24,50.05 461.44,50.45 L460.14,51.15 L463.14,51.15" fill="none" stroke="#666" stroke-width="0.5"/>
<line x1="444.10" y1="51.95" x2="463.40" y2="51.95" stroke="#666" stroke-width="0.55"/>
<path d=" M564.16,48.85 C566.76,47.65 567.46,50.05 565.66,50.45 L564.36,51.15 L567.36,51.15 M568.02,48.85 C570.62,47.65 571.32,50.05 569.52,50.45 L568.22,51.15 L571.22,51.15 M571.88,48.85 C574.48,47.65 575.18,50.05 573.38,50.45 L572.08,51.15 L575.08,51.15 M575.74,48.85 C578.34,47.65 579.04,50.05 577.24,50.45 L575.94,51.15 L578.94,51.15" fill="none" stroke="#666" stroke-width="0.5"/>
<line x1="563.76" y1="51.95" x2="579.20" y2="51.95" stroke="#666" stroke-width="0.55"/>
<text x="571.09" y="46.45" font-family="Liberation Serif" font-size="6.2" text-anchor="middle" fill="#333">η2</text>
<path d=" M587.32,48.85 C589.92,47.65 590.62,50.05 588.82,50.45 L587.52,51.15 L590.52,51.15 M591.18,48.85 C593.78,47.65 594.48,50.05 592.68,50.45 L591.38,51.15 L594.38,51.15 M595.04,48.85 C597.64,47.65 598.34,50.05 596.54,50.45 L595.24,51.15 L598.24,51.15 M598.90,48.85 C601.50,47.65 602.20,50.05 600.40,50.45 L599.10,51.15 L602.10,51.15 M602.76,48.85 C605.36,47.65 606.06,50.05 604.26,50.45 L602.96,51.15 L605.96,51.15 M606.62,48.85 C609.22,47.65 609.92,50.05 608.12,50.45 L606.82,51.15 L609.82,51.15 M610.48,48.85 C613.08,47.65 613.78,50.05 611.98,50.45 L610.68,51.15 L613.68,51.15 M614.34,48.85 C616.94,47.65 617.64,50.05 615.84,50.45 L614.54,51.15 L617.54,51.15 M618.20,48.85 C620.80,47.65 621.50,50.05 619.70,50.45 L618.40,51.15 L621.40,51.15 M622.06,48.85 C624.66,47.65 625.36,50.05 623.56,50.45 L622.26,51.15 L625.26,51.15 M625.92,48.85 C628.52,47.65 629.22,50.05 627.42,50.45 L626.12,51.15 L629.12,51.15 M629.78,48.85 C632.38,47.65 633.08,50.05 631.28,50.45 L629.98,51.15 L632.98,51.15 M633.64,48.85 C636.24,47.65 636.94,50.05 635.14,50.45 L633.84,51.15 L636.84,51.15 M637.50,48.85 C640.10,47.65 640.80,50.05 639.00,50.45 L637.70,51.15 L640.70,51.15 M641.36,48.85 C643.96,47.65 644.66,50.05 642.86,50.45 L641.56,51.15 L644.56,51.15 M645.22,48.85 C647.82,47.65 648.52,50.05 646.72,50.45 L645.42,51.15 L648.42,51.15 M649.08,48.85 C651.68,47.65 652.38,50.05 650.58,50.45 L649.28,51.15 L652.28,51.15 M652.94,48.85 C655.54,47.65 656.24,50.05 654.44,50.45 L653.14,51.15 L656.14,51.15 M656.80,48.85 C659.40,47.65 660.10,50.05 658.30,50.45 L657.00,51.15 L660.00,51.15 M660.66,48.85 C663.26,47.65 663.96,50.05 662.16,50.45 L660.86,51.15 L663.86,51.15 M664.52,48.85 C667.12,47.65 667.82,50.05 666.02,50.45 L664.72,51.15 L667.72,51.15" fill="none" stroke="#666" stroke-width="0.5"/>
<line x1="586.92" y1="51.95" x2="667.98" y2="51.95" stroke="#666" stroke-width="0.55"/>
<text x="629.77" y="46.45" font-family="Liberation Serif" font-size="6.2" text-anchor="middle" fill="#333">α6</text>
<path d=" M672.24,48.85 C674.84,47.65 675.54,50.05 673.74,50.45 L672.44,51.15 L675.44,51.15" fill="none" stroke="#666" stroke-width="0.5"/>
<line x1="671.84" y1="51.95" x2="675.70" y2="51.95" stroke="#666" stroke-width="0.55"/>
<line x1="474.98" y1="50.45" x2="495.14" y2="50.45" stroke="#000" stroke-width="1.3"/>
<polygon points="498.14,50.45 494.74,48.15 494.74,52.75" fill="#000"/>
<text x="486.17" y="46.45" font-family="Liberation Serif" font-size="6.2" text-anchor="middle" fill="#333">β3</text>
<line x1="517.44" y1="50.45" x2="531.81" y2="50.45" stroke="#000" stroke-width="1.3"/>
<polygon points="534.81,50.45 531.41,48.15 531.41,52.75" fill="#000"/>
<text x="524.39" y="46.45" font-family="Liberation Serif" font-size="6.2" text-anchor="middle" fill="#333">β4</text>
<text x="424.2" y="98.90" font-family="Liberation Serif" font-size="5.6" font-weight="bold" fill="#333" textLength="10" lengthAdjust="spacingAndGlyphs">PXR</text>
<text x="424.2" y="104.50" font-family="Liberation Serif" font-size="5.6" font-weight="bold" fill="#333" textLength="10" lengthAdjust="spacingAndGlyphs">CAR</text>
<rect x="447.96" y="94.10" width="3.91" height="11.3" fill="#f00018"/>
<rect x="451.82" y="94.10" width="3.91" height="11.3" fill="#f00018"/>
<rect x="447.96" y="94.10" width="7.72" height="11.3" fill="none" stroke="#7b62d8" stroke-width="0.55"/>
<rect x="459.54" y="94.10" width="3.91" height="11.3" fill="#f00018"/>
<rect x="463.40" y="94.10" width="3.91" height="11.3" fill="#f00018"/>
<rect x="467.26" y="94.10" width="3.91" height="11.3" fill="#f00018"/>
<rect x="471.12" y="94.10" width="3.91" height="11.3" fill="#f00018"/>
<rect x="474.98" y="94.10" width="3.91" height="11.3" fill="#f00018"/>
<rect x="478.84" y="94.10" width="3.91" height="11.3" fill="#f00018"/>
<rect x="482.70" y="94.10" width="3.91" height="11.3" fill="#f00018"/>
<rect x="486.56" y="94.10" width="3.91" height="11.3" fill="#f00018"/>
<rect x="490.42" y="94.10" width="3.91" height="11.3" fill="#f00018"/>
<rect x="494.28" y="94.10" width="3.91" height="11.3" fill="#f00018"/>
<rect x="498.14" y="94.10" width="3.91" height="11.3" fill="#f00018"/>
<rect x="502.00" y="94.10" width="3.91" height="11.3" fill="#f00018"/>
<rect x="505.86" y="94.10" width="3.91" height="11.3" fill="#f00018"/>
<rect x="509.72" y="94.10" width="3.91" height="11.3" fill="#f00018"/>
<rect x="513.58" y="94.10" width="3.91" height="11.3" fill="#f00018"/>
<rect x="517.44" y="94.10" width="3.91" height="11.3" fill="#ffff1a"/>
<rect x="521.30" y="94.10" width="3.91" height="11.3" fill="#f00018"/>
<rect x="525.16" y="94.10" width="3.91" height="11.3" fill="#f00018"/>
<rect x="459.54" y="94.10" width="69.48" height="11.3" fill="none" stroke="#7b62d8" stroke-width="0.55"/>
<rect x="532.88" y="94.10" width="3.91" height="11.3" fill="#ffff1a"/>
<rect x="532.88" y="94.10" width="3.86" height="11.3" fill="none" stroke="#7b62d8" stroke-width="0.55"/>
<rect x="544.46" y="94.10" width="3.91" height="11.3" fill="#f00018"/>
<rect x="548.32" y="94.10" width="3.91" height="11.3" fill="#f00018"/>
<rect x="544.46" y="94.10" width="7.72" height="11.3" fill="none" stroke="#7b62d8" stroke-width="0.55"/>
<rect x="556.04" y="94.10" width="3.91" height="11.3" fill="#f00018"/>
<rect x="556.04" y="94.10" width="3.86" height="11.3" fill="none" stroke="#7b62d8" stroke-width="0.55"/>
<rect x="563.76" y="94.10" width="3.91" height="11.3" fill="#ffff1a"/>
<rect x="563.76" y="94.10" width="3.86" height="11.3" fill="none" stroke="#7b62d8" stroke-width="0.55"/>
<rect x="571.48" y="94.10" width="3.91" height="11.3" fill="#f00018"/>
<rect x="571.48" y="94.10" width="3.86" height="11.3" fill="none" stroke="#7b62d8" stroke-width="0.55"/>
<rect x="579.20" y="94.10" width="3.91" height="11.3" fill="#ffff1a"/>
<rect x="583.06" y="94.10" width="3.91" height="11.3" fill="#ffff1a"/>
<rect x="579.20" y="94.10" width="7.72" height="11.3" fill="none" stroke="#7b62d8" stroke-width="0.55"/>
<rect x="590.78" y="94.10" width="3.91" height="11.3" fill="#f00018"/>
<rect x="594.64" y="94.10" width="3.91" height="11.3" fill="#f00018"/>
<rect x="590.78" y="94.10" width="7.72" height="11.3" fill="none" stroke="#7b62d8" stroke-width="0.55"/>
<rect x="602.36" y="94.10" width="3.91" height="11.3" fill="#f00018"/>
<rect x="602.36" y="94.10" width="3.86" height="11.3" fill="none" stroke="#7b62d8" stroke-width="0.55"/>
<rect x="610.08" y="94.10" width="3.91" height="11.3" fill="#f00018"/>
<rect x="610.08" y="94.10" width="3.86" height="11.3" fill="none" stroke="#7b62d8" stroke-width="0.55"/>
<rect x="617.80" y="94.10" width="3.91" height="11.3" fill="#ffff1a"/>
<rect x="621.66" y="94.10" width="3.91" height="11.3" fill="#f00018"/>
<rect x="625.52" y="94.10" width="3.91" height="11.3" fill="#f00018"/>
<rect x="617.80" y="94.10" width="11.58" height="11.3" fill="none" stroke="#7b62d8" stroke-width="0.55"/>
<rect x="633.24" y="94.10" width="3.91" height="11.3" fill="#f00018"/>
<rect x="633.24" y="94.10" width="3.86" height="11.3" fill="none" stroke="#7b62d8" stroke-width="0.55"/>
<rect x="644.82" y="94.10" width="3.91" height="11.3" fill="#f00018"/>
<rect x="648.68" y="94.10" width="3.91" height="11.3" fill="#f00018"/>
<rect x="652.54" y="94.10" width="3.91" height="11.3" fill="#f00018"/>
<rect x="644.82" y="94.10" width="11.58" height="11.3" fill="none" stroke="#7b62d8" stroke-width="0.55"/>
<rect x="667.98" y="94.10" width="3.91" height="11.3" fill="#f00018"/>
<rect x="671.84" y="94.10" width="3.91" height="11.3" fill="#f00018"/>
<rect x="667.98" y="94.10" width="7.72" height="11.3" fill="none" stroke="#7b62d8" stroke-width="0.55"/>
<text x="446.03" y="99.00" font-family="Liberation Mono" font-size="5.7" font-weight="bold" text-anchor="middle" fill="#3a3a3a">Y</text>
<text x="449.89" y="99.00" font-family="Liberation Mono" font-size="5.7" font-weight="bold" text-anchor="middle" fill="#fff">F</text>
<text x="453.75" y="99.00" font-family="Liberation Mono" font-size="5.7" font-weight="bold" text-anchor="middle" fill="#fff">E</text>
<text x="457.61" y="99.00" font-family="Liberation Mono" font-size="5.7" font-weight="bold" text-anchor="middle" fill="#3a3a3a">Q</text>
<text x="461.47" y="99.00" font-family="Liberation Mono" font-size="5.7" font-weight="bold" text-anchor="middle" fill="#fff">L</text>
<text x="465.33" y="99.00" font-family="Liberation Mono" font-size="5.7" font-weight="bold" text-anchor="middle" fill="#fff">P</text>
<text x="469.19" y="99.00" font-family="Liberation Mono" font-size="5.7" font-weight="bold" text-anchor="middle" fill="#fff">I</text>
<text x="473.05" y="99.00" font-family="Liberation Mono" font-size="5.7" font-weight="bold" text-anchor="middle" fill="#fff">E</text>
<text x="476.91" y="99.00" font-family="Liberation Mono" font-size="5.7" font-weight="bold" text-anchor="middle" fill="#fff">D</text>
<text x="480.77" y="99.00" font-family="Liberation Mono" font-size="5.7" font-weight="bold" text-anchor="middle" fill="#fff">Q</text>
<text x="484.63" y="99.00" font-family="Liberation Mono" font-size="5.7" font-weight="bold" text-anchor="middle" fill="#fff">I</text>
<text x="488.49" y="99.00" font-family="Liberation Mono" font-size="5.7" font-weight="bold" text-anchor="middle" fill="#fff">S</text>
<text x="492.35" y="99.00" font-family="Liberation Mono" font-size="5.7" font-weight="bold" text-anchor="middle" fill="#fff">L</text>
<text x="496.21" y="99.00" font-family="Liberation Mono" font-size="5.7" font-weight="bold" text-anchor="middle" fill="#fff">L</text>
<text x="500.07" y="99.00" font-family="Liberation Mono" font-size="5.7" font-weight="bold" text-anchor="middle" fill="#fff">K</text>
<text x="503.93" y="99.00" font-family="Liberation Mono" font-size="5.7" font-weight="bold" text-anchor="middle" fill="#fff">G</text>
<text x="507.79" y="99.00" font-family="Liberation Mono" font-size="5.7" font-weight="bold" text-anchor="middle" fill="#fff">A</text>
<text x="511.65" y="99.00" font-family="Liberation Mono" font-size="5.7" font-weight="bold" text-anchor="middle" fill="#fff">A</text>
<text x="515.51" y="99.00" font-family="Liberation Mono" font-size="5.7" font-weight="bold" text-anchor="middle" fill="#fff">F</text>
<text x="519.37" y="99.00" font-family="Liberation Mono" font-size="5.7" font-weight="bold" text-anchor="middle" fill="#111">E</text>
<text x="523.23" y="99.00" font-family="Liberation Mono" font-size="5.7" font-weight="bold" text-anchor="middle" fill="#fff">L</text>
<text x="527.09" y="99.00" font-family="Liberation Mono" font-size="5.7" font-weight="bold" text-anchor="middle" fill="#fff">C</text>
<text x="530.95" y="99.00" font-family="Liberation Mono" font-size="5.7" font-weight="bold" text-anchor="middle" fill="#3a3a3a">Q</text>
<text x="534.81" y="99.00" font-family="Liberation Mono" font-size="5.7" font-weight="bold" text-anchor="middle" fill="#111">L</text>
<text x="538.67" y="99.00" font-family="Liberation Mono" font-size="5.7" font-weight="bold" text-anchor="middle" fill="#3a3a3a">R</text>
<text x="542.53" y="99.00" font-family="Liberation Mono" font-size="5.7" font-weight="bold" text-anchor="middle" fill="#3a3a3a">F</text>
<text x="546.39" y="99.00" font-family="Liberation Mono" font-size="5.7" font-weight="bold" text-anchor="middle" fill="#fff">N</text>
<text x="550.25" y="99.00" font-family="Liberation Mono" font-size="5.7" font-weight="bold" text-anchor="middle" fill="#fff">T</text>
<text x="554.11" y="99.00" font-family="Liberation Mono" font-size="5.7" font-weight="bold" text-anchor="middle" fill="#3a3a3a">V</text>
<text x="557.97" y="99.00" font-family="Liberation Mono" font-size="5.7" font-weight="bold" text-anchor="middle" fill="#fff">F</text>
<text x="561.83" y="99.00" font-family="Liberation Mono" font-size="5.7" font-weight="bold" text-anchor="middle" fill="#3a3a3a">N</text>
<text x="565.69" y="99.00" font-family="Liberation Mono" font-size="5.7" font-weight="bold" text-anchor="middle" fill="#111">A</text>
<text x="569.55" y="99.00" font-family="Liberation Mono" font-size="5.7" font-weight="bold" text-anchor="middle" fill="#3a3a3a">E</text>
<text x="573.41" y="99.00" font-family="Liberation Mono" font-size="5.7" font-weight="bold" text-anchor="middle" fill="#fff">T</text>
<text x="577.27" y="99.00" font-family="Liberation Mono" font-size="5.7" font-weight="bold" text-anchor="middle" fill="#3a3a3a">G</text>
<text x="581.13" y="99.00" font-family="Liberation Mono" font-size="5.7" font-weight="bold" text-anchor="middle" fill="#111">T</text>
<text x="584.99" y="99.00" font-family="Liberation Mono" font-size="5.7" font-weight="bold" text-anchor="middle" fill="#111">W</text>
<text x="588.85" y="99.00" font-family="Liberation Mono" font-size="5.7" font-weight="bold" text-anchor="middle" fill="#3a3a3a">E</text>
<text x="592.71" y="99.00" font-family="Liberation Mono" font-size="5.7" font-weight="bold" text-anchor="middle" fill="#fff">C</text>
<text x="596.57" y="99.00" font-family="Liberation Mono" font-size="5.7" font-weight="bold" text-anchor="middle" fill="#fff">G</text>
<text x="600.43" y="99.00" font-family="Liberation Mono" font-size="5.7" font-weight="bold" text-anchor="middle" fill="#3a3a3a">R</text>
<text x="604.29" y="99.00" font-family="Liberation Mono" font-size="5.7" font-weight="bold" text-anchor="middle" fill="#fff">L</text>
<text x="608.15" y="99.00" font-family="Liberation Mono" font-size="5.7" font-weight="bold" text-anchor="middle" fill="#3a3a3a">S</text>
<text x="612.01" y="99.00" font-family="Liberation Mono" font-size="5.7" font-weight="bold" text-anchor="middle" fill="#fff">Y</text>
<text x="615.87" y="99.00" font-family="Liberation Mono" font-size="5.7" font-weight="bold" text-anchor="middle" fill="#3a3a3a">C</text>
<text x="619.73" y="99.00" font-family="Liberation Mono" font-size="5.7" font-weight="bold" text-anchor="middle" fill="#111">L</text>
<text x="623.59" y="99.00" font-family="Liberation Mono" font-size="5.7" font-weight="bold" text-anchor="middle" fill="#fff">E</text>
<text x="627.45" y="99.00" font-family="Liberation Mono" font-size="5.7" font-weight="bold" text-anchor="middle" fill="#fff">D</text>
<text x="631.31" y="99.00" font-family="Liberation Mono" font-size="5.7" font-weight="bold" text-anchor="middle" fill="#3a3a3a">T</text>
<text x="635.17" y="99.00" font-family="Liberation Mono" font-size="5.7" font-weight="bold" text-anchor="middle" fill="#fff">A</text>
<text x="639.03" y="99.00" font-family="Liberation Mono" font-size="5.7" font-weight="bold" text-anchor="middle" fill="#3a3a3a">G</text>
<text x="642.89" y="99.00" font-family="Liberation Mono" font-size="5.7" font-weight="bold" text-anchor="middle" fill="#3a3a3a">G</text>
<text x="646.75" y="99.00" font-family="Liberation Mono" font-size="5.7" font-weight="bold" text-anchor="middle" fill="#fff">F</text>
<text x="650.61" y="99.00" font-family="Liberation Mono" font-size="5.7" font-weight="bold" text-anchor="middle" fill="#fff">Q</text>
<text x="654.47" y="99.00" font-family="Liberation Mono" font-size="5.7" font-weight="bold" text-anchor="middle" fill="#fff">Q</text>
<text x="658.33" y="99.00" font-family="Liberation Mono" font-size="5.7" font-weight="bold" text-anchor="middle" fill="#3a3a3a">L</text>
<text x="662.19" y="99.00" font-family="Liberation Mono" font-size="5.7" font-weight="bold" text-anchor="middle" fill="#3a3a3a">L</text>
<text x="666.05" y="99.00" font-family="Liberation Mono" font-size="5.7" font-weight="bold" text-anchor="middle" fill="#3a3a3a">L</text>
<text x="669.91" y="99.00" font-family="Liberation Mono" font-size="5.7" font-weight="bold" text-anchor="middle" fill="#fff">E</text>
<text x="673.77" y="99.00" font-family="Liberation Mono" font-size="5.7" font-weight="bold" text-anchor="middle" fill="#fff">P</text>
<text x="446.03" y="104.60" font-family="Liberation Mono" font-size="5.7" font-weight="bold" text-anchor="middle" fill="#3a3a3a">V</text>
<text x="449.89" y="104.60" font-family="Liberation Mono" font-size="5.7" font-weight="bold" text-anchor="middle" fill="#fff">F</text>
<text x="453.75" y="104.60" font-family="Liberation Mono" font-size="5.7" font-weight="bold" text-anchor="middle" fill="#fff">E</text>
<text x="457.61" y="104.60" font-family="Liberation Mono" font-size="5.7" font-weight="bold" text-anchor="middle" fill="#3a3a3a">Q</text>
<text x="461.47" y="104.60" font-family="Liberation Mono" font-size="5.7" font-weight="bold" text-anchor="middle" fill="#fff">L</text>
<text x="465.33" y="104.60" font-family="Liberation Mono" font-size="5.7" font-weight="bold" text-anchor="middle" fill="#fff">P</text>
<text x="469.19" y="104.60" font-family="Liberation Mono" font-size="5.7" font-weight="bold" text-anchor="middle" fill="#fff">I</text>
<text x="473.05" y="104.60" font-family="Liberation Mono" font-size="5.7" font-weight="bold" text-anchor="middle" fill="#fff">E</text>
<text x="476.91" y="104.60" font-family="Liberation Mono" font-size="5.7" font-weight="bold" text-anchor="middle" fill="#fff">D</text>
<text x="480.77" y="104.60" font-family="Liberation Mono" font-size="5.7" font-weight="bold" text-anchor="middle" fill="#fff">Q</text>
<text x="484.63" y="104.60" font-family="Liberation Mono" font-size="5.7" font-weight="bold" text-anchor="middle" fill="#fff">I</text>
<text x="488.49" y="104.60" font-family="Liberation Mono" font-size="5.7" font-weight="bold" text-anchor="middle" fill="#fff">S</text>
<text x="492.35" y="104.60" font-family="Liberation Mono" font-size="5.7" font-weight="bold" text-anchor="middle" fill="#fff">L</text>
<text x="496.21" y="104.60" font-family="Liberation Mono" font-size="5.7" font-weight="bold" text-anchor="middle" fill="#fff">L</text>
<text x="500.07" y="104.60" font-family="Liberation Mono" font-size="5.7" font-weight="bold" text-anchor="middle" fill="#fff">K</text>
<text x="503.93" y="104.60" font-family="Liberation Mono" font-size="5.7" font-weight="bold" text-anchor="middle" fill="#fff">G</text>
<text x="507.79" y="104.60" font-family="Liberation Mono" font-size="5.7" font-weight="bold" text-anchor="middle" fill="#fff">A</text>
<text x="511.65" y="104.60" font-family="Liberation Mono" font-size="5.7" font-weight="bold" text-anchor="middle" fill="#fff">A</text>
<text x="515.51" y="104.60" font-family="Liberation Mono" font-size="5.7" font-weight="bold" text-anchor="middle" fill="#fff">F</text>
<text x="519.37" y="104.60" font-family="Liberation Mono" font-size="5.7" font-weight="bold" text-anchor="middle" fill="#111">E</text>
<text x="523.23" y="104.60" font-family="Liberation Mono" font-size="5.7" font-weight="bold" text-anchor="middle" fill="#fff">L</text>
<text x="527.09" y="104.60" font-family="Liberation Mono" font-size="5.7" font-weight="bold" text-anchor="middle" fill="#fff">C</text>
<text x="530.95" y="104.60" font-family="Liberation Mono" font-size="5.7" font-weight="bold" text-anchor="middle" fill="#3a3a3a">Q</text>
<text x="534.81" y="104.60" font-family="Liberation Mono" font-size="5.7" font-weight="bold" text-anchor="middle" fill="#111">L</text>
<text x="538.67" y="104.60" font-family="Liberation Mono" font-size="5.7" font-weight="bold" text-anchor="middle" fill="#3a3a3a">R</text>
<text x="542.53" y="104.60" font-family="Liberation Mono" font-size="5.7" font-weight="bold" text-anchor="middle" fill="#3a3a3a">F</text>
<text x="546.39" y="104.60" font-family="Liberation Mono" font-size="5.7" font-weight="bold" text-anchor="middle" fill="#fff">N</text>
<text x="550.25" y="104.60" font-family="Liberation Mono" font-size="5.7" font-weight="bold" text-anchor="middle" fill="#fff">T</text>
<text x="554.11" y="104.60" font-family="Liberation Mono" font-size="5.7" font-weight="bold" text-anchor="middle" fill="#3a3a3a">V</text>
<text x="557.97" y="104.60" font-family="Liberation Mono" font-size="5.7" font-weight="bold" text-anchor="middle" fill="#fff">F</text>
<text x="561.83" y="104.60" font-family="Liberation Mono" font-size="5.7" font-weight="bold" text-anchor="middle" fill="#3a3a3a">N</text>
<text x="565.69" y="104.60" font-family="Liberation Mono" font-size="5.7" font-weight="bold" text-anchor="middle" fill="#111">A</text>
<text x="569.55" y="104.60" font-family="Liberation Mono" font-size="5.7" font-weight="bold" text-anchor="middle" fill="#3a3a3a">E</text>
<text x="573.41" y="104.60" font-family="Liberation Mono" font-size="5.7" font-weight="bold" text-anchor="middle" fill="#fff">T</text>
<text x="577.27" y="104.60" font-family="Liberation Mono" font-size="5.7" font-weight="bold" text-anchor="middle" fill="#3a3a3a">G</text>
<text x="581.13" y="104.60" font-family="Liberation Mono" font-size="5.7" font-weight="bold" text-anchor="middle" fill="#111">T</text>
<text x="584.99" y="104.60" font-family="Liberation Mono" font-size="5.7" font-weight="bold" text-anchor="middle" fill="#111">W</text>
<text x="588.85" y="104.60" font-family="Liberation Mono" font-size="5.7" font-weight="bold" text-anchor="middle" fill="#3a3a3a">E</text>
<text x="592.71" y="104.60" font-family="Liberation Mono" font-size="5.7" font-weight="bold" text-anchor="middle" fill="#fff">C</text>
<text x="596.57" y="104.60" font-family="Liberation Mono" font-size="5.7" font-weight="bold" text-anchor="middle" fill="#fff">G</text>
<text x="600.43" y="104.60" font-family="Liberation Mono" font-size="5.7" font-weight="bold" text-anchor="middle" fill="#3a3a3a">R</text>
<text x="604.29" y="104.60" font-family="Liberation Mono" font-size="5.7" font-weight="bold" text-anchor="middle" fill="#fff">L</text>
<text x="608.15" y="104.60" font-family="Liberation Mono" font-size="5.7" font-weight="bold" text-anchor="middle" fill="#3a3a3a">S</text>
<text x="612.01" y="104.60" font-family="Liberation Mono" font-size="5.7" font-weight="bold" text-anchor="middle" fill="#fff">Y</text>
<text x="615.87" y="104.60" font-family="Liberation Mono" font-size="5.7" font-weight="bold" text-anchor="middle" fill="#3a3a3a">C</text>
<text x="619.73" y="104.60" font-family="Liberation Mono" font-size="5.7" font-weight="bold" text-anchor="middle" fill="#111">L</text>
<text x="623.59" y="104.60" font-family="Liberation Mono" font-size="5.7" font-weight="bold" text-anchor="middle" fill="#fff">E</text>
<text x="627.45" y="104.60" font-family="Liberation Mono" font-size="5.7" font-weight="bold" text-anchor="middle" fill="#fff">D</text>
<text x="631.31" y="104.60" font-family="Liberation Mono" font-size="5.7" font-weight="bold" text-anchor="middle" fill="#3a3a3a">T</text>
<text x="635.17" y="104.60" font-family="Liberation Mono" font-size="5.7" font-weight="bold" text-anchor="middle" fill="#fff">A</text>
<text x="639.03" y="104.60" font-family="Liberation Mono" font-size="5.7" font-weight="bold" text-anchor="middle" fill="#3a3a3a">G</text>
<text x="642.89" y="104.60" font-family="Liberation Mono" font-size="5.7" font-weight="bold" text-anchor="middle" fill="#3a3a3a">G</text>
<text x="646.75" y="104.60" font-family="Liberation Mono" font-size="5.7" font-weight="bold" text-anchor="middle" fill="#fff">F</text>
<text x="650.61" y="104.60" font-family="Liberation Mono" font-size="5.7" font-weight="bold" text-anchor="middle" fill="#fff">Q</text>
<text x="654.47" y="104.60" font-family="Liberation Mono" font-size="5.7" font-weight="bold" text-anchor="middle" fill="#fff">Q</text>
<text x="658.33" y="104.60" font-family="Liberation Mono" font-size="5.7" font-weight="bold" text-anchor="middle" fill="#3a3a3a">L</text>
<text x="662.19" y="104.60" font-family="Liberation Mono" font-size="5.7" font-weight="bold" text-anchor="middle" fill="#3a3a3a">L</text>
<text x="666.05" y="104.60" font-family="Liberation Mono" font-size="5.7" font-weight="bold" text-anchor="middle" fill="#3a3a3a">L</text>
<text x="669.91" y="104.60" font-family="Liberation Mono" font-size="5.7" font-weight="bold" text-anchor="middle" fill="#fff">E</text>
<text x="673.77" y="104.60" font-family="Liberation Mono" font-size="5.7" font-weight="bold" text-anchor="middle" fill="#fff">P</text>
<text x="475.65" y="90.40" font-family="Liberation Serif" font-size="4.8" font-weight="bold" text-anchor="end" fill="#222" letter-spacing="1.6">270</text>
<circle cx="473.05" cy="92.10" r="0.35" fill="#888"/>
<text x="514.25" y="90.40" font-family="Liberation Serif" font-size="4.8" font-weight="bold" text-anchor="end" fill="#222" letter-spacing="1.6">280</text>
<circle cx="511.65" cy="92.10" r="0.35" fill="#888"/>
<text x="552.85" y="90.40" font-family="Liberation Serif" font-size="4.8" font-weight="bold" text-anchor="end" fill="#222" letter-spacing="1.6">290</text>
<circle cx="550.25" cy="92.10" r="0.35" fill="#888"/>
<text x="591.45" y="90.40" font-family="Liberation Serif" font-size="4.8" font-weight="bold" text-anchor="end" fill="#222" letter-spacing="1.6">300</text>
<circle cx="588.85" cy="92.10" r="0.35" fill="#888"/>
<text x="630.05" y="90.40" font-family="Liberation Serif" font-size="4.8" font-weight="bold" text-anchor="end" fill="#222" letter-spacing="1.6">310</text>
<circle cx="627.45" cy="92.10" r="0.35" fill="#888"/>
<text x="668.65" y="90.40" font-family="Liberation Serif" font-size="4.8" font-weight="bold" text-anchor="end" fill="#222" letter-spacing="1.6">320</text>
<circle cx="666.05" cy="92.10" r="0.35" fill="#888"/>
<path d=" M444.50,82.90 C447.10,81.70 447.80,84.10 446.00,84.50 L444.70,85.20 L447.70,85.20 M448.36,82.90 C450.96,81.70 451.66,84.10 449.86,84.50 L448.56,85.20 L451.56,85.20 M452.22,82.90 C454.82,81.70 455.52,84.10 453.72,84.50 L452.42,85.20 L455.42,85.20 M456.08,82.90 C458.68,81.70 459.38,84.10 457.58,84.50 L456.28,85.20 L459.28,85.20" fill="none" stroke="#666" stroke-width="0.5"/>
<line x1="444.10" y1="86.00" x2="459.54" y2="86.00" stroke="#666" stroke-width="0.55"/>
<text x="447.57" y="80.50" font-family="Liberation Serif" font-size="6.2" text-anchor="middle" fill="#333">α7</text>
<path d=" M467.66,82.90 C470.26,81.70 470.96,84.10 469.16,84.50 L467.86,85.20 L470.86,85.20 M471.52,82.90 C474.12,81.70 474.82,84.10 473.02,84.50 L471.72,85.20 L474.72,85.20 M475.38,82.90 C477.98,81.70 478.68,84.10 476.88,84.50 L475.58,85.20 L478.58,85.20 M479.24,82.90 C481.84,81.70 482.54,84.10 480.74,84.50 L479.44,85.20 L482.44,85.20 M483.10,82.90 C485.70,81.70 486.40,84.10 484.60,84.50 L483.30,85.20 L486.30,85.20 M486.96,82.90 C489.56,81.70 490.26,84.10 488.46,84.50 L487.16,85.20 L490.16,85.20 M490.82,82.90 C493.42,81.70 494.12,84.10 492.32,84.50 L491.02,85.20 L494.02,85.20 M494.68,82.90 C497.28,81.70 497.98,84.10 496.18,84.50 L494.88,85.20 L497.88,85.20 M498.54,82.90 C501.14,81.70 501.84,84.10 500.04,84.50 L498.74,85.20 L501.74,85.20 M502.40,82.90 C505.00,81.70 505.70,84.10 503.90,84.50 L502.60,85.20 L505.60,85.20 M506.26,82.90 C508.86,81.70 509.56,84.10 507.76,84.50 L506.46,85.20 L509.46,85.20 M510.12,82.90 C512.72,81.70 513.42,84.10 511.62,84.50 L510.32,85.20 L513.32,85.20 M513.98,82.90 C516.58,81.70 517.28,84.10 515.48,84.50 L514.18,85.20 L517.18,85.20 M517.84,82.90 C520.44,81.70 521.14,84.10 519.34,84.50 L518.04,85.20 L521.04,85.20 M521.70,82.90 C524.30,81.70 525.00,84.10 523.20,84.50 L521.90,85.20 L524.90,85.20 M525.56,82.90 C528.16,81.70 528.86,84.10 527.06,84.50 L525.76,85.20 L528.76,85.20 M529.42,82.90 C532.02,81.70 532.72,84.10 530.92,84.50 L529.62,85.20 L532.62,85.20 M533.28,82.90 C535.88,81.70 536.58,84.10 534.78,84.50 L533.48,85.20 L536.48,85.20 M537.14,82.90 C539.74,81.70 540.44,84.10 538.64,84.50 L537.34,85.20 L540.34,85.20" fill="none" stroke="#666" stroke-width="0.5"/>
<line x1="467.26" y1="86.00" x2="540.60" y2="86.00" stroke="#666" stroke-width="0.55"/>
<text x="508.95" y="80.50" font-family="Liberation Serif" font-size="6.2" text-anchor="middle" fill="#333">α8</text>
<path d=" M645.22,82.90 C647.82,81.70 648.52,84.10 646.72,84.50 L645.42,85.20 L648.42,85.20 M649.08,82.90 C651.68,81.70 652.38,84.10 650.58,84.50 L649.28,85.20 L652.28,85.20 M652.94,82.90 C655.54,81.70 656.24,84.10 654.44,84.50 L653.14,85.20 L656.14,85.20 M656.80,82.90 C659.40,81.70 660.10,84.10 658.30,84.50 L657.00,85.20 L660.00,85.20 M660.66,82.90 C663.26,81.70 663.96,84.10 662.16,84.50 L660.86,85.20 L663.86,85.20" fill="none" stroke="#666" stroke-width="0.5"/>
<line x1="644.82" y1="86.00" x2="664.12" y2="86.00" stroke="#666" stroke-width="0.55"/>
<text x="654.08" y="80.50" font-family="Liberation Serif" font-size="6.2" text-anchor="middle" fill="#333">α9</text>
<line x1="556.04" y1="84.50" x2="560.76" y2="84.50" stroke="#000" stroke-width="1.3"/>
<polygon points="563.76,84.50 560.36,82.20 560.36,86.80" fill="#000"/>
<text x="559.90" y="80.50" font-family="Liberation Serif" font-size="6.2" text-anchor="middle" fill="#333">β5</text>
<line x1="579.20" y1="84.50" x2="591.64" y2="84.50" stroke="#000" stroke-width="1.3"/>
<polygon points="594.64,84.50 591.24,82.20 591.24,86.80" fill="#000"/>
<text x="587.69" y="80.50" font-family="Liberation Serif" font-size="6.2" text-anchor="middle" fill="#333">β6</text>
<line x1="604.29" y1="84.50" x2="620.59" y2="84.50" stroke="#000" stroke-width="1.3"/>
<polygon points="623.59,84.50 620.19,82.20 620.19,86.80" fill="#000"/>
<text x="612.01" y="80.50" font-family="Liberation Serif" font-size="6.2" text-anchor="middle" fill="#333">β7</text>
<text x="424.2" y="132.95" font-family="Liberation Serif" font-size="5.6" font-weight="bold" fill="#333" textLength="10" lengthAdjust="spacingAndGlyphs">PXR</text>
<text x="424.2" y="138.55" font-family="Liberation Serif" font-size="5.6" font-weight="bold" fill="#333" textLength="10" lengthAdjust="spacingAndGlyphs">CAR</text>
<rect x="447.96" y="128.15" width="3.91" height="11.3" fill="#ffff1a"/>
<rect x="447.96" y="128.15" width="3.86" height="11.3" fill="none" stroke="#7b62d8" stroke-width="0.55"/>
<rect x="455.68" y="128.15" width="3.91" height="11.3" fill="#ffff1a"/>
<rect x="459.54" y="128.15" width="3.91" height="11.3" fill="#f00018"/>
<rect x="463.40" y="128.15" width="3.91" height="11.3" fill="#f00018"/>
<rect x="455.68" y="128.15" width="11.58" height="11.3" fill="none" stroke="#7b62d8" stroke-width="0.55"/>
<rect x="474.98" y="128.15" width="3.91" height="11.3" fill="#ffff1a"/>
<rect x="478.84" y="128.15" width="3.91" height="11.3" fill="#f00018"/>
<rect x="482.70" y="128.15" width="3.91" height="11.3" fill="#f00018"/>
<rect x="486.56" y="128.15" width="3.91" height="11.3" fill="#f00018"/>
<rect x="490.42" y="128.15" width="3.91" height="11.3" fill="#f00018"/>
<rect x="494.28" y="128.15" width="3.91" height="11.3" fill="#f00018"/>
<rect x="474.98" y="128.15" width="23.16" height="11.3" fill="none" stroke="#7b62d8" stroke-width="0.55"/>
<rect x="502.00" y="128.15" width="3.91" height="11.3" fill="#f00018"/>
<rect x="502.00" y="128.15" width="3.86" height="11.3" fill="none" stroke="#7b62d8" stroke-width="0.55"/>
<rect x="509.72" y="128.15" width="3.91" height="11.3" fill="#f00018"/>
<rect x="513.58" y="128.15" width="3.91" height="11.3" fill="#f00018"/>
<rect x="517.44" y="128.15" width="3.91" height="11.3" fill="#f00018"/>
<rect x="521.30" y="128.15" width="3.91" height="11.3" fill="#f00018"/>
<rect x="525.16" y="128.15" width="3.91" height="11.3" fill="#ffff1a"/>
<rect x="509.72" y="128.15" width="19.30" height="11.3" fill="none" stroke="#7b62d8" stroke-width="0.55"/>
<rect x="532.88" y="128.15" width="3.91" height="11.3" fill="#f00018"/>
<rect x="536.74" y="128.15" width="3.91" height="11.3" fill="#ffff1a"/>
<rect x="532.88" y="128.15" width="7.72" height="11.3" fill="none" stroke="#7b62d8" stroke-width="0.55"/>
<rect x="544.46" y="128.15" width="3.91" height="11.3" fill="#f00018"/>
<rect x="548.32" y="128.15" width="3.91" height="11.3" fill="#f00018"/>
<rect x="552.18" y="128.15" width="3.91" height="11.3" fill="#f00018"/>
<rect x="556.04" y="128.15" width="3.91" height="11.3" fill="#f00018"/>
<rect x="544.46" y="128.15" width="15.44" height="11.3" fill="none" stroke="#7b62d8" stroke-width="0.55"/>
<rect x="579.20" y="128.15" width="3.91" height="11.3" fill="#f00018"/>
<rect x="583.06" y="128.15" width="3.91" height="11.3" fill="#f00018"/>
<rect x="586.92" y="128.15" width="3.91" height="11.3" fill="#f00018"/>
<rect x="590.78" y="128.15" width="3.91" height="11.3" fill="#f00018"/>
<rect x="594.64" y="128.15" width="3.91" height="11.3" fill="#f00018"/>
<rect x="579.20" y="128.15" width="19.30" height="11.3" fill="none" stroke="#7b62d8" stroke-width="0.55"/>
<rect x="602.36" y="128.15" width="3.91" height="11.3" fill="#ffff1a"/>
<rect x="602.36" y="128.15" width="3.86" height="11.3" fill="none" stroke="#7b62d8" stroke-width="0.55"/>
<rect x="613.94" y="128.15" width="3.91" height="11.3" fill="#ffff1a"/>
<rect x="617.80" y="128.15" width="3.91" height="11.3" fill="#f00018"/>
<rect x="621.66" y="128.15" width="3.91" height="11.3" fill="#f00018"/>
<rect x="625.52" y="128.15" width="3.91" height="11.3" fill="#f00018"/>
<rect x="629.38" y="128.15" width="3.91" height="11.3" fill="#f00018"/>
<rect x="633.24" y="128.15" width="3.91" height="11.3" fill="#f00018"/>
<rect x="613.94" y="128.15" width="23.16" height="11.3" fill="none" stroke="#7b62d8" stroke-width="0.55"/>
<rect x="644.82" y="128.15" width="3.91" height="11.3" fill="#f00018"/>
<rect x="648.68" y="128.15" width="3.91" height="11.3" fill="#f00018"/>
<rect x="652.54" y="128.15" width="3.91" height="11.3" fill="#ffff1a"/>
<rect x="656.40" y="128.15" width="3.91" height="11.3" fill="#f00018"/>
<rect x="644.82" y="128.15" width="15.44" height="11.3" fill="none" stroke="#7b62d8" stroke-width="0.55"/>
<rect x="664.12" y="128.15" width="3.91" height="11.3" fill="#f00018"/>
<rect x="667.98" y="128.15" width="3.91" height="11.3" fill="#f00018"/>
<rect x="664.12" y="128.15" width="7.72" height="11.3" fill="none" stroke="#7b62d8" stroke-width="0.55"/>
<text x="446.03" y="133.05" font-family="Liberation Mono" font-size="5.7" font-weight="bold" text-anchor="middle" fill="#3a3a3a">T</text>
<text x="449.89" y="133.05" font-family="Liberation Mono" font-size="5.7" font-weight="bold" text-anchor="middle" fill="#111">M</text>
<text x="453.75" y="133.05" font-family="Liberation Mono" font-size="5.7" font-weight="bold" text-anchor="middle" fill="#3a3a3a">L</text>
<text x="457.61" y="133.05" font-family="Liberation Mono" font-size="5.7" font-weight="bold" text-anchor="middle" fill="#111">K</text>
<text x="461.47" y="133.05" font-family="Liberation Mono" font-size="5.7" font-weight="bold" text-anchor="middle" fill="#fff">F</text>
<text x="465.33" y="133.05" font-family="Liberation Mono" font-size="5.7" font-weight="bold" text-anchor="middle" fill="#fff">R</text>
<text x="469.19" y="133.05" font-family="Liberation Mono" font-size="5.7" font-weight="bold" text-anchor="middle" fill="#3a3a3a">S</text>
<text x="473.05" y="133.05" font-family="Liberation Mono" font-size="5.7" font-weight="bold" text-anchor="middle" fill="#3a3a3a">L</text>
<text x="476.91" y="133.05" font-family="Liberation Mono" font-size="5.7" font-weight="bold" text-anchor="middle" fill="#111">Y</text>
<text x="480.77" y="133.05" font-family="Liberation Mono" font-size="5.7" font-weight="bold" text-anchor="middle" fill="#fff">L</text>
<text x="484.63" y="133.05" font-family="Liberation Mono" font-size="5.7" font-weight="bold" text-anchor="middle" fill="#fff">K</text>
<text x="488.49" y="133.05" font-family="Liberation Mono" font-size="5.7" font-weight="bold" text-anchor="middle" fill="#fff">K</text>
<text x="492.35" y="133.05" font-family="Liberation Mono" font-size="5.7" font-weight="bold" text-anchor="middle" fill="#fff">L</text>
<text x="496.21" y="133.05" font-family="Liberation Mono" font-size="5.7" font-weight="bold" text-anchor="middle" fill="#fff">Q</text>
<text x="500.07" y="133.05" font-family="Liberation Mono" font-size="5.7" font-weight="bold" text-anchor="middle" fill="#3a3a3a">L</text>
<text x="503.93" y="133.05" font-family="Liberation Mono" font-size="5.7" font-weight="bold" text-anchor="middle" fill="#fff">H</text>
<text x="507.79" y="133.05" font-family="Liberation Mono" font-size="5.7" font-weight="bold" text-anchor="middle" fill="#3a3a3a">E</text>
<text x="511.65" y="133.05" font-family="Liberation Mono" font-size="5.7" font-weight="bold" text-anchor="middle" fill="#fff">F</text>
<text x="515.51" y="133.05" font-family="Liberation Mono" font-size="5.7" font-weight="bold" text-anchor="middle" fill="#fff">E</text>
<text x="519.37" y="133.05" font-family="Liberation Mono" font-size="5.7" font-weight="bold" text-anchor="middle" fill="#fff">K</text>
<text x="523.23" y="133.05" font-family="Liberation Mono" font-size="5.7" font-weight="bold" text-anchor="middle" fill="#fff">Y</text>
<text x="527.09" y="133.05" font-family="Liberation Mono" font-size="5.7" font-weight="bold" text-anchor="middle" fill="#111">V</text>
<text x="530.95" y="133.05" font-family="Liberation Mono" font-size="5.7" font-weight="bold" text-anchor="middle" fill="#3a3a3a">L</text>
<text x="534.81" y="133.05" font-family="Liberation Mono" font-size="5.7" font-weight="bold" text-anchor="middle" fill="#fff">M</text>
<text x="538.67" y="133.05" font-family="Liberation Mono" font-size="5.7" font-weight="bold" text-anchor="middle" fill="#111">K</text>
<text x="542.53" y="133.05" font-family="Liberation Mono" font-size="5.7" font-weight="bold" text-anchor="middle" fill="#3a3a3a">A</text>
<text x="546.39" y="133.05" font-family="Liberation Mono" font-size="5.7" font-weight="bold" text-anchor="middle" fill="#fff">I</text>
<text x="550.25" y="133.05" font-family="Liberation Mono" font-size="5.7" font-weight="bold" text-anchor="middle" fill="#fff">S</text>
<text x="554.11" y="133.05" font-family="Liberation Mono" font-size="5.7" font-weight="bold" text-anchor="middle" fill="#fff">L</text>
<text x="557.97" y="133.05" font-family="Liberation Mono" font-size="5.7" font-weight="bold" text-anchor="middle" fill="#fff">F</text>
<text x="561.83" y="133.05" font-family="Liberation Mono" font-size="5.7" font-weight="bold" text-anchor="middle" fill="#3a3a3a">S</text>
<text x="565.69" y="133.05" font-family="Liberation Mono" font-size="5.7" font-weight="bold" text-anchor="middle" fill="#3a3a3a">P</text>
<circle cx="569.55" cy="132.25" r="0.35" fill="#666"/>
<circle cx="573.41" cy="132.25" r="0.35" fill="#666"/>
<circle cx="577.27" cy="132.25" r="0.35" fill="#666"/>
<circle cx="581.13" cy="132.25" r="0.35" fill="#666"/>
<circle cx="584.99" cy="132.25" r="0.35" fill="#666"/>
<text x="588.85" y="133.05" font-family="Liberation Mono" font-size="5.7" font-weight="bold" text-anchor="middle" fill="#fff">D</text>
<text x="592.71" y="133.05" font-family="Liberation Mono" font-size="5.7" font-weight="bold" text-anchor="middle" fill="#fff">R</text>
<text x="596.57" y="133.05" font-family="Liberation Mono" font-size="5.7" font-weight="bold" text-anchor="middle" fill="#fff">P</text>
<text x="600.43" y="133.05" font-family="Liberation Mono" font-size="5.7" font-weight="bold" text-anchor="middle" fill="#3a3a3a">G</text>
<text x="604.29" y="133.05" font-family="Liberation Mono" font-size="5.7" font-weight="bold" text-anchor="middle" fill="#111">V</text>
<text x="608.15" y="133.05" font-family="Liberation Mono" font-size="5.7" font-weight="bold" text-anchor="middle" fill="#3a3a3a">T</text>
<text x="612.01" y="133.05" font-family="Liberation Mono" font-size="5.7" font-weight="bold" text-anchor="middle" fill="#3a3a3a">Q</text>
<text x="615.87" y="133.05" font-family="Liberation Mono" font-size="5.7" font-weight="bold" text-anchor="middle" fill="#111">M</text>
<text x="619.73" y="133.05" font-family="Liberation Mono" font-size="5.7" font-weight="bold" text-anchor="middle" fill="#fff">R</text>
<text x="623.59" y="133.05" font-family="Liberation Mono" font-size="5.7" font-weight="bold" text-anchor="middle" fill="#fff">V</text>
<text x="627.45" y="133.05" font-family="Liberation Mono" font-size="5.7" font-weight="bold" text-anchor="middle" fill="#fff">V</text>
<text x="631.31" y="133.05" font-family="Liberation Mono" font-size="5.7" font-weight="bold" text-anchor="middle" fill="#fff">D</text>
<text x="635.17" y="133.05" font-family="Liberation Mono" font-size="5.7" font-weight="bold" text-anchor="middle" fill="#fff">Q</text>
<text x="639.03" y="133.05" font-family="Liberation Mono" font-size="5.7" font-weight="bold" text-anchor="middle" fill="#3a3a3a">L</text>
<text x="642.89" y="133.05" font-family="Liberation Mono" font-size="5.7" font-weight="bold" text-anchor="middle" fill="#3a3a3a">Q</text>
<text x="646.75" y="133.05" font-family="Liberation Mono" font-size="5.7" font-weight="bold" text-anchor="middle" fill="#fff">E</text>
<text x="650.61" y="133.05" font-family="Liberation Mono" font-size="5.7" font-weight="bold" text-anchor="middle" fill="#fff">Q</text>
<text x="654.47" y="133.05" font-family="Liberation Mono" font-size="5.7" font-weight="bold" text-anchor="middle" fill="#111">F</text>
<text x="658.33" y="133.05" font-family="Liberation Mono" font-size="5.7" font-weight="bold" text-anchor="middle" fill="#fff">A</text>
<text x="662.19" y="133.05" font-family="Liberation Mono" font-size="5.7" font-weight="bold" text-anchor="middle" fill="#3a3a3a">I</text>
<text x="666.05" y="133.05" font-family="Liberation Mono" font-size="5.7" font-weight="bold" text-anchor="middle" fill="#fff">T</text>
<text x="669.91" y="133.05" font-family="Liberation Mono" font-size="5.7" font-weight="bold" text-anchor="middle" fill="#fff">L</text>
<text x="673.77" y="133.05" font-family="Liberation Mono" font-size="5.7" font-weight="bold" text-anchor="middle" fill="#3a3a3a">K</text>
<text x="446.03" y="138.65" font-family="Liberation Mono" font-size="5.7" font-weight="bold" text-anchor="middle" fill="#3a3a3a">L</text>
<text x="449.89" y="138.65" font-family="Liberation Mono" font-size="5.7" font-weight="bold" text-anchor="middle" fill="#111">L</text>
<text x="453.75" y="138.65" font-family="Liberation Mono" font-size="5.7" font-weight="bold" text-anchor="middle" fill="#3a3a3a">V</text>
<text x="457.61" y="138.65" font-family="Liberation Mono" font-size="5.7" font-weight="bold" text-anchor="middle" fill="#111">M</text>
<text x="461.47" y="138.65" font-family="Liberation Mono" font-size="5.7" font-weight="bold" text-anchor="middle" fill="#fff">F</text>
<text x="465.33" y="138.65" font-family="Liberation Mono" font-size="5.7" font-weight="bold" text-anchor="middle" fill="#fff">K</text>
<text x="469.19" y="138.65" font-family="Liberation Mono" font-size="5.7" font-weight="bold" text-anchor="middle" fill="#3a3a3a">S</text>
<text x="473.05" y="138.65" font-family="Liberation Mono" font-size="5.7" font-weight="bold" text-anchor="middle" fill="#3a3a3a">T</text>
<text x="476.91" y="138.65" font-family="Liberation Mono" font-size="5.7" font-weight="bold" text-anchor="middle" fill="#111">L</text>
<text x="480.77" y="138.65" font-family="Liberation Mono" font-size="5.7" font-weight="bold" text-anchor="middle" fill="#fff">L</text>
<text x="484.63" y="138.65" font-family="Liberation Mono" font-size="5.7" font-weight="bold" text-anchor="middle" fill="#fff">K</text>
<text x="488.49" y="138.65" font-family="Liberation Mono" font-size="5.7" font-weight="bold" text-anchor="middle" fill="#fff">Q</text>
<text x="492.35" y="138.65" font-family="Liberation Mono" font-size="5.7" font-weight="bold" text-anchor="middle" fill="#fff">L</text>
<text x="496.21" y="138.65" font-family="Liberation Mono" font-size="5.7" font-weight="bold" text-anchor="middle" fill="#fff">Q</text>
<text x="500.07" y="138.65" font-family="Liberation Mono" font-size="5.7" font-weight="bold" text-anchor="middle" fill="#3a3a3a">L</text>
<text x="503.93" y="138.65" font-family="Liberation Mono" font-size="5.7" font-weight="bold" text-anchor="middle" fill="#fff">E</text>
<text x="507.79" y="138.65" font-family="Liberation Mono" font-size="5.7" font-weight="bold" text-anchor="middle" fill="#3a3a3a">E</text>
<text x="511.65" y="138.65" font-family="Liberation Mono" font-size="5.7" font-weight="bold" text-anchor="middle" fill="#fff">R</text>
<text x="515.51" y="138.65" font-family="Liberation Mono" font-size="5.7" font-weight="bold" text-anchor="middle" fill="#fff">V</text>
<text x="519.37" y="138.65" font-family="Liberation Mono" font-size="5.7" font-weight="bold" text-anchor="middle" fill="#fff">Y</text>
<text x="523.23" y="138.65" font-family="Liberation Mono" font-size="5.7" font-weight="bold" text-anchor="middle" fill="#fff">V</text>
<text x="527.09" y="138.65" font-family="Liberation Mono" font-size="5.7" font-weight="bold" text-anchor="middle" fill="#111">L</text>
<text x="530.95" y="138.65" font-family="Liberation Mono" font-size="5.7" font-weight="bold" text-anchor="middle" fill="#3a3a3a">N</text>
<text x="534.81" y="138.65" font-family="Liberation Mono" font-size="5.7" font-weight="bold" text-anchor="middle" fill="#fff">L</text>
<text x="538.67" y="138.65" font-family="Liberation Mono" font-size="5.7" font-weight="bold" text-anchor="middle" fill="#111">A</text>
<text x="542.53" y="138.65" font-family="Liberation Mono" font-size="5.7" font-weight="bold" text-anchor="middle" fill="#3a3a3a">M</text>
<text x="546.39" y="138.65" font-family="Liberation Mono" font-size="5.7" font-weight="bold" text-anchor="middle" fill="#fff">S</text>
<text x="550.25" y="138.65" font-family="Liberation Mono" font-size="5.7" font-weight="bold" text-anchor="middle" fill="#fff">L</text>
<text x="554.11" y="138.65" font-family="Liberation Mono" font-size="5.7" font-weight="bold" text-anchor="middle" fill="#fff">F</text>
<text x="557.97" y="138.65" font-family="Liberation Mono" font-size="5.7" font-weight="bold" text-anchor="middle" fill="#fff">S</text>
<text x="561.83" y="138.65" font-family="Liberation Mono" font-size="5.7" font-weight="bold" text-anchor="middle" fill="#3a3a3a">P</text>
<text x="565.69" y="138.65" font-family="Liberation Mono" font-size="5.7" font-weight="bold" text-anchor="middle" fill="#3a3a3a">A</text>
<text x="569.55" y="138.65" font-family="Liberation Mono" font-size="5.7" font-weight="bold" text-anchor="middle" fill="#3a3a3a">F</text>
<text x="573.41" y="138.65" font-family="Liberation Mono" font-size="5.7" font-weight="bold" text-anchor="middle" fill="#3a3a3a">P</text>
<text x="577.27" y="138.65" font-family="Liberation Mono" font-size="5.7" font-weight="bold" text-anchor="middle" fill="#3a3a3a">L</text>
<text x="581.13" y="138.65" font-family="Liberation Mono" font-size="5.7" font-weight="bold" text-anchor="middle" fill="#fff">T</text>
<text x="584.99" y="138.65" font-family="Liberation Mono" font-size="5.7" font-weight="bold" text-anchor="middle" fill="#fff">D</text>
<text x="588.85" y="138.65" font-family="Liberation Mono" font-size="5.7" font-weight="bold" text-anchor="middle" fill="#fff">R</text>
<text x="592.71" y="138.65" font-family="Liberation Mono" font-size="5.7" font-weight="bold" text-anchor="middle" fill="#fff">P</text>
<text x="596.57" y="138.65" font-family="Liberation Mono" font-size="5.7" font-weight="bold" text-anchor="middle" fill="#fff">G</text>
<text x="600.43" y="138.65" font-family="Liberation Mono" font-size="5.7" font-weight="bold" text-anchor="middle" fill="#3a3a3a">V</text>
<text x="604.29" y="138.65" font-family="Liberation Mono" font-size="5.7" font-weight="bold" text-anchor="middle" fill="#111">T</text>
<text x="608.15" y="138.65" font-family="Liberation Mono" font-size="5.7" font-weight="bold" text-anchor="middle" fill="#3a3a3a">Q</text>
<text x="612.01" y="138.65" font-family="Liberation Mono" font-size="5.7" font-weight="bold" text-anchor="middle" fill="#3a3a3a">M</text>
<text x="615.87" y="138.65" font-family="Liberation Mono" font-size="5.7" font-weight="bold" text-anchor="middle" fill="#111">K</text>
<text x="619.73" y="138.65" font-family="Liberation Mono" font-size="5.7" font-weight="bold" text-anchor="middle" fill="#fff">V</text>
<text x="623.59" y="138.65" font-family="Liberation Mono" font-size="5.7" font-weight="bold" text-anchor="middle" fill="#fff">E</text>
<text x="627.45" y="138.65" font-family="Liberation Mono" font-size="5.7" font-weight="bold" text-anchor="middle" fill="#fff">D</text>
<text x="631.31" y="138.65" font-family="Liberation Mono" font-size="5.7" font-weight="bold" text-anchor="middle" fill="#fff">Q</text>
<text x="635.17" y="138.65" font-family="Liberation Mono" font-size="5.7" font-weight="bold" text-anchor="middle" fill="#fff">L</text>
<text x="639.03" y="138.65" font-family="Liberation Mono" font-size="5.7" font-weight="bold" text-anchor="middle" fill="#3a3a3a">Q</text>
<text x="642.89" y="138.65" font-family="Liberation Mono" font-size="5.7" font-weight="bold" text-anchor="middle" fill="#3a3a3a">E</text>
<text x="646.75" y="138.65" font-family="Liberation Mono" font-size="5.7" font-weight="bold" text-anchor="middle" fill="#fff">K</text>
<text x="650.61" y="138.65" font-family="Liberation Mono" font-size="5.7" font-weight="bold" text-anchor="middle" fill="#fff">M</text>
<text x="654.47" y="138.65" font-family="Liberation Mono" font-size="5.7" font-weight="bold" text-anchor="middle" fill="#111">A</text>
<text x="658.33" y="138.65" font-family="Liberation Mono" font-size="5.7" font-weight="bold" text-anchor="middle" fill="#fff">I</text>
<text x="662.19" y="138.65" font-family="Liberation Mono" font-size="5.7" font-weight="bold" text-anchor="middle" fill="#3a3a3a">T</text>
<text x="666.05" y="138.65" font-family="Liberation Mono" font-size="5.7" font-weight="bold" text-anchor="middle" fill="#fff">L</text>
<text x="669.91" y="138.65" font-family="Liberation Mono" font-size="5.7" font-weight="bold" text-anchor="middle" fill="#fff">K</text>
<text x="673.77" y="138.65" font-family="Liberation Mono" font-size="5.7" font-weight="bold" text-anchor="middle" fill="#3a3a3a">S</text>
<text x="475.65" y="124.45" font-family="Liberation Serif" font-size="4.8" font-weight="bold" text-anchor="end" fill="#222" letter-spacing="1.6">330</text>
<circle cx="473.05" cy="126.15" r="0.35" fill="#888"/>
<text x="514.25" y="124.45" font-family="Liberation Serif" font-size="4.8" font-weight="bold" text-anchor="end" fill="#222" letter-spacing="1.6">340</text>
<circle cx="511.65" cy="126.15" r="0.35" fill="#888"/>
<text x="552.85" y="124.45" font-family="Liberation Serif" font-size="4.8" font-weight="bold" text-anchor="end" fill="#222" letter-spacing="1.6">350</text>
<circle cx="550.25" cy="126.15" r="0.35" fill="#888"/>
<text x="610.75" y="124.45" font-family="Liberation Serif" font-size="4.8" font-weight="bold" text-anchor="end" fill="#222" letter-spacing="1.6">360</text>
<circle cx="608.15" cy="126.15" r="0.35" fill="#888"/>
<text x="649.35" y="124.45" font-family="Liberation Serif" font-size="4.8" font-weight="bold" text-anchor="end" fill="#222" letter-spacing="1.6">370</text>
<circle cx="646.75" cy="126.15" r="0.35" fill="#888"/>
<path d=" M444.50,116.95 C447.10,115.75 447.80,118.15 446.00,118.55 L444.70,119.25 L447.70,119.25 M448.36,116.95 C450.96,115.75 451.66,118.15 449.86,118.55 L448.56,119.25 L451.56,119.25 M452.22,116.95 C454.82,115.75 455.52,118.15 453.72,118.55 L452.42,119.25 L455.42,119.25 M456.08,116.95 C458.68,115.75 459.38,118.15 457.58,118.55 L456.28,119.25 L459.28,119.25 M459.94,116.95 C462.54,115.75 463.24,118.15 461.44,118.55 L460.14,119.25 L463.14,119.25 M463.80,116.95 C466.40,115.75 467.10,118.15 465.30,118.55 L464.00,119.25 L467.00,119.25 M467.66,116.95 C470.26,115.75 470.96,118.15 469.16,118.55 L467.86,119.25 L470.86,119.25 M471.52,116.95 C474.12,115.75 474.82,118.15 473.02,118.55 L471.72,119.25 L474.72,119.25 M475.38,116.95 C477.98,115.75 478.68,118.15 476.88,118.55 L475.58,119.25 L478.58,119.25 M479.24,116.95 C481.84,115.75 482.54,118.15 480.74,118.55 L479.44,119.25 L482.44,119.25" fill="none" stroke="#666" stroke-width="0.5"/>
<line x1="444.10" y1="120.05" x2="481.54" y2="120.05" stroke="#666" stroke-width="0.55"/>
<text x="463.79" y="114.55" font-family="Liberation Serif" font-size="6.2" text-anchor="middle" fill="#333">α10</text>
<path d=" M502.40,116.95 C505.00,115.75 505.70,118.15 503.90,118.55 L502.60,119.25 L505.60,119.25 M506.26,116.95 C508.86,115.75 509.56,118.15 507.76,118.55 L506.46,119.25 L509.46,119.25 M510.12,116.95 C512.72,115.75 513.42,118.15 511.62,118.55 L510.32,119.25 L513.32,119.25 M513.98,116.95 C516.58,115.75 517.28,118.15 515.48,118.55 L514.18,119.25 L517.18,119.25 M517.84,116.95 C520.44,115.75 521.14,118.15 519.34,118.55 L518.04,119.25 L521.04,119.25 M521.70,116.95 C524.30,115.75 525.00,118.15 523.20,118.55 L521.90,119.25 L524.90,119.25 M525.56,116.95 C528.16,115.75 528.86,118.15 527.06,118.55 L525.76,119.25 L528.76,119.25 M529.42,116.95 C532.02,115.75 532.72,118.15 530.92,118.55 L529.62,119.25 L532.62,119.25 M533.28,116.95 C535.88,115.75 536.58,118.15 534.78,118.55 L533.48,119.25 L536.48,119.25 M537.14,116.95 C539.74,115.75 540.44,118.15 538.64,118.55 L537.34,119.25 L540.34,119.25 M541.00,116.95 C543.60,115.75 544.30,118.15 542.50,118.55 L541.20,119.25 L544.20,119.25 M544.86,116.95 C547.46,115.75 548.16,118.15 546.36,118.55 L545.06,119.25 L548.06,119.25" fill="none" stroke="#666" stroke-width="0.5"/>
<line x1="502.00" y1="120.05" x2="548.32" y2="120.05" stroke="#666" stroke-width="0.55"/>
<text x="525.93" y="114.55" font-family="Liberation Serif" font-size="6.2" text-anchor="middle" fill="#333">α11</text>
<path d=" M606.62,116.95 C609.22,115.75 609.92,118.15 608.12,118.55 L606.82,119.25 L609.82,119.25 M610.48,116.95 C613.08,115.75 613.78,118.15 611.98,118.55 L610.68,119.25 L613.68,119.25 M614.34,116.95 C616.94,115.75 617.64,118.15 615.84,118.55 L614.54,119.25 L617.54,119.25 M618.20,116.95 C620.80,115.75 621.50,118.15 619.70,118.55 L618.40,119.25 L621.40,119.25 M622.06,116.95 C624.66,115.75 625.36,118.15 623.56,118.55 L622.26,119.25 L625.26,119.25 M625.92,116.95 C628.52,115.75 629.22,118.15 627.42,118.55 L626.12,119.25 L629.12,119.25 M629.78,116.95 C632.38,115.75 633.08,118.15 631.28,118.55 L629.98,119.25 L632.98,119.25 M633.64,116.95 C636.24,115.75 636.94,118.15 635.14,118.55 L633.84,119.25 L636.84,119.25 M637.50,116.95 C640.10,115.75 640.80,118.15 639.00,118.55 L637.70,119.25 L640.70,119.25 M641.36,116.95 C643.96,115.75 644.66,118.15 642.86,118.55 L641.56,119.25 L644.56,119.25 M645.22,116.95 C647.82,115.75 648.52,118.15 646.72,118.55 L645.42,119.25 L648.42,119.25 M649.08,116.95 C651.68,115.75 652.38,118.15 650.58,118.55 L649.28,119.25 L652.28,119.25 M652.94,116.95 C655.54,115.75 656.24,118.15 654.44,118.55 L653.14,119.25 L656.14,119.25 M656.80,116.95 C659.40,115.75 660.10,118.15 658.30,118.55 L657.00,119.25 L660.00,119.25 M660.66,116.95 C663.26,115.75 663.96,118.15 662.16,118.55 L660.86,119.25 L663.86,119.25 M664.52,116.95 C667.12,115.75 667.82,118.15 666.02,118.55 L664.72,119.25 L667.72,119.25 M668.38,116.95 C670.98,115.75 671.68,118.15 669.88,118.55 L668.58,119.25 L671.58,119.25 M672.24,116.95 C674.84,115.75 675.54,118.15 673.74,118.55 L672.44,119.25 L675.44,119.25" fill="none" stroke="#666" stroke-width="0.5"/>
<line x1="606.22" y1="120.05" x2="675.70" y2="120.05" stroke="#666" stroke-width="0.55"/>
<text x="649.84" y="114.55" font-family="Liberation Serif" font-size="6.2" text-anchor="middle" fill="#333">α12</text>
<text x="424.2" y="167.00" font-family="Liberation Serif" font-size="5.6" font-weight="bold" fill="#333" textLength="10" lengthAdjust="spacingAndGlyphs">PXR</text>
<text x="424.2" y="172.60" font-family="Liberation Serif" font-size="5.6" font-weight="bold" fill="#333" textLength="10" lengthAdjust="spacingAndGlyphs">CAR</text>
<rect x="444.10" y="162.20" width="3.91" height="11.3" fill="#f00018"/>
<rect x="444.10" y="162.20" width="3.86" height="11.3" fill="none" stroke="#7b62d8" stroke-width="0.55"/>
<rect x="455.68" y="162.20" width="3.91" height="11.3" fill="#ffff1a"/>
<rect x="455.68" y="162.20" width="3.86" height="11.3" fill="none" stroke="#7b62d8" stroke-width="0.55"/>
<rect x="471.12" y="162.20" width="3.91" height="11.3" fill="#f00018"/>
<rect x="471.12" y="162.20" width="3.86" height="11.3" fill="none" stroke="#7b62d8" stroke-width="0.55"/>
<rect x="482.70" y="162.20" width="3.91" height="11.3" fill="#f00018"/>
<rect x="486.56" y="162.20" width="3.91" height="11.3" fill="#f00018"/>
<rect x="490.42" y="162.20" width="3.91" height="11.3" fill="#f00018"/>
<rect x="494.28" y="162.20" width="3.91" height="11.3" fill="#ffff1a"/>
<rect x="498.14" y="162.20" width="3.91" height="11.3" fill="#ffff1a"/>
<rect x="502.00" y="162.20" width="3.91" height="11.3" fill="#f00018"/>
<rect x="505.86" y="162.20" width="3.91" height="11.3" fill="#ffff1a"/>
<rect x="482.70" y="162.20" width="27.02" height="11.3" fill="none" stroke="#7b62d8" stroke-width="0.55"/>
<rect x="517.44" y="162.20" width="3.91" height="11.3" fill="#ffff1a"/>
<rect x="517.44" y="162.20" width="3.86" height="11.3" fill="none" stroke="#7b62d8" stroke-width="0.55"/>
<rect x="525.16" y="162.20" width="3.91" height="11.3" fill="#f00018"/>
<rect x="529.02" y="162.20" width="3.91" height="11.3" fill="#f00018"/>
<rect x="532.88" y="162.20" width="3.91" height="11.3" fill="#f00018"/>
<rect x="536.74" y="162.20" width="3.91" height="11.3" fill="#f00018"/>
<rect x="540.60" y="162.20" width="3.91" height="11.3" fill="#f00018"/>
<rect x="544.46" y="162.20" width="3.91" height="11.3" fill="#f00018"/>
<rect x="548.32" y="162.20" width="3.91" height="11.3" fill="#f00018"/>
<rect x="525.16" y="162.20" width="27.02" height="11.3" fill="none" stroke="#7b62d8" stroke-width="0.55"/>
<rect x="571.48" y="162.20" width="3.91" height="11.3" fill="#ffff1a"/>
<rect x="571.48" y="162.20" width="3.86" height="11.3" fill="none" stroke="#7b62d8" stroke-width="0.55"/>
<rect x="579.20" y="162.20" width="3.91" height="11.3" fill="#f00018"/>
<rect x="583.06" y="162.20" width="3.91" height="11.3" fill="#f00018"/>
<rect x="586.92" y="162.20" width="3.91" height="11.3" fill="#f00018"/>
<rect x="579.20" y="162.20" width="11.58" height="11.3" fill="none" stroke="#7b62d8" stroke-width="0.55"/>
<rect x="594.64" y="162.20" width="3.91" height="11.3" fill="#ffff1a"/>
<rect x="594.64" y="162.20" width="3.86" height="11.3" fill="none" stroke="#7b62d8" stroke-width="0.55"/>
<rect x="617.80" y="162.20" width="3.91" height="11.3" fill="#f00018"/>
<rect x="621.66" y="162.20" width="3.91" height="11.3" fill="#f00018"/>
<rect x="625.52" y="162.20" width="3.91" height="11.3" fill="#ffff1a"/>
<rect x="629.38" y="162.20" width="3.91" height="11.3" fill="#f00018"/>
<rect x="633.24" y="162.20" width="3.91" height="11.3" fill="#f00018"/>
<rect x="637.10" y="162.20" width="3.91" height="11.3" fill="#ffff1a"/>
<rect x="617.80" y="162.20" width="23.16" height="11.3" fill="none" stroke="#7b62d8" stroke-width="0.55"/>
<text x="446.03" y="167.10" font-family="Liberation Mono" font-size="5.7" font-weight="bold" text-anchor="middle" fill="#fff">S</text>
<text x="449.89" y="167.10" font-family="Liberation Mono" font-size="5.7" font-weight="bold" text-anchor="middle" fill="#3a3a3a">K</text>
<text x="453.75" y="167.10" font-family="Liberation Mono" font-size="5.7" font-weight="bold" text-anchor="middle" fill="#3a3a3a">Q</text>
<text x="457.61" y="167.10" font-family="Liberation Mono" font-size="5.7" font-weight="bold" text-anchor="middle" fill="#111">N</text>
<text x="461.47" y="167.10" font-family="Liberation Mono" font-size="5.7" font-weight="bold" text-anchor="middle" fill="#3a3a3a">P</text>
<text x="465.33" y="167.10" font-family="Liberation Mono" font-size="5.7" font-weight="bold" text-anchor="middle" fill="#3a3a3a">Q</text>
<text x="469.19" y="167.10" font-family="Liberation Mono" font-size="5.7" font-weight="bold" text-anchor="middle" fill="#3a3a3a">R</text>
<text x="473.05" y="167.10" font-family="Liberation Mono" font-size="5.7" font-weight="bold" text-anchor="middle" fill="#fff">R</text>
<text x="476.91" y="167.10" font-family="Liberation Mono" font-size="5.7" font-weight="bold" text-anchor="middle" fill="#3a3a3a">A</text>
<text x="480.77" y="167.10" font-family="Liberation Mono" font-size="5.7" font-weight="bold" text-anchor="middle" fill="#3a3a3a">H</text>
<text x="484.63" y="167.10" font-family="Liberation Mono" font-size="5.7" font-weight="bold" text-anchor="middle" fill="#fff">F</text>
<text x="488.49" y="167.10" font-family="Liberation Mono" font-size="5.7" font-weight="bold" text-anchor="middle" fill="#fff">L</text>
<text x="492.35" y="167.10" font-family="Liberation Mono" font-size="5.7" font-weight="bold" text-anchor="middle" fill="#fff">F</text>
<text x="496.21" y="167.10" font-family="Liberation Mono" font-size="5.7" font-weight="bold" text-anchor="middle" fill="#111">L</text>
<text x="500.07" y="167.10" font-family="Liberation Mono" font-size="5.7" font-weight="bold" text-anchor="middle" fill="#111">I</text>
<text x="503.93" y="167.10" font-family="Liberation Mono" font-size="5.7" font-weight="bold" text-anchor="middle" fill="#fff">H</text>
<text x="507.79" y="167.10" font-family="Liberation Mono" font-size="5.7" font-weight="bold" text-anchor="middle" fill="#111">M</text>
<text x="511.65" y="167.10" font-family="Liberation Mono" font-size="5.7" font-weight="bold" text-anchor="middle" fill="#3a3a3a">A</text>
<text x="515.51" y="167.10" font-family="Liberation Mono" font-size="5.7" font-weight="bold" text-anchor="middle" fill="#3a3a3a">S</text>
<text x="519.37" y="167.10" font-family="Liberation Mono" font-size="5.7" font-weight="bold" text-anchor="middle" fill="#111">E</text>
<text x="523.23" y="167.10" font-family="Liberation Mono" font-size="5.7" font-weight="bold" text-anchor="middle" fill="#3a3a3a">L</text>
<text x="527.09" y="167.10" font-family="Liberation Mono" font-size="5.7" font-weight="bold" text-anchor="middle" fill="#fff">L</text>
<text x="530.95" y="167.10" font-family="Liberation Mono" font-size="5.7" font-weight="bold" text-anchor="middle" fill="#fff">S</text>
<text x="534.81" y="167.10" font-family="Liberation Mono" font-size="5.7" font-weight="bold" text-anchor="middle" fill="#fff">S</text>
<text x="538.67" y="167.10" font-family="Liberation Mono" font-size="5.7" font-weight="bold" text-anchor="middle" fill="#fff">I</text>
<text x="542.53" y="167.10" font-family="Liberation Mono" font-size="5.7" font-weight="bold" text-anchor="middle" fill="#fff">N</text>
<text x="546.39" y="167.10" font-family="Liberation Mono" font-size="5.7" font-weight="bold" text-anchor="middle" fill="#fff">A</text>
<text x="550.25" y="167.10" font-family="Liberation Mono" font-size="5.7" font-weight="bold" text-anchor="middle" fill="#fff">G</text>
<text x="554.11" y="167.10" font-family="Liberation Mono" font-size="5.7" font-weight="bold" text-anchor="middle" fill="#3a3a3a">L</text>
<text x="557.97" y="167.10" font-family="Liberation Mono" font-size="5.7" font-weight="bold" text-anchor="middle" fill="#3a3a3a">T</text>
<text x="561.83" y="167.10" font-family="Liberation Mono" font-size="5.7" font-weight="bold" text-anchor="middle" fill="#3a3a3a">Q</text>
<text x="565.69" y="167.10" font-family="Liberation Mono" font-size="5.7" font-weight="bold" text-anchor="middle" fill="#3a3a3a">S</text>
<text x="569.55" y="167.10" font-family="Liberation Mono" font-size="5.7" font-weight="bold" text-anchor="middle" fill="#3a3a3a">S</text>
<text x="573.41" y="167.10" font-family="Liberation Mono" font-size="5.7" font-weight="bold" text-anchor="middle" fill="#111">L</text>
<text x="577.27" y="167.10" font-family="Liberation Mono" font-size="5.7" font-weight="bold" text-anchor="middle" fill="#3a3a3a">S</text>
<text x="581.13" y="167.10" font-family="Liberation Mono" font-size="5.7" font-weight="bold" text-anchor="middle" fill="#fff">R</text>
<text x="584.99" y="167.10" font-family="Liberation Mono" font-size="5.7" font-weight="bold" text-anchor="middle" fill="#fff">I</text>
<text x="588.85" y="167.10" font-family="Liberation Mono" font-size="5.7" font-weight="bold" text-anchor="middle" fill="#fff">Q</text>
<text x="592.71" y="167.10" font-family="Liberation Mono" font-size="5.7" font-weight="bold" text-anchor="middle" fill="#3a3a3a">S</text>
<text x="596.57" y="167.10" font-family="Liberation Mono" font-size="5.7" font-weight="bold" text-anchor="middle" fill="#111">S</text>
<text x="600.43" y="167.10" font-family="Liberation Mono" font-size="5.7" font-weight="bold" text-anchor="middle" fill="#3a3a3a">R</text>
<text x="604.29" y="167.10" font-family="Liberation Mono" font-size="5.7" font-weight="bold" text-anchor="middle" fill="#3a3a3a">P</text>
<text x="608.15" y="167.10" font-family="Liberation Mono" font-size="5.7" font-weight="bold" text-anchor="middle" fill="#3a3a3a">F</text>
<text x="612.01" y="167.10" font-family="Liberation Mono" font-size="5.7" font-weight="bold" text-anchor="middle" fill="#3a3a3a">V</text>
<text x="615.87" y="167.10" font-family="Liberation Mono" font-size="5.7" font-weight="bold" text-anchor="middle" fill="#3a3a3a">A</text>
<text x="619.73" y="167.10" font-family="Liberation Mono" font-size="5.7" font-weight="bold" text-anchor="middle" fill="#fff">P</text>
<text x="623.59" y="167.10" font-family="Liberation Mono" font-size="5.7" font-weight="bold" text-anchor="middle" fill="#fff">L</text>
<text x="627.45" y="167.10" font-family="Liberation Mono" font-size="5.7" font-weight="bold" text-anchor="middle" fill="#111">M</text>
<text x="631.31" y="167.10" font-family="Liberation Mono" font-size="5.7" font-weight="bold" text-anchor="middle" fill="#fff">Q</text>
<text x="635.17" y="167.10" font-family="Liberation Mono" font-size="5.7" font-weight="bold" text-anchor="middle" fill="#fff">R</text>
<text x="639.03" y="167.10" font-family="Liberation Mono" font-size="5.7" font-weight="bold" text-anchor="middle" fill="#111">L</text>
<text x="642.89" y="167.10" font-family="Liberation Mono" font-size="5.7" font-weight="bold" text-anchor="middle" fill="#3a3a3a">E</text>
<text x="646.75" y="167.10" font-family="Liberation Mono" font-size="5.7" font-weight="bold" text-anchor="middle" fill="#3a3a3a">F</text>
<text x="650.61" y="167.10" font-family="Liberation Mono" font-size="5.7" font-weight="bold" text-anchor="middle" fill="#3a3a3a">G</text>
<text x="654.47" y="167.10" font-family="Liberation Mono" font-size="5.7" font-weight="bold" text-anchor="middle" fill="#3a3a3a">I</text>
<text x="658.33" y="167.10" font-family="Liberation Mono" font-size="5.7" font-weight="bold" text-anchor="middle" fill="#3a3a3a">T</text>
<text x="662.19" y="167.10" font-family="Liberation Mono" font-size="5.7" font-weight="bold" text-anchor="middle" fill="#3a3a3a">G</text>
<text x="666.05" y="167.10" font-family="Liberation Mono" font-size="5.7" font-weight="bold" text-anchor="middle" fill="#3a3a3a">S</text>
<circle cx="669.91" cy="166.30" r="0.35" fill="#666"/>
<circle cx="673.77" cy="166.30" r="0.35" fill="#666"/>
<text x="446.03" y="172.70" font-family="Liberation Mono" font-size="5.7" font-weight="bold" text-anchor="middle" fill="#fff">E</text>
<text x="449.89" y="172.70" font-family="Liberation Mono" font-size="5.7" font-weight="bold" text-anchor="middle" fill="#3a3a3a">K</text>
<text x="453.75" y="172.70" font-family="Liberation Mono" font-size="5.7" font-weight="bold" text-anchor="middle" fill="#3a3a3a">Q</text>
<text x="457.61" y="172.70" font-family="Liberation Mono" font-size="5.7" font-weight="bold" text-anchor="middle" fill="#111">Q</text>
<text x="461.47" y="172.70" font-family="Liberation Mono" font-size="5.7" font-weight="bold" text-anchor="middle" fill="#3a3a3a">R</text>
<text x="465.33" y="172.70" font-family="Liberation Mono" font-size="5.7" font-weight="bold" text-anchor="middle" fill="#3a3a3a">R</text>
<text x="469.19" y="172.70" font-family="Liberation Mono" font-size="5.7" font-weight="bold" text-anchor="middle" fill="#3a3a3a">F</text>
<text x="473.05" y="172.70" font-family="Liberation Mono" font-size="5.7" font-weight="bold" text-anchor="middle" fill="#fff">R</text>
<text x="476.91" y="172.70" font-family="Liberation Mono" font-size="5.7" font-weight="bold" text-anchor="middle" fill="#3a3a3a">S</text>
<text x="480.77" y="172.70" font-family="Liberation Mono" font-size="5.7" font-weight="bold" text-anchor="middle" fill="#3a3a3a">H</text>
<text x="484.63" y="172.70" font-family="Liberation Mono" font-size="5.7" font-weight="bold" text-anchor="middle" fill="#fff">P</text>
<text x="488.49" y="172.70" font-family="Liberation Mono" font-size="5.7" font-weight="bold" text-anchor="middle" fill="#fff">L</text>
<text x="492.35" y="172.70" font-family="Liberation Mono" font-size="5.7" font-weight="bold" text-anchor="middle" fill="#fff">Y</text>
<text x="496.21" y="172.70" font-family="Liberation Mono" font-size="5.7" font-weight="bold" text-anchor="middle" fill="#111">A</text>
<text x="500.07" y="172.70" font-family="Liberation Mono" font-size="5.7" font-weight="bold" text-anchor="middle" fill="#111">L</text>
<text x="503.93" y="172.70" font-family="Liberation Mono" font-size="5.7" font-weight="bold" text-anchor="middle" fill="#fff">L</text>
<text x="507.79" y="172.70" font-family="Liberation Mono" font-size="5.7" font-weight="bold" text-anchor="middle" fill="#111">C</text>
<text x="511.65" y="172.70" font-family="Liberation Mono" font-size="5.7" font-weight="bold" text-anchor="middle" fill="#3a3a3a">S</text>
<text x="515.51" y="172.70" font-family="Liberation Mono" font-size="5.7" font-weight="bold" text-anchor="middle" fill="#3a3a3a">L</text>
<text x="519.37" y="172.70" font-family="Liberation Mono" font-size="5.7" font-weight="bold" text-anchor="middle" fill="#111">L</text>
<text x="523.23" y="172.70" font-family="Liberation Mono" font-size="5.7" font-weight="bold" text-anchor="middle" fill="#3a3a3a">S</text>
<text x="527.09" y="172.70" font-family="Liberation Mono" font-size="5.7" font-weight="bold" text-anchor="middle" fill="#fff">S</text>
<text x="530.95" y="172.70" font-family="Liberation Mono" font-size="5.7" font-weight="bold" text-anchor="middle" fill="#fff">I</text>
<text x="534.81" y="172.70" font-family="Liberation Mono" font-size="5.7" font-weight="bold" text-anchor="middle" fill="#fff">N</text>
<text x="538.67" y="172.70" font-family="Liberation Mono" font-size="5.7" font-weight="bold" text-anchor="middle" fill="#fff">E</text>
<text x="542.53" y="172.70" font-family="Liberation Mono" font-size="5.7" font-weight="bold" text-anchor="middle" fill="#fff">A</text>
<text x="546.39" y="172.70" font-family="Liberation Mono" font-size="5.7" font-weight="bold" text-anchor="middle" fill="#fff">T</text>
<text x="550.25" y="172.70" font-family="Liberation Mono" font-size="5.7" font-weight="bold" text-anchor="middle" fill="#fff">C</text>
<text x="554.11" y="172.70" font-family="Liberation Mono" font-size="5.7" font-weight="bold" text-anchor="middle" fill="#3a3a3a">Y</text>
<text x="557.97" y="172.70" font-family="Liberation Mono" font-size="5.7" font-weight="bold" text-anchor="middle" fill="#3a3a3a">Q</text>
<text x="561.83" y="172.70" font-family="Liberation Mono" font-size="5.7" font-weight="bold" text-anchor="middle" fill="#3a3a3a">I</text>
<text x="565.69" y="172.70" font-family="Liberation Mono" font-size="5.7" font-weight="bold" text-anchor="middle" fill="#3a3a3a">Q</text>
<text x="569.55" y="172.70" font-family="Liberation Mono" font-size="5.7" font-weight="bold" text-anchor="middle" fill="#3a3a3a">M</text>
<text x="573.41" y="172.70" font-family="Liberation Mono" font-size="5.7" font-weight="bold" text-anchor="middle" fill="#111">I</text>
<text x="577.27" y="172.70" font-family="Liberation Mono" font-size="5.7" font-weight="bold" text-anchor="middle" fill="#3a3a3a">C</text>
<text x="581.13" y="172.70" font-family="Liberation Mono" font-size="5.7" font-weight="bold" text-anchor="middle" fill="#fff">L</text>
<text x="584.99" y="172.70" font-family="Liberation Mono" font-size="5.7" font-weight="bold" text-anchor="middle" fill="#fff">S</text>
<text x="588.85" y="172.70" font-family="Liberation Mono" font-size="5.7" font-weight="bold" text-anchor="middle" fill="#fff">A</text>
<text x="592.71" y="172.70" font-family="Liberation Mono" font-size="5.7" font-weight="bold" text-anchor="middle" fill="#3a3a3a">M</text>
<circle cx="596.57" cy="171.90" r="0.35" fill="#666"/>
<text x="600.43" y="172.70" font-family="Liberation Mono" font-size="5.7" font-weight="bold" text-anchor="middle" fill="#3a3a3a">N</text>
<text x="604.29" y="172.70" font-family="Liberation Mono" font-size="5.7" font-weight="bold" text-anchor="middle" fill="#3a3a3a">P</text>
<text x="608.15" y="172.70" font-family="Liberation Mono" font-size="5.7" font-weight="bold" text-anchor="middle" fill="#3a3a3a">L</text>
<text x="612.01" y="172.70" font-family="Liberation Mono" font-size="5.7" font-weight="bold" text-anchor="middle" fill="#3a3a3a">L</text>
<text x="615.87" y="172.70" font-family="Liberation Mono" font-size="5.7" font-weight="bold" text-anchor="middle" fill="#3a3a3a">Q</text>
<text x="619.73" y="172.70" font-family="Liberation Mono" font-size="5.7" font-weight="bold" text-anchor="middle" fill="#fff">E</text>
<text x="623.59" y="172.70" font-family="Liberation Mono" font-size="5.7" font-weight="bold" text-anchor="middle" fill="#fff">I</text>
<text x="627.45" y="172.70" font-family="Liberation Mono" font-size="5.7" font-weight="bold" text-anchor="middle" fill="#111">C</text>
<text x="631.31" y="172.70" font-family="Liberation Mono" font-size="5.7" font-weight="bold" text-anchor="middle" fill="#fff">S</text>
<circle cx="635.17" cy="171.90" r="0.35" fill="#666"/>
<circle cx="639.03" cy="171.90" r="0.35" fill="#666"/>
<circle cx="642.89" cy="171.90" r="0.35" fill="#666"/>
<circle cx="646.75" cy="171.90" r="0.35" fill="#666"/>
<circle cx="650.61" cy="171.90" r="0.35" fill="#666"/>
<circle cx="654.47" cy="171.90" r="0.35" fill="#666"/>
<circle cx="658.33" cy="171.90" r="0.35" fill="#666"/>
<circle cx="662.19" cy="171.90" r="0.35" fill="#666"/>
<circle cx="666.05" cy="171.90" r="0.35" fill="#666"/>
<circle cx="669.91" cy="171.90" r="0.35" fill="#666"/>
<circle cx="673.77" cy="171.90" r="0.35" fill="#666"/>
<text x="460.21" y="158.50" font-family="Liberation Serif" font-size="4.8" font-weight="bold" text-anchor="end" fill="#222" letter-spacing="1.6">380</text>
<circle cx="457.61" cy="160.20" r="0.35" fill="#888"/>
<text x="494.95" y="158.50" font-family="Liberation Serif" font-size="4.8" font-weight="bold" text-anchor="end" fill="#222" letter-spacing="1.6">390</text>
<circle cx="492.35" cy="160.20" r="0.35" fill="#888"/>
<text x="533.55" y="158.50" font-family="Liberation Serif" font-size="4.8" font-weight="bold" text-anchor="end" fill="#222" letter-spacing="1.6">400</text>
<circle cx="530.95" cy="160.20" r="0.35" fill="#888"/>
<text x="572.15" y="158.50" font-family="Liberation Serif" font-size="4.8" font-weight="bold" text-anchor="end" fill="#222" letter-spacing="1.6">410</text>
<circle cx="569.55" cy="160.20" r="0.35" fill="#888"/>
<text x="610.75" y="158.50" font-family="Liberation Serif" font-size="4.8" font-weight="bold" text-anchor="end" fill="#222" letter-spacing="1.6">420</text>
<circle cx="608.15" cy="160.20" r="0.35" fill="#888"/>
<text x="649.35" y="158.50" font-family="Liberation Serif" font-size="4.8" font-weight="bold" text-anchor="end" fill="#222" letter-spacing="1.6">430</text>
<circle cx="646.75" cy="160.20" r="0.35" fill="#888"/>
<path d=" M444.50,151.00 C447.10,149.80 447.80,152.20 446.00,152.60 L444.70,153.30 L447.70,153.30 M448.36,151.00 C450.96,149.80 451.66,152.20 449.86,152.60 L448.56,153.30 L451.56,153.30 M452.22,151.00 C454.82,149.80 455.52,152.20 453.72,152.60 L452.42,153.30 L455.42,153.30" fill="none" stroke="#666" stroke-width="0.5"/>
<line x1="444.10" y1="154.10" x2="457.61" y2="154.10" stroke="#666" stroke-width="0.55"/>
<path d=" M490.82,151.00 C493.42,149.80 494.12,152.20 492.32,152.60 L491.02,153.30 L494.02,153.30 M494.68,151.00 C497.28,149.80 497.98,152.20 496.18,152.60 L494.88,153.30 L497.88,153.30 M498.54,151.00 C501.14,149.80 501.84,152.20 500.04,152.60 L498.74,153.30 L501.74,153.30 M502.40,151.00 C505.00,149.80 505.70,152.20 503.90,152.60 L502.60,153.30 L505.60,153.30 M506.26,151.00 C508.86,149.80 509.56,152.20 507.76,152.60 L506.46,153.30 L509.46,153.30 M510.12,151.00 C512.72,149.80 513.42,152.20 511.62,152.60 L510.32,153.30 L513.32,153.30 M513.98,151.00 C516.58,149.80 517.28,152.20 515.48,152.60 L514.18,153.30 L517.18,153.30 M517.84,151.00 C520.44,149.80 521.14,152.20 519.34,152.60 L518.04,153.30 L521.04,153.30 M521.70,151.00 C524.30,149.80 525.00,152.20 523.20,152.60 L521.90,153.30 L524.90,153.30 M525.56,151.00 C528.16,149.80 528.86,152.20 527.06,152.60 L525.76,153.30 L528.76,153.30 M529.42,151.00 C532.02,149.80 532.72,152.20 530.92,152.60 L529.62,153.30 L532.62,153.30 M533.28,151.00 C535.88,149.80 536.58,152.20 534.78,152.60 L533.48,153.30 L536.48,153.30 M537.14,151.00 C539.74,149.80 540.44,152.20 538.64,152.60 L537.34,153.30 L540.34,153.30 M541.00,151.00 C543.60,149.80 544.30,152.20 542.50,152.60 L541.20,153.30 L544.20,153.30 M544.86,151.00 C547.46,149.80 548.16,152.20 546.36,152.60 L545.06,153.30 L548.06,153.30 M548.72,151.00 C551.32,149.80 552.02,152.20 550.22,152.60 L548.92,153.30 L551.92,153.30 M552.58,151.00 C555.18,149.80 555.88,152.20 554.08,152.60 L552.78,153.30 L555.78,153.30 M556.44,151.00 C559.04,149.80 559.74,152.20 557.94,152.60 L556.64,153.30 L559.64,153.30 M560.30,151.00 C562.90,149.80 563.60,152.20 561.80,152.60 L560.50,153.30 L563.50,153.30 M564.16,151.00 C566.76,149.80 567.46,152.20 565.66,152.60 L564.36,153.30 L567.36,153.30 M568.02,151.00 C570.62,149.80 571.32,152.20 569.52,152.60 L568.22,153.30 L571.22,153.30 M571.88,151.00 C574.48,149.80 575.18,152.20 573.38,152.60 L572.08,153.30 L575.08,153.30 M575.74,151.00 C578.34,149.80 579.04,152.20 577.24,152.60 L575.94,153.30 L578.94,153.30 M579.60,151.00 C582.20,149.80 582.90,152.20 581.10,152.60 L579.80,153.30 L582.80,153.30 M583.46,151.00 C586.06,149.80 586.76,152.20 584.96,152.60 L583.66,153.30 L586.66,153.30 M587.32,151.00 C589.92,149.80 590.62,152.20 588.82,152.60 L587.52,153.30 L590.52,153.30 M591.18,151.00 C593.78,149.80 594.48,152.20 592.68,152.60 L591.38,153.30 L594.38,153.30 M595.04,151.00 C597.64,149.80 598.34,152.20 596.54,152.60 L595.24,153.30 L598.24,153.30" fill="none" stroke="#666" stroke-width="0.5"/>
<line x1="490.42" y1="154.10" x2="598.50" y2="154.10" stroke="#666" stroke-width="0.55"/>
<text x="545.62" y="148.60" font-family="Liberation Serif" font-size="6.2" text-anchor="middle" fill="#333">α13</text>
<path d=" M622.06,151.00 C624.66,149.80 625.36,152.20 623.56,152.60 L622.26,153.30 L625.26,153.30 M625.92,151.00 C628.52,149.80 629.22,152.20 627.42,152.60 L626.12,153.30 L629.12,153.30 M629.78,151.00 C632.38,149.80 633.08,152.20 631.28,152.60 L629.98,153.30 L632.98,153.30 M633.64,151.00 C636.24,149.80 636.94,152.20 635.14,152.60 L633.84,153.30 L636.84,153.30 M637.50,151.00 C640.10,149.80 640.80,152.20 639.00,152.60 L637.70,153.30 L640.70,153.30 M641.36,151.00 C643.96,149.80 644.66,152.20 642.86,152.60 L641.56,153.30 L644.56,153.30 M645.22,151.00 C647.82,149.80 648.52,152.20 646.72,152.60 L645.42,153.30 L648.42,153.30" fill="none" stroke="#666" stroke-width="0.5"/>
<line x1="621.66" y1="154.10" x2="648.68" y2="154.10" stroke="#666" stroke-width="0.55"/>
<text x="633.63" y="148.60" font-family="Liberation Serif" font-size="6.2" text-anchor="middle" fill="#333">α14</text>
<g>
<path d="M258,62 L300,56 L306,70 L300,100 L282,104 L268,100 L262,80 Z" fill="#d9b98c" opacity="1"/>
<path d="M268,100 L296,101 L298,108 L288,114 L276,116 Z" fill="#cfae80" opacity="1"/>
<path d="M264,104 L275,104 L279,150 L272,158 L268,140 Z" fill="#c9a97c" opacity="1"/>
<path d="M232,112 L262,104 L264,140 L252,146 L236,130 Z" fill="#78c5e8" opacity="1"/>
<path d="M311,39 C320,38 329,39 330,44 C331,50 328,54 329,57 C326,59 318,58 312,57 C304,56 298,52 294,50" fill="none" stroke="#3f93bd" stroke-width="2.1" stroke-linecap="round" stroke-linejoin="round"/>
<path d="M311,39 C320,38 329,39 330,44 C331,50 328,54 329,57 C326,59 318,58 312,57 C304,56 298,52 294,50" fill="none" stroke="#5bb6e0" stroke-width="1.5" stroke-linecap="round" stroke-linejoin="round"/>
<path d="M308,42 C314,46 316,52 310,56" fill="none" stroke="#a98a62" stroke-width="1.9" stroke-linecap="round" stroke-linejoin="round"/>
<path d="M308,42 C314,46 316,52 310,56" fill="none" stroke="#d9b98c" stroke-width="1.3" stroke-linecap="round" stroke-linejoin="round"/>
<path d="M218,53 C213,58 210,62 211,66 C213,70 216,72 215,74" fill="none" stroke="#3f93bd" stroke-width="2.0" stroke-linecap="round" stroke-linejoin="round"/>
<path d="M218,53 C213,58 210,62 211,66 C213,70 216,72 215,74" fill="none" stroke="#5bb6e0" stroke-width="1.4" stroke-linecap="round" stroke-linejoin="round"/>
<path d="M221,55 C217,60 214,64 216,68 C218,72 219,73 217,76" fill="none" stroke="#a98a62" stroke-width="1.9" stroke-linecap="round" stroke-linejoin="round"/>
<path d="M221,55 C217,60 214,64 216,68 C218,72 219,73 217,76" fill="none" stroke="#d9b98c" stroke-width="1.3" stroke-linecap="round" stroke-linejoin="round"/>
<path d="M233,57 C229,62 230,66 234,66 C238,66 240,64 243,68 C246,71 249,70 252,68" fill="none" stroke="#3f93bd" stroke-width="1.9" stroke-linecap="round" stroke-linejoin="round"/>
<path d="M233,57 C229,62 230,66 234,66 C238,66 240,64 243,68 C246,71 249,70 252,68" fill="none" stroke="#5bb6e0" stroke-width="1.3" stroke-linecap="round" stroke-linejoin="round"/>
<path d="M235,60 C232,64 234,68 238,68 C242,68 244,70 248,71" fill="none" stroke="#a98a62" stroke-width="1.7999999999999998" stroke-linecap="round" stroke-linejoin="round"/>
<path d="M235,60 C232,64 234,68 238,68 C242,68 244,70 248,71" fill="none" stroke="#d9b98c" stroke-width="1.2" stroke-linecap="round" stroke-linejoin="round"/>
<path d="M283,14 C288,8 293,6 296,9 C298,12 300,12 303,9" fill="none" stroke="#3f93bd" stroke-width="2.1" stroke-linecap="round" stroke-linejoin="round"/>
<path d="M283,14 C288,8 293,6 296,9 C298,12 300,12 303,9" fill="none" stroke="#5bb6e0" stroke-width="1.5" stroke-linecap="round" stroke-linejoin="round"/>
<path d="M296,12 C300,7 304,7 306,5" fill="none" stroke="#a98a62" stroke-width="1.9" stroke-linecap="round" stroke-linejoin="round"/>
<path d="M296,12 C300,7 304,7 306,5" fill="none" stroke="#d9b98c" stroke-width="1.3" stroke-linecap="round" stroke-linejoin="round"/>
<path d="M308,88 C316,84 318,92 312,96" fill="none" stroke="#3f93bd" stroke-width="1.9" stroke-linecap="round" stroke-linejoin="round"/>
<path d="M308,88 C316,84 318,92 312,96" fill="none" stroke="#5bb6e0" stroke-width="1.3" stroke-linecap="round" stroke-linejoin="round"/>
<path d="M300,101 C306,104 312,106 316,112 C320,118 318,124 314,126" fill="none" stroke="#a98a62" stroke-width="1.9" stroke-linecap="round" stroke-linejoin="round"/>
<path d="M300,101 C306,104 312,106 316,112 C320,118 318,124 314,126" fill="none" stroke="#d9b98c" stroke-width="1.3" stroke-linecap="round" stroke-linejoin="round"/>
<path d="M314,112 C320,110 324,114 323,120 C322,126 326,130 322,134" fill="none" stroke="#3f93bd" stroke-width="1.9" stroke-linecap="round" stroke-linejoin="round"/>
<path d="M314,112 C320,110 324,114 323,120 C322,126 326,130 322,134" fill="none" stroke="#5bb6e0" stroke-width="1.3" stroke-linecap="round" stroke-linejoin="round"/>
<path d="M315,100 C322,102 328,106 330,112 C332,118 326,124 322,126" fill="none" stroke="#a98a62" stroke-width="1.7999999999999998" stroke-linecap="round" stroke-linejoin="round"/>
<path d="M315,100 C322,102 328,106 330,112 C332,118 326,124 322,126" fill="none" stroke="#d9b98c" stroke-width="1.2" stroke-linecap="round" stroke-linejoin="round"/>
<path d="M303,140 L330,142 L334,139 L345,144 L334,149 L331,146 L303,146 Z" fill="#d2b387" stroke="#a98a62" stroke-width="0.4"/>
<path d="M300,150 L326,156 L330,153 L342,160 L330,165 L327,162 L300,157 Z" fill="#ccad82" stroke="#a98a62" stroke-width="0.4"/>
<path d="M296,160 L318,166 L320,163 L330,170 L320,174 L318,171 L296,166 Z" fill="#d2b387" stroke="#a98a62" stroke-width="0.4"/>
<path d="M292,150 C298,156 296,164 304,168 C310,172 306,178 312,182 C318,186 324,184 326,178" fill="none" stroke="#3f93bd" stroke-width="2.0" stroke-linecap="round" stroke-linejoin="round"/>
<path d="M292,150 C298,156 296,164 304,168 C310,172 306,178 312,182 C318,186 324,184 326,178" fill="none" stroke="#5bb6e0" stroke-width="1.4" stroke-linecap="round" stroke-linejoin="round"/>
<path d="M296,146 C304,150 314,148 320,150 C328,152 334,150 338,146 C342,142 340,138 334,138" fill="none" stroke="#3f93bd" stroke-width="1.9" stroke-linecap="round" stroke-linejoin="round"/>
<path d="M296,146 C304,150 314,148 320,150 C328,152 334,150 338,146 C342,142 340,138 334,138" fill="none" stroke="#5bb6e0" stroke-width="1.3" stroke-linecap="round" stroke-linejoin="round"/>
<path d="M300,168 C306,176 304,184 300,188" fill="none" stroke="#a98a62" stroke-width="1.9" stroke-linecap="round" stroke-linejoin="round"/>
<path d="M300,168 C306,176 304,184 300,188" fill="none" stroke="#d9b98c" stroke-width="1.3" stroke-linecap="round" stroke-linejoin="round"/>
<path d="M288,142 C284,150 280,158 284,166 C286,172 290,176 288,182" fill="none" stroke="#a98a62" stroke-width="1.9" stroke-linecap="round" stroke-linejoin="round"/>
<path d="M288,142 C284,150 280,158 284,166 C286,172 290,176 288,182" fill="none" stroke="#d9b98c" stroke-width="1.3" stroke-linecap="round" stroke-linejoin="round"/>
<path d="M226,124 C226,132 222,138 216,143" fill="none" stroke="#a98a62" stroke-width="1.9" stroke-linecap="round" stroke-linejoin="round"/>
<path d="M226,124 C226,132 222,138 216,143" fill="none" stroke="#d9b98c" stroke-width="1.3" stroke-linecap="round" stroke-linejoin="round"/>
<path d="M236,162 C240,166 246,168 249,166 C252,163 252,160 255,158" fill="none" stroke="#a98a62" stroke-width="1.9" stroke-linecap="round" stroke-linejoin="round"/>
<path d="M236,162 C240,166 246,168 249,166 C252,163 252,160 255,158" fill="none" stroke="#d9b98c" stroke-width="1.3" stroke-linecap="round" stroke-linejoin="round"/>
<path d="M262,168 C266,174 264,178 259,182" fill="none" stroke="#a98a62" stroke-width="1.9" stroke-linecap="round" stroke-linejoin="round"/>
<path d="M262,168 C266,174 264,178 259,182" fill="none" stroke="#d9b98c" stroke-width="1.3" stroke-linecap="round" stroke-linejoin="round"/>
<path d="M292,178 C296,182 300,186 306,186" fill="none" stroke="#3f93bd" stroke-width="1.9" stroke-linecap="round" stroke-linejoin="round"/>
<path d="M292,178 C296,182 300,186 306,186" fill="none" stroke="#5bb6e0" stroke-width="1.3" stroke-linecap="round" stroke-linejoin="round"/>
<linearGradient id="g1" gradientUnits="userSpaceOnUse" x1="260.78" y1="51.19" x2="259.22" y2="40.31"><stop offset="0" stop-color="#a98a62"/><stop offset="0.3" stop-color="#d9b98c"/><stop offset="0.65" stop-color="#f0dcbc"/><stop offset="1" stop-color="#d9b98c"/></linearGradient>
<line x1="220.00" y1="51.50" x2="300.00" y2="40.00" stroke="url(#g1)" stroke-width="11" opacity="1.0"/>
<linearGradient id="g2" gradientUnits="userSpaceOnUse" x1="299.18" y1="39.18" x2="297.32" y2="26.82"><stop offset="0" stop-color="#a98a62"/><stop offset="0.3" stop-color="#d9b98c"/><stop offset="0.65" stop-color="#f0dcbc"/><stop offset="1" stop-color="#d9b98c"/></linearGradient>
<line x1="285.00" y1="35.00" x2="311.50" y2="31.00" stroke="url(#g2)" stroke-width="12.5" opacity="1.0"/>
<ellipse cx="311.50" cy="31.00" rx="3.12" ry="6.25" transform="rotate(-8.6 311.50 31.00)" fill="#f0dcbc" stroke="#a98a62" stroke-width="0.4"/>
<linearGradient id="g3" gradientUnits="userSpaceOnUse" x1="249.04" y1="61.41" x2="246.96" y2="49.59"><stop offset="0" stop-color="#a98a62"/><stop offset="0.3" stop-color="#d9b98c"/><stop offset="0.65" stop-color="#f0dcbc"/><stop offset="1" stop-color="#d9b98c"/></linearGradient>
<line x1="239.50" y1="57.00" x2="256.50" y2="54.00" stroke="url(#g3)" stroke-width="12" opacity="1.0"/>
<ellipse cx="239.50" cy="57.00" rx="3.00" ry="6.00" transform="rotate(-10.0 239.50 57.00)" fill="#f0dcbc" stroke="#a98a62" stroke-width="0.4"/>
<linearGradient id="g4" gradientUnits="userSpaceOnUse" x1="280.93" y1="72.43" x2="279.07" y2="60.07"><stop offset="0" stop-color="#a98a62"/><stop offset="0.3" stop-color="#d9b98c"/><stop offset="0.65" stop-color="#f0dcbc"/><stop offset="1" stop-color="#d9b98c"/></linearGradient>
<line x1="255.00" y1="70.00" x2="305.00" y2="62.50" stroke="url(#g4)" stroke-width="12.5" opacity="1.0"/>
<ellipse cx="305.00" cy="62.50" rx="3.12" ry="6.25" transform="rotate(-8.5 305.00 62.50)" fill="#f0dcbc" stroke="#a98a62" stroke-width="0.4"/>
<linearGradient id="g5" gradientUnits="userSpaceOnUse" x1="269.54" y1="130.59" x2="278.46" y2="129.41"><stop offset="0" stop-color="#a98a62"/><stop offset="0.3" stop-color="#d9b98c"/><stop offset="0.65" stop-color="#f0dcbc"/><stop offset="1" stop-color="#d9b98c"/></linearGradient>
<line x1="270.00" y1="100.00" x2="278.00" y2="160.00" stroke="url(#g5)" stroke-width="9" opacity="1.0"/>
<linearGradient id="g6" gradientUnits="userSpaceOnUse" x1="294.00" y1="102.00" x2="294.00" y2="94.00"><stop offset="0" stop-color="#a98a62"/><stop offset="0.3" stop-color="#d9b98c"/><stop offset="0.65" stop-color="#f0dcbc"/><stop offset="1" stop-color="#d9b98c"/></linearGradient>
<line x1="276.00" y1="98.00" x2="312.00" y2="98.00" stroke="url(#g6)" stroke-width="8" opacity="1.0"/>
<linearGradient id="g7" gradientUnits="userSpaceOnUse" x1="293.00" y1="98.25" x2="293.00" y2="89.75"><stop offset="0" stop-color="#3f93bd"/><stop offset="0.3" stop-color="#6ec4ea"/><stop offset="0.65" stop-color="#b6e3f6"/><stop offset="1" stop-color="#6ec4ea"/></linearGradient>
<line x1="274.00" y1="94.00" x2="312.00" y2="94.00" stroke="url(#g7)" stroke-width="8.5" opacity="1.0"/>
<ellipse cx="312.00" cy="94.00" rx="2.12" ry="4.25" transform="rotate(0.0 312.00 94.00)" fill="#b6e3f6" stroke="#3f93bd" stroke-width="0.4"/>
<linearGradient id="g8" gradientUnits="userSpaceOnUse" x1="300.88" y1="42.98" x2="300.12" y2="35.02"><stop offset="0" stop-color="#3f93bd"/><stop offset="0.3" stop-color="#6ec4ea"/><stop offset="0.65" stop-color="#b6e3f6"/><stop offset="1" stop-color="#6ec4ea"/></linearGradient>
<line x1="290.00" y1="40.00" x2="311.00" y2="38.00" stroke="url(#g8)" stroke-width="8" opacity="1.0"/>
<linearGradient id="g9" gradientUnits="userSpaceOnUse" x1="310.82" y1="85.86" x2="306.18" y2="78.14"><stop offset="0" stop-color="#3f93bd"/><stop offset="0.3" stop-color="#6ec4ea"/><stop offset="0.65" stop-color="#b6e3f6"/><stop offset="1" stop-color="#6ec4ea"/></linearGradient>
<line x1="303.50" y1="85.00" x2="313.50" y2="79.00" stroke="url(#g9)" stroke-width="9" opacity="1.0"/>
<ellipse cx="313.50" cy="79.00" rx="2.25" ry="4.50" transform="rotate(-31.0 313.50 79.00)" fill="#b6e3f6" stroke="#3f93bd" stroke-width="0.4"/>
<linearGradient id="g10" gradientUnits="userSpaceOnUse" x1="241.64" y1="130.35" x2="250.36" y2="123.65"><stop offset="0" stop-color="#3f93bd"/><stop offset="0.3" stop-color="#6ec4ea"/><stop offset="0.65" stop-color="#b6e3f6"/><stop offset="1" stop-color="#6ec4ea"/></linearGradient>
<line x1="236.00" y1="114.00" x2="256.00" y2="140.00" stroke="url(#g10)" stroke-width="11" opacity="1.0"/>
<linearGradient id="g11" gradientUnits="userSpaceOnUse" x1="232.21" y1="93.89" x2="238.79" y2="82.11"><stop offset="0" stop-color="#8e7050"/><stop offset="0.3" stop-color="#b8966c"/><stop offset="0.65" stop-color="#d6b78e"/><stop offset="1" stop-color="#b8966c"/></linearGradient>
<line x1="214.00" y1="76.00" x2="257.00" y2="100.00" stroke="url(#g11)" stroke-width="13.5" opacity="1.0"/>
<ellipse cx="214.00" cy="76.00" rx="3.38" ry="6.75" transform="rotate(29.2 214.00 76.00)" fill="#d6b78e" stroke="#8e7050" stroke-width="0.4"/>
<path d="M246,112 C247,108 252,107 257,109 C261,110 263,113 262,117 C264,120 266,124 266,129 C266,133 262,135 259,133 C256,130 254,126 252,124 C248,123 245,120 246,116 Z" fill="#3f47d6" stroke="#2328a0" stroke-width="0.5"/>
<path d="M254,123 C258,121 263,125 265,130 C265,134 261,135 258,132 Z" fill="#b9b9ee"/>
<path d="M249,113 C252,111 256,112 257,114" fill="none" stroke="#8c92ee" stroke-width="1"/>
<path d="M281,119 C283,115 288,116 291,115 C295,114 299,117 300,121 C301,125 298,127 299,131 C300,135 297,139 293,141 C290,143 286,141 284,138 C281,136 282,132 280,129 C279,125 280,122 281,119 Z" fill="#e27c58" stroke="#c0552f" stroke-width="0.5"/>
<path d="M284,123 C287,120 292,121 294,124 C296,127 294,130 295,133 C295,136 292,138 289,137 C286,136 286,132 285,129 Z" fill="#f6ddd2"/>
<path d="M286,126 L292,131 M291,124 L288,134 M285,131 L293,128" stroke="#d0502c" stroke-width="0.8" fill="none"/>
<path d="M287,115 C289,114 292,114 294,116" fill="none" stroke="#2a2ab0" stroke-width="1.4"/>
<linearGradient id="g12" gradientUnits="userSpaceOnUse" x1="255.74" y1="49.00" x2="254.26" y2="37.60"><stop offset="0" stop-color="#3f93bd"/><stop offset="0.3" stop-color="#6ec4ea"/><stop offset="0.65" stop-color="#b6e3f6"/><stop offset="1" stop-color="#6ec4ea"/></linearGradient>
<line x1="219.00" y1="48.00" x2="291.00" y2="38.60" stroke="url(#g12)" stroke-width="11.5" opacity="1.0"/>
<ellipse cx="219.00" cy="48.00" rx="2.88" ry="5.75" transform="rotate(-7.4 219.00 48.00)" fill="#b6e3f6" stroke="#3f93bd" stroke-width="0.4"/>
<path d="M264,77 C265,95 269,115 274,130 C278,143 284,155 291,167" fill="none" stroke="#3f93bd" stroke-width="10.2" stroke-linecap="round" stroke-linejoin="round"/>
<path d="M264,77 C265,95 269,115 274,130 C278,143 284,155 291,167" fill="none" stroke="#6ec4ea" stroke-width="9.5" stroke-linecap="round" stroke-linejoin="round"/>
<path d="M264,77 C265,95 269,115 274,130 C278,143 284,155 291,167" fill="none" stroke="#b6e3f6" stroke-width="2.66" stroke-linecap="round" transform="translate(-1.71,0)" opacity="0.85"/>
<ellipse cx="264.2" cy="77" rx="5.1" ry="2.3" fill="#a6dcf3" stroke="#3f93bd" stroke-width="0.4"/>
<path d="M283.4,16 C284.5,35 286,53 290.7,73" fill="none" stroke="#3f93bd" stroke-width="13.2" stroke-linecap="round" stroke-linejoin="round"/>
<path d="M283.4,16 C284.5,35 286,53 290.7,73" fill="none" stroke="#6ec4ea" stroke-width="12.5" stroke-linecap="round" stroke-linejoin="round"/>
<path d="M283.4,16 C284.5,35 286,53 290.7,73" fill="none" stroke="#b6e3f6" stroke-width="3.50" stroke-linecap="round" transform="translate(-2.25,0)" opacity="0.85"/>
<linearGradient id="g13" gradientUnits="userSpaceOnUse" x1="285.89" y1="80.31" x2="298.11" y2="77.69"><stop offset="0" stop-color="#a98a62"/><stop offset="0.3" stop-color="#d9b98c"/><stop offset="0.65" stop-color="#f0dcbc"/><stop offset="1" stop-color="#d9b98c"/></linearGradient>
<line x1="290.50" y1="72.00" x2="293.50" y2="86.00" stroke="url(#g13)" stroke-width="12.5" opacity="1.0"/>
<ellipse cx="293.50" cy="86.00" rx="3.12" ry="6.25" transform="rotate(77.9 293.50 86.00)" fill="#f0dcbc" stroke="#a98a62" stroke-width="0.4"/>
<ellipse cx="283.2" cy="15" rx="6.2" ry="2.6" fill="#a6dcf3" stroke="#3f93bd" stroke-width="0.4"/>
<path d="M273,16 C276,12 281,12 282,16 L283,24 L276,24 Z" fill="#d9b98c" stroke="#a98a62" stroke-width="0.4"/>
<linearGradient id="g14" gradientUnits="userSpaceOnUse" x1="235.37" y1="133.30" x2="242.13" y2="122.20"><stop offset="0" stop-color="#a98a62"/><stop offset="0.3" stop-color="#d9b98c"/><stop offset="0.65" stop-color="#f0dcbc"/><stop offset="1" stop-color="#d9b98c"/></linearGradient>
<line x1="228.50" y1="121.50" x2="249.00" y2="134.00" stroke="url(#g14)" stroke-width="13" opacity="1.0"/>
<ellipse cx="228.50" cy="121.50" rx="3.25" ry="6.50" transform="rotate(31.4 228.50 121.50)" fill="#f0dcbc" stroke="#a98a62" stroke-width="0.4"/>
<ellipse cx="249.00" cy="134.00" rx="3.25" ry="6.50" transform="rotate(31.4 249.00 134.00)" fill="#f0dcbc" stroke="#a98a62" stroke-width="0.4"/>
<path d="M244,137 C242,146 239,154 237,161" fill="none" stroke="#a98a62" stroke-width="9.2" stroke-linecap="round" stroke-linejoin="round"/>
<path d="M244,137 C242,146 239,154 237,161" fill="none" stroke="#d9b98c" stroke-width="8.5" stroke-linecap="round" stroke-linejoin="round"/>
<path d="M244,137 C242,146 239,154 237,161" fill="none" stroke="#f0dcbc" stroke-width="2.38" stroke-linecap="round" transform="translate(-1.53,0)" opacity="0.85"/>
<ellipse cx="241" cy="163" rx="6" ry="2.6" fill="#e3c8a0" stroke="#a98a62" stroke-width="0.4"/>
<linearGradient id="g15" gradientUnits="userSpaceOnUse" x1="245.30" y1="150.00" x2="256.30" y2="150.00"><stop offset="0" stop-color="#3f93bd"/><stop offset="0.3" stop-color="#6ec4ea"/><stop offset="0.65" stop-color="#b6e3f6"/><stop offset="1" stop-color="#6ec4ea"/></linearGradient>
<line x1="250.80" y1="143.50" x2="250.80" y2="156.50" stroke="url(#g15)" stroke-width="11" opacity="1.0"/>
<ellipse cx="250.8" cy="143.5" rx="5.5" ry="3" fill="#9fd8f1" stroke="#3f93bd" stroke-width="0.4"/>
<path d="M248,158 C246,162 248,166 252,165" fill="none" stroke="#a98a62" stroke-width="1.7999999999999998" stroke-linecap="round" stroke-linejoin="round"/>
<path d="M248,158 C246,162 248,166 252,165" fill="none" stroke="#d9b98c" stroke-width="1.2" stroke-linecap="round" stroke-linejoin="round"/>
<linearGradient id="g16" gradientUnits="userSpaceOnUse" x1="300.03" y1="127.92" x2="312.47" y2="129.08"><stop offset="0" stop-color="#3f93bd"/><stop offset="0.3" stop-color="#6ec4ea"/><stop offset="0.65" stop-color="#b6e3f6"/><stop offset="1" stop-color="#6ec4ea"/></linearGradient>
<line x1="307.50" y1="115.00" x2="305.00" y2="142.00" stroke="url(#g16)" stroke-width="12.5" opacity="1.0"/>
<ellipse cx="307.5" cy="115.3" rx="6.2" ry="2.8" fill="#a6dcf3" stroke="#3f93bd" stroke-width="0.4"/>
<path d="M300,122 C304,118 310,116 312,119 C313,122 306,126 300,132 C296,138 294,146 290,150" fill="none" stroke="#a98a62" stroke-width="1.9" stroke-linecap="round" stroke-linejoin="round"/>
<path d="M300,122 C304,118 310,116 312,119 C313,122 306,126 300,132 C296,138 294,146 290,150" fill="none" stroke="#d9b98c" stroke-width="1.3" stroke-linecap="round" stroke-linejoin="round"/>
<linearGradient id="g17" gradientUnits="userSpaceOnUse" x1="314.09" y1="159.37" x2="319.91" y2="150.63"><stop offset="0" stop-color="#3f93bd"/><stop offset="0.3" stop-color="#6ec4ea"/><stop offset="0.65" stop-color="#b6e3f6"/><stop offset="1" stop-color="#6ec4ea"/></linearGradient>
<line x1="311.00" y1="151.00" x2="323.00" y2="159.00" stroke="url(#g17)" stroke-width="10.5" opacity="1.0"/>
<ellipse cx="311.00" cy="151.00" rx="2.62" ry="5.25" transform="rotate(33.7 311.00 151.00)" fill="#b6e3f6" stroke="#3f93bd" stroke-width="0.4"/>
<line x1="309.50" y1="127.30" x2="339.50" y2="127.30" stroke="#333" stroke-width="0.5"/>
<line x1="318.50" y1="157.00" x2="332.00" y2="169.50" stroke="#333" stroke-width="0.5"/>
</g>
<text x="267.60" y="12.00" font-size="6.2" font-weight="bold" text-anchor="middle" fill="#5e5246">H1</text>
<text x="261.60" y="26.00" font-size="6.2" font-weight="bold" text-anchor="middle" fill="#1a82a6">H1</text>
<text x="212.60" y="40.00" font-size="6.2" font-weight="bold" text-anchor="middle" fill="#1a82a6">H9</text>
<text x="208.00" y="47.70" font-size="6.2" font-weight="bold" text-anchor="middle" fill="#5e5246">H9</text>
<text x="200.50" y="84.50" font-size="6.2" font-weight="bold" text-anchor="middle" fill="#5e5246">H4</text>
<text x="208.60" y="92.40" font-size="6.2" font-weight="bold" text-anchor="middle" fill="#1a82a6">H4</text>
<text x="224.10" y="112.90" font-size="6.2" font-weight="bold" text-anchor="middle" fill="#1a82a6">H12</text>
<text x="215.30" y="130.20" font-size="6.2" font-weight="bold" text-anchor="middle" fill="#5e5246">H12</text>
<text x="224.10" y="159.90" font-size="6.2" font-weight="bold" text-anchor="middle" fill="#1a82a6">H11</text>
<text x="230.20" y="173.20" font-size="6.2" font-weight="bold" text-anchor="middle" fill="#5e5246">H11</text>
<text x="257.60" y="170.90" font-size="6.2" font-weight="bold" text-anchor="middle" fill="#1a82a6">HX</text>
<text x="269.50" y="175.60" font-size="6.2" font-weight="bold" text-anchor="middle" fill="#5e5246">H3</text>
<text x="281.70" y="183.80" font-size="6.2" font-weight="bold" text-anchor="middle" fill="#1a82a6">H3</text>
<text x="320.20" y="95.50" font-size="6.2" font-weight="bold" text-anchor="middle" fill="#5e5246">H5</text>
<text x="329.20" y="101.00" font-size="6.2" font-weight="bold" text-anchor="middle" fill="#1a82a6">H5</text>
<text x="344.50" y="129.40" font-size="6.2" font-weight="bold" text-anchor="middle" fill="#1a82a6">H2</text>
<text x="332.40" y="176.70" font-size="6.2" font-weight="bold" text-anchor="middle" fill="#1a82a6">H2'</text>
<text x="323.3" y="20.7" font-size="5.6" font-weight="bold" fill="#7a6a58">5X0R:A</text>
<text x="352.2" y="20.7" font-size="5.6" font-weight="bold" fill="#7a6a58">PXR-LBD</text>
<text x="382.9" y="20.7" font-size="5.6" font-weight="bold" fill="#1a2a8a">SJB7</text>
<text x="323.3" y="30.1" font-size="5.6" font-weight="bold" fill="#1a86a8">1XVP:D</text>
<text x="352.2" y="30.1" font-size="5.6" font-weight="bold" fill="#1a86a8">CAR-LBD</text>
<text x="382.9" y="30.1" font-size="5.6" font-weight="bold" fill="#e02020">CITCO</text>
</svg></body></html>
